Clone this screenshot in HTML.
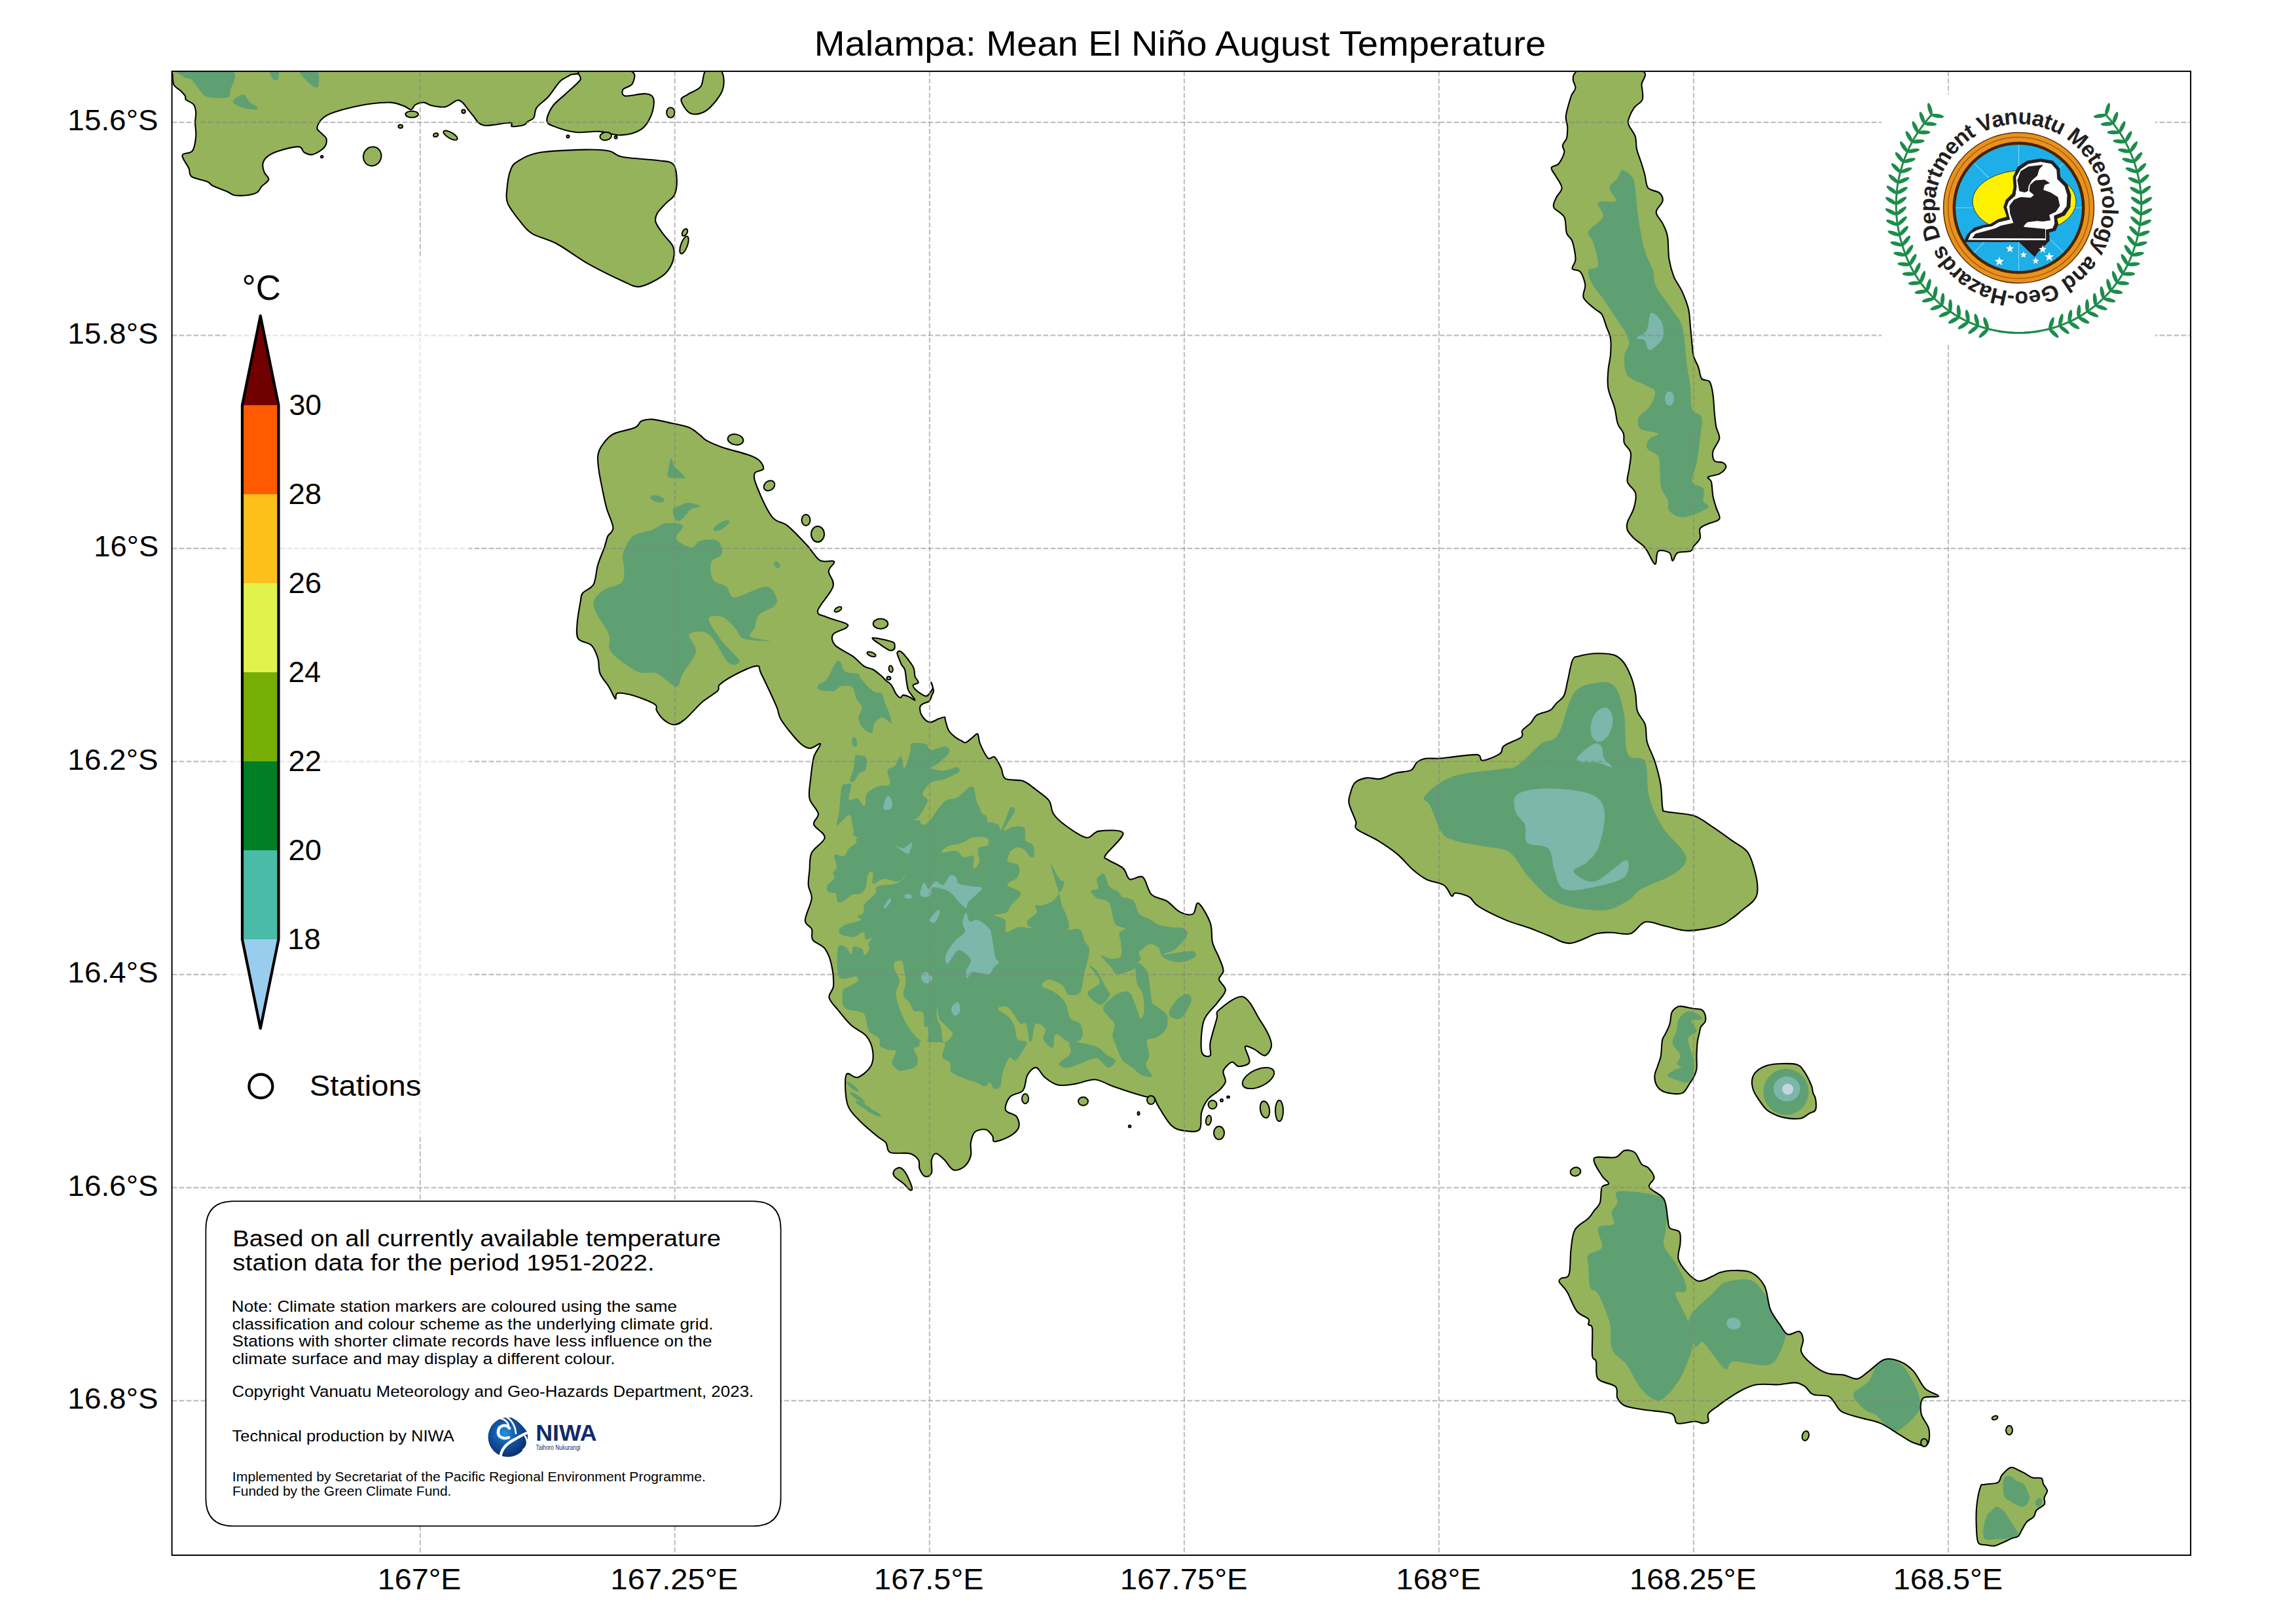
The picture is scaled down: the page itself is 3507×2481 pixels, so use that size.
<!DOCTYPE html><html><head><meta charset="utf-8"><style>html,body{margin:0;padding:0;background:#fff;overflow:hidden}svg{display:block}text{font-family:"Liberation Sans",sans-serif}</style></head><body>
<svg width="3507" height="2481" viewBox="0 0 3507 2481">
<defs><clipPath id="frame"><rect x="262.6" y="108.9" width="3083.5" height="2267.0"/></clipPath></defs>
<rect width="3507" height="2481" fill="#fff"/>
<g clip-path="url(#frame)">
<clipPath id="c1"><path d="M262.0 108.0 C160.8 108.7 262.7 108.4 263.3 112.0 C263.9 115.6 263.4 125.1 265.4 129.4 C267.4 133.8 272.3 135.2 275.2 138.1 C278.1 141.0 281.4 144.4 282.9 146.8 C284.4 149.2 281.8 150.1 284.0 152.3 C286.2 154.5 293.4 156.6 295.9 159.9 C298.4 163.2 298.8 167.4 299.2 171.9 C299.6 176.4 298.1 180.9 298.1 187.1 C298.1 193.3 299.9 201.6 299.2 208.9 C298.5 216.2 297.2 226.0 293.8 230.7 C290.4 235.4 279.4 232.8 278.5 237.2 C277.6 241.5 285.9 251.4 288.3 256.8 C290.7 262.2 288.0 266.4 292.7 269.9 C297.4 273.3 311.2 275.1 316.6 277.5 C322.0 279.9 320.2 281.5 325.3 284.0 C330.4 286.5 341.7 290.3 347.1 292.7 C352.6 295.1 352.9 297.3 358.0 298.2 C363.1 299.1 371.8 298.9 377.6 298.2 C383.4 297.5 389.2 296.0 392.8 293.8 C396.4 291.6 396.5 288.4 399.4 285.1 C402.3 281.8 409.6 277.8 410.3 274.2 C411.0 270.6 405.2 267.3 403.7 263.3 C402.2 259.3 400.8 254.3 401.5 250.3 C402.2 246.3 404.1 242.7 408.1 239.4 C412.1 236.1 417.5 233.2 425.5 230.7 C433.5 228.1 449.5 223.8 456.0 224.1 C462.5 224.4 461.1 230.8 464.7 232.8 C468.3 234.8 472.7 237.4 477.8 236.1 C482.9 234.8 491.8 229.2 495.2 225.2 C498.6 221.2 499.2 215.8 498.5 212.2 C497.8 208.6 493.2 206.1 490.8 203.4 C488.4 200.7 484.3 199.2 484.3 195.8 C484.3 192.4 487.5 186.4 490.8 182.8 C494.1 179.2 497.0 176.9 503.9 174.0 C510.8 171.1 522.0 167.8 532.2 165.3 C542.4 162.8 554.0 160.2 564.9 158.8 C575.8 157.4 588.8 156.1 597.5 156.6 C606.2 157.1 612.0 160.3 617.1 162.1 C622.2 163.9 625.1 167.9 628.0 167.5 C630.9 167.1 631.3 161.7 634.6 159.9 C637.9 158.1 643.6 156.4 647.6 156.6 C651.6 156.8 653.0 159.9 658.5 161.0 C664.0 162.1 673.8 164.5 680.3 163.2 C686.8 161.9 693.4 154.5 697.7 153.4 C702.1 152.3 703.5 154.2 706.4 156.6 C709.3 158.9 712.2 163.9 715.1 167.5 C718.0 171.1 721.4 175.1 723.9 178.4 C726.4 181.7 727.9 184.9 730.4 187.1 C732.9 189.3 735.3 190.9 739.1 191.5 C742.9 192.1 746.5 191.6 753.3 190.9 C760.1 190.2 775.1 187.2 779.9 187.6 C784.7 188.0 778.8 192.5 782.1 193.1 C785.4 193.7 795.8 192.2 799.9 190.9 C804.0 189.6 803.9 187.2 806.5 185.4 C809.1 183.6 813.2 183.3 815.4 179.8 C817.6 176.3 816.1 169.7 819.8 164.3 C823.5 159.0 831.7 154.3 837.6 147.7 C843.5 141.0 849.8 129.9 855.3 124.4 C860.8 118.9 868.2 117.1 870.8 114.4 C873.4 111.7 972.3 109.1 870.8 108.0 C769.3 106.9 363.2 107.3 262.0 108.0Z"/></clipPath>
<path d="M262.0 108.0 C160.8 108.7 262.7 108.4 263.3 112.0 C263.9 115.6 263.4 125.1 265.4 129.4 C267.4 133.8 272.3 135.2 275.2 138.1 C278.1 141.0 281.4 144.4 282.9 146.8 C284.4 149.2 281.8 150.1 284.0 152.3 C286.2 154.5 293.4 156.6 295.9 159.9 C298.4 163.2 298.8 167.4 299.2 171.9 C299.6 176.4 298.1 180.9 298.1 187.1 C298.1 193.3 299.9 201.6 299.2 208.9 C298.5 216.2 297.2 226.0 293.8 230.7 C290.4 235.4 279.4 232.8 278.5 237.2 C277.6 241.5 285.9 251.4 288.3 256.8 C290.7 262.2 288.0 266.4 292.7 269.9 C297.4 273.3 311.2 275.1 316.6 277.5 C322.0 279.9 320.2 281.5 325.3 284.0 C330.4 286.5 341.7 290.3 347.1 292.7 C352.6 295.1 352.9 297.3 358.0 298.2 C363.1 299.1 371.8 298.9 377.6 298.2 C383.4 297.5 389.2 296.0 392.8 293.8 C396.4 291.6 396.5 288.4 399.4 285.1 C402.3 281.8 409.6 277.8 410.3 274.2 C411.0 270.6 405.2 267.3 403.7 263.3 C402.2 259.3 400.8 254.3 401.5 250.3 C402.2 246.3 404.1 242.7 408.1 239.4 C412.1 236.1 417.5 233.2 425.5 230.7 C433.5 228.1 449.5 223.8 456.0 224.1 C462.5 224.4 461.1 230.8 464.7 232.8 C468.3 234.8 472.7 237.4 477.8 236.1 C482.9 234.8 491.8 229.2 495.2 225.2 C498.6 221.2 499.2 215.8 498.5 212.2 C497.8 208.6 493.2 206.1 490.8 203.4 C488.4 200.7 484.3 199.2 484.3 195.8 C484.3 192.4 487.5 186.4 490.8 182.8 C494.1 179.2 497.0 176.9 503.9 174.0 C510.8 171.1 522.0 167.8 532.2 165.3 C542.4 162.8 554.0 160.2 564.9 158.8 C575.8 157.4 588.8 156.1 597.5 156.6 C606.2 157.1 612.0 160.3 617.1 162.1 C622.2 163.9 625.1 167.9 628.0 167.5 C630.9 167.1 631.3 161.7 634.6 159.9 C637.9 158.1 643.6 156.4 647.6 156.6 C651.6 156.8 653.0 159.9 658.5 161.0 C664.0 162.1 673.8 164.5 680.3 163.2 C686.8 161.9 693.4 154.5 697.7 153.4 C702.1 152.3 703.5 154.2 706.4 156.6 C709.3 158.9 712.2 163.9 715.1 167.5 C718.0 171.1 721.4 175.1 723.9 178.4 C726.4 181.7 727.9 184.9 730.4 187.1 C732.9 189.3 735.3 190.9 739.1 191.5 C742.9 192.1 746.5 191.6 753.3 190.9 C760.1 190.2 775.1 187.2 779.9 187.6 C784.7 188.0 778.8 192.5 782.1 193.1 C785.4 193.7 795.8 192.2 799.9 190.9 C804.0 189.6 803.9 187.2 806.5 185.4 C809.1 183.6 813.2 183.3 815.4 179.8 C817.6 176.3 816.1 169.7 819.8 164.3 C823.5 159.0 831.7 154.3 837.6 147.7 C843.5 141.0 849.8 129.9 855.3 124.4 C860.8 118.9 868.2 117.1 870.8 114.4 C873.4 111.7 972.3 109.1 870.8 108.0 C769.3 106.9 363.2 107.3 262.0 108.0Z" fill="#95b35a"/>
<g clip-path="url(#c1)">
<path d="M275.0 108.0 C287.1 106.4 340.9 102.8 353.6 108.0 C366.4 113.2 352.6 132.4 351.5 139.2 C350.4 146.0 352.9 147.6 347.1 149.0 C341.3 150.4 323.9 150.1 316.6 147.9 C309.4 145.7 307.6 140.2 303.6 135.9 C299.6 131.6 296.5 124.9 292.7 121.8 C288.9 118.7 283.6 119.7 280.7 117.4 C277.8 115.1 262.9 109.6 275.0 108.0Z" fill="#5fa072"/>
<path d="M355.8 154.4 C357.2 151.7 366.7 144.2 371.1 144.6 C375.5 145.0 378.4 153.5 382.0 156.6 C385.6 159.7 391.4 161.4 392.8 163.2 C394.2 165.0 394.0 167.2 390.7 167.5 C387.4 167.8 377.9 166.4 373.2 165.3 C368.5 164.2 365.3 162.8 362.4 161.0 C359.5 159.2 354.4 157.1 355.8 154.4Z" fill="#5fa072"/>
<path d="M458.2 108.0 C461.1 105.7 479.6 104.2 484.3 108.0 C489.0 111.8 487.2 126.4 486.5 130.5 C485.8 134.6 483.3 134.1 480.0 132.7 C476.7 131.2 470.5 125.9 466.9 121.8 C463.3 117.7 455.3 110.3 458.2 108.0Z" fill="#5fa072"/>
<path d="M412.4 108.0 C414.0 106.0 423.6 105.7 425.5 108.0 C427.4 110.3 425.6 119.8 424.0 121.8 C422.4 123.8 417.9 122.3 416.0 120.0 C414.1 117.7 410.8 110.0 412.4 108.0Z" fill="#5fa072"/>
</g>
<path d="M262.0 108.0 C160.8 108.7 262.7 108.4 263.3 112.0 C263.9 115.6 263.4 125.1 265.4 129.4 C267.4 133.8 272.3 135.2 275.2 138.1 C278.1 141.0 281.4 144.4 282.9 146.8 C284.4 149.2 281.8 150.1 284.0 152.3 C286.2 154.5 293.4 156.6 295.9 159.9 C298.4 163.2 298.8 167.4 299.2 171.9 C299.6 176.4 298.1 180.9 298.1 187.1 C298.1 193.3 299.9 201.6 299.2 208.9 C298.5 216.2 297.2 226.0 293.8 230.7 C290.4 235.4 279.4 232.8 278.5 237.2 C277.6 241.5 285.9 251.4 288.3 256.8 C290.7 262.2 288.0 266.4 292.7 269.9 C297.4 273.3 311.2 275.1 316.6 277.5 C322.0 279.9 320.2 281.5 325.3 284.0 C330.4 286.5 341.7 290.3 347.1 292.7 C352.6 295.1 352.9 297.3 358.0 298.2 C363.1 299.1 371.8 298.9 377.6 298.2 C383.4 297.5 389.2 296.0 392.8 293.8 C396.4 291.6 396.5 288.4 399.4 285.1 C402.3 281.8 409.6 277.8 410.3 274.2 C411.0 270.6 405.2 267.3 403.7 263.3 C402.2 259.3 400.8 254.3 401.5 250.3 C402.2 246.3 404.1 242.7 408.1 239.4 C412.1 236.1 417.5 233.2 425.5 230.7 C433.5 228.1 449.5 223.8 456.0 224.1 C462.5 224.4 461.1 230.8 464.7 232.8 C468.3 234.8 472.7 237.4 477.8 236.1 C482.9 234.8 491.8 229.2 495.2 225.2 C498.6 221.2 499.2 215.8 498.5 212.2 C497.8 208.6 493.2 206.1 490.8 203.4 C488.4 200.7 484.3 199.2 484.3 195.8 C484.3 192.4 487.5 186.4 490.8 182.8 C494.1 179.2 497.0 176.9 503.9 174.0 C510.8 171.1 522.0 167.8 532.2 165.3 C542.4 162.8 554.0 160.2 564.9 158.8 C575.8 157.4 588.8 156.1 597.5 156.6 C606.2 157.1 612.0 160.3 617.1 162.1 C622.2 163.9 625.1 167.9 628.0 167.5 C630.9 167.1 631.3 161.7 634.6 159.9 C637.9 158.1 643.6 156.4 647.6 156.6 C651.6 156.8 653.0 159.9 658.5 161.0 C664.0 162.1 673.8 164.5 680.3 163.2 C686.8 161.9 693.4 154.5 697.7 153.4 C702.1 152.3 703.5 154.2 706.4 156.6 C709.3 158.9 712.2 163.9 715.1 167.5 C718.0 171.1 721.4 175.1 723.9 178.4 C726.4 181.7 727.9 184.9 730.4 187.1 C732.9 189.3 735.3 190.9 739.1 191.5 C742.9 192.1 746.5 191.6 753.3 190.9 C760.1 190.2 775.1 187.2 779.9 187.6 C784.7 188.0 778.8 192.5 782.1 193.1 C785.4 193.7 795.8 192.2 799.9 190.9 C804.0 189.6 803.9 187.2 806.5 185.4 C809.1 183.6 813.2 183.3 815.4 179.8 C817.6 176.3 816.1 169.7 819.8 164.3 C823.5 159.0 831.7 154.3 837.6 147.7 C843.5 141.0 849.8 129.9 855.3 124.4 C860.8 118.9 868.2 117.1 870.8 114.4 C873.4 111.7 972.3 109.1 870.8 108.0 C769.3 106.9 363.2 107.3 262.0 108.0Z" fill="none" stroke="#000" stroke-width="2.1" stroke-linejoin="round"/>
<clipPath id="c2"><path d="M888.5 108.0 C875.9 110.4 890.3 116.3 886.3 122.2 C882.2 128.1 871.2 136.5 864.2 143.2 C857.2 149.8 849.0 155.3 844.2 162.1 C839.4 168.9 834.9 179.0 835.3 184.2 C835.7 189.4 839.0 190.1 846.4 193.1 C853.8 196.1 868.2 200.7 879.7 202.0 C891.2 203.3 903.7 200.2 915.1 200.9 C926.5 201.6 937.7 207.0 948.4 206.4 C959.1 205.8 971.6 202.8 979.4 197.6 C987.2 192.4 991.9 183.2 995.0 175.4 C998.1 167.6 999.8 156.4 998.3 151.0 C996.8 145.6 993.3 143.9 986.1 143.2 C978.9 142.5 960.7 147.7 955.0 146.6 C949.3 145.5 949.9 139.8 951.7 136.6 C953.6 133.4 964.4 132.5 966.1 127.7 C967.8 122.9 974.6 111.3 961.7 108.0 C948.8 104.7 901.1 105.6 888.5 108.0Z"/></clipPath>
<path d="M888.5 108.0 C875.9 110.4 890.3 116.3 886.3 122.2 C882.2 128.1 871.2 136.5 864.2 143.2 C857.2 149.8 849.0 155.3 844.2 162.1 C839.4 168.9 834.9 179.0 835.3 184.2 C835.7 189.4 839.0 190.1 846.4 193.1 C853.8 196.1 868.2 200.7 879.7 202.0 C891.2 203.3 903.7 200.2 915.1 200.9 C926.5 201.6 937.7 207.0 948.4 206.4 C959.1 205.8 971.6 202.8 979.4 197.6 C987.2 192.4 991.9 183.2 995.0 175.4 C998.1 167.6 999.8 156.4 998.3 151.0 C996.8 145.6 993.3 143.9 986.1 143.2 C978.9 142.5 960.7 147.7 955.0 146.6 C949.3 145.5 949.9 139.8 951.7 136.6 C953.6 133.4 964.4 132.5 966.1 127.7 C967.8 122.9 974.6 111.3 961.7 108.0 C948.8 104.7 901.1 105.6 888.5 108.0Z" fill="#95b35a"/>
<path d="M888.5 108.0 C875.9 110.4 890.3 116.3 886.3 122.2 C882.2 128.1 871.2 136.5 864.2 143.2 C857.2 149.8 849.0 155.3 844.2 162.1 C839.4 168.9 834.9 179.0 835.3 184.2 C835.7 189.4 839.0 190.1 846.4 193.1 C853.8 196.1 868.2 200.7 879.7 202.0 C891.2 203.3 903.7 200.2 915.1 200.9 C926.5 201.6 937.7 207.0 948.4 206.4 C959.1 205.8 971.6 202.8 979.4 197.6 C987.2 192.4 991.9 183.2 995.0 175.4 C998.1 167.6 999.8 156.4 998.3 151.0 C996.8 145.6 993.3 143.9 986.1 143.2 C978.9 142.5 960.7 147.7 955.0 146.6 C949.3 145.5 949.9 139.8 951.7 136.6 C953.6 133.4 964.4 132.5 966.1 127.7 C967.8 122.9 974.6 111.3 961.7 108.0 C948.8 104.7 901.1 105.6 888.5 108.0Z" fill="none" stroke="#000" stroke-width="2.1" stroke-linejoin="round"/>
<clipPath id="c3"><path d="M1078.1 108.0 C1072.9 112.0 1074.9 126.0 1070.3 132.1 C1065.7 138.2 1055.4 140.8 1050.4 144.3 C1045.4 147.8 1039.7 148.4 1040.4 153.2 C1041.1 158.0 1048.3 170.6 1054.8 173.2 C1061.3 175.8 1071.1 174.6 1079.2 168.7 C1087.3 162.8 1099.9 147.8 1103.6 137.7 C1107.3 127.6 1105.7 113.0 1101.4 108.0 C1097.2 103.0 1083.3 104.0 1078.1 108.0Z"/></clipPath>
<path d="M1078.1 108.0 C1072.9 112.0 1074.9 126.0 1070.3 132.1 C1065.7 138.2 1055.4 140.8 1050.4 144.3 C1045.4 147.8 1039.7 148.4 1040.4 153.2 C1041.1 158.0 1048.3 170.6 1054.8 173.2 C1061.3 175.8 1071.1 174.6 1079.2 168.7 C1087.3 162.8 1099.9 147.8 1103.6 137.7 C1107.3 127.6 1105.7 113.0 1101.4 108.0 C1097.2 103.0 1083.3 104.0 1078.1 108.0Z" fill="#95b35a"/>
<path d="M1078.1 108.0 C1072.9 112.0 1074.9 126.0 1070.3 132.1 C1065.7 138.2 1055.4 140.8 1050.4 144.3 C1045.4 147.8 1039.7 148.4 1040.4 153.2 C1041.1 158.0 1048.3 170.6 1054.8 173.2 C1061.3 175.8 1071.1 174.6 1079.2 168.7 C1087.3 162.8 1099.9 147.8 1103.6 137.7 C1107.3 127.6 1105.7 113.0 1101.4 108.0 C1097.2 103.0 1083.3 104.0 1078.1 108.0Z" fill="none" stroke="#000" stroke-width="2.1" stroke-linejoin="round"/>
<clipPath id="c4"><path d="M779.9 259.6 C782.7 252.6 783.6 250.7 791.0 246.3 C798.4 241.9 806.8 235.9 824.2 233.0 C841.6 230.1 877.5 229.0 895.2 228.6 C913.0 228.2 921.5 229.0 930.7 230.8 C939.9 232.7 938.1 237.3 950.6 239.7 C963.1 242.1 993.1 243.3 1006.0 245.2 C1018.9 247.0 1023.6 246.2 1028.2 250.8 C1032.8 255.4 1033.4 265.1 1033.8 272.9 C1034.2 280.6 1033.2 291.0 1030.4 297.3 C1027.6 303.6 1021.5 305.8 1017.1 310.6 C1012.7 315.4 1006.4 321.3 1003.8 326.1 C1001.2 330.9 1000.1 334.2 1001.6 339.4 C1003.1 344.6 1008.3 350.9 1012.7 357.2 C1017.1 363.5 1025.6 370.5 1028.2 377.1 C1030.8 383.8 1030.0 390.5 1028.2 397.1 C1026.4 403.8 1022.3 411.5 1017.1 417.0 C1011.9 422.5 1004.2 426.8 997.2 430.3 C990.2 433.8 982.4 438.1 975.0 438.1 C967.6 438.1 965.4 436.0 952.8 430.3 C940.2 424.6 916.6 413.3 899.6 403.7 C882.6 394.1 865.3 380.4 850.9 372.7 C836.5 364.9 822.5 362.8 813.2 357.2 C804.0 351.6 801.7 347.2 795.4 339.4 C789.1 331.6 779.0 319.1 775.5 310.6 C772.0 302.1 773.7 296.9 774.4 288.4 C775.1 279.9 777.1 266.6 779.9 259.6Z"/></clipPath>
<path d="M779.9 259.6 C782.7 252.6 783.6 250.7 791.0 246.3 C798.4 241.9 806.8 235.9 824.2 233.0 C841.6 230.1 877.5 229.0 895.2 228.6 C913.0 228.2 921.5 229.0 930.7 230.8 C939.9 232.7 938.1 237.3 950.6 239.7 C963.1 242.1 993.1 243.3 1006.0 245.2 C1018.9 247.0 1023.6 246.2 1028.2 250.8 C1032.8 255.4 1033.4 265.1 1033.8 272.9 C1034.2 280.6 1033.2 291.0 1030.4 297.3 C1027.6 303.6 1021.5 305.8 1017.1 310.6 C1012.7 315.4 1006.4 321.3 1003.8 326.1 C1001.2 330.9 1000.1 334.2 1001.6 339.4 C1003.1 344.6 1008.3 350.9 1012.7 357.2 C1017.1 363.5 1025.6 370.5 1028.2 377.1 C1030.8 383.8 1030.0 390.5 1028.2 397.1 C1026.4 403.8 1022.3 411.5 1017.1 417.0 C1011.9 422.5 1004.2 426.8 997.2 430.3 C990.2 433.8 982.4 438.1 975.0 438.1 C967.6 438.1 965.4 436.0 952.8 430.3 C940.2 424.6 916.6 413.3 899.6 403.7 C882.6 394.1 865.3 380.4 850.9 372.7 C836.5 364.9 822.5 362.8 813.2 357.2 C804.0 351.6 801.7 347.2 795.4 339.4 C789.1 331.6 779.0 319.1 775.5 310.6 C772.0 302.1 773.7 296.9 774.4 288.4 C775.1 279.9 777.1 266.6 779.9 259.6Z" fill="#95b35a"/>
<path d="M779.9 259.6 C782.7 252.6 783.6 250.7 791.0 246.3 C798.4 241.9 806.8 235.9 824.2 233.0 C841.6 230.1 877.5 229.0 895.2 228.6 C913.0 228.2 921.5 229.0 930.7 230.8 C939.9 232.7 938.1 237.3 950.6 239.7 C963.1 242.1 993.1 243.3 1006.0 245.2 C1018.9 247.0 1023.6 246.2 1028.2 250.8 C1032.8 255.4 1033.4 265.1 1033.8 272.9 C1034.2 280.6 1033.2 291.0 1030.4 297.3 C1027.6 303.6 1021.5 305.8 1017.1 310.6 C1012.7 315.4 1006.4 321.3 1003.8 326.1 C1001.2 330.9 1000.1 334.2 1001.6 339.4 C1003.1 344.6 1008.3 350.9 1012.7 357.2 C1017.1 363.5 1025.6 370.5 1028.2 377.1 C1030.8 383.8 1030.0 390.5 1028.2 397.1 C1026.4 403.8 1022.3 411.5 1017.1 417.0 C1011.9 422.5 1004.2 426.8 997.2 430.3 C990.2 433.8 982.4 438.1 975.0 438.1 C967.6 438.1 965.4 436.0 952.8 430.3 C940.2 424.6 916.6 413.3 899.6 403.7 C882.6 394.1 865.3 380.4 850.9 372.7 C836.5 364.9 822.5 362.8 813.2 357.2 C804.0 351.6 801.7 347.2 795.4 339.4 C789.1 331.6 779.0 319.1 775.5 310.6 C772.0 302.1 773.7 296.9 774.4 288.4 C775.1 279.9 777.1 266.6 779.9 259.6Z" fill="none" stroke="#000" stroke-width="2.1" stroke-linejoin="round"/>
<ellipse cx="568.7" cy="238.8" rx="13.6" ry="14.7" transform="rotate(20.0 568.7 238.8)" fill="#95b35a" stroke="#000" stroke-width="2.0"/>
<ellipse cx="629.1" cy="174.6" rx="9.8" ry="4.9" transform="rotate(0.0 629.1 174.6)" fill="#95b35a" stroke="#000" stroke-width="2.0"/>
<ellipse cx="611.7" cy="193.1" rx="3.3" ry="2.7" transform="rotate(0.0 611.7 193.1)" fill="#95b35a" stroke="#000" stroke-width="2.0"/>
<ellipse cx="665.6" cy="206.2" rx="3.8" ry="2.7" transform="rotate(-20.0 665.6 206.2)" fill="#95b35a" stroke="#000" stroke-width="2.0"/>
<ellipse cx="688.0" cy="206.7" rx="12.0" ry="4.5" transform="rotate(30.0 688.0 206.7)" fill="#95b35a" stroke="#000" stroke-width="2.0"/>
<ellipse cx="708.0" cy="170.3" rx="2.7" ry="2.7" transform="rotate(0.0 708.0 170.3)" fill="#95b35a" stroke="#000" stroke-width="2.0"/>
<ellipse cx="491.7" cy="239.4" rx="1.7" ry="1.7" transform="rotate(0.0 491.7 239.4)" fill="#95b35a" stroke="#000" stroke-width="2.0"/>
<ellipse cx="925.2" cy="208.1" rx="8.9" ry="6.1" transform="rotate(-10.0 925.2 208.1)" fill="#95b35a" stroke="#000" stroke-width="2.0"/>
<ellipse cx="1024.3" cy="172.0" rx="6.1" ry="7.8" transform="rotate(0.0 1024.3 172.0)" fill="#95b35a" stroke="#000" stroke-width="2.0"/>
<ellipse cx="1046.0" cy="355.0" rx="3.5" ry="6.0" transform="rotate(30.0 1046.0 355.0)" fill="#95b35a" stroke="#000" stroke-width="2.0"/>
<ellipse cx="1045.0" cy="374.3" rx="5.0" ry="14.0" transform="rotate(20.0 1045.0 374.3)" fill="#95b35a" stroke="#000" stroke-width="2.0"/>
<ellipse cx="867.5" cy="208.6" rx="2.0" ry="2.0" transform="rotate(0.0 867.5 208.6)" fill="#95b35a" stroke="#000" stroke-width="2.0"/>
<ellipse cx="940.6" cy="209.7" rx="2.0" ry="2.0" transform="rotate(0.0 940.6 209.7)" fill="#95b35a" stroke="#000" stroke-width="2.0"/>
<clipPath id="c5"><path d="M979.7 643.3 C984.1 641.2 988.6 640.0 996.4 640.6 C1004.2 641.2 1016.9 644.5 1026.3 646.6 C1035.7 648.7 1045.7 650.2 1052.9 653.3 C1060.1 656.3 1065.1 661.6 1069.5 664.9 C1073.9 668.2 1074.0 670.2 1079.5 673.2 C1085.0 676.2 1092.3 679.6 1102.8 683.2 C1113.3 686.8 1133.3 691.5 1142.7 694.8 C1152.1 698.1 1155.4 699.5 1159.3 703.1 C1163.2 706.7 1167.1 713.1 1166.0 716.4 C1164.9 719.7 1154.4 718.7 1152.7 723.1 C1151.0 727.5 1151.6 731.9 1156.0 743.0 C1160.4 754.1 1171.5 779.6 1179.3 789.6 C1187.1 799.6 1193.7 795.7 1202.6 802.9 C1211.5 810.1 1224.2 823.9 1232.5 832.8 C1240.8 841.7 1245.5 851.9 1252.4 856.1 C1259.3 860.3 1271.9 855.0 1274.1 857.8 C1276.3 860.6 1266.0 866.3 1265.7 872.7 C1265.4 879.1 1275.2 886.0 1272.4 896.0 C1269.6 906.0 1250.8 924.8 1249.1 932.6 C1247.4 940.4 1255.2 939.3 1262.4 942.6 C1269.6 945.9 1287.3 949.8 1292.3 952.6 C1297.3 955.4 1295.6 956.4 1292.3 959.2 C1289.0 962.0 1275.2 964.8 1272.4 969.2 C1269.6 973.6 1270.7 980.3 1275.7 985.8 C1280.7 991.3 1294.9 997.0 1302.3 1002.4 C1309.7 1007.8 1314.9 1014.5 1320.0 1017.9 C1325.1 1021.2 1328.6 1020.1 1332.9 1022.5 C1337.2 1024.9 1342.5 1029.3 1345.9 1032.2 C1349.4 1035.1 1351.0 1037.5 1353.6 1039.9 C1356.2 1042.3 1358.8 1043.0 1361.4 1046.4 C1364.0 1049.9 1366.7 1057.4 1369.1 1060.6 C1371.5 1063.8 1373.9 1065.6 1375.6 1065.8 C1377.3 1066.0 1377.3 1062.1 1379.5 1061.9 C1381.7 1061.7 1385.5 1063.2 1388.5 1064.5 C1391.5 1065.8 1396.9 1070.1 1397.6 1069.7 C1398.2 1069.3 1394.1 1064.5 1392.4 1061.9 C1390.7 1059.3 1388.5 1057.5 1387.2 1054.1 C1385.9 1050.6 1385.6 1046.4 1384.7 1041.2 C1383.8 1036.0 1383.4 1027.4 1382.1 1023.1 C1380.8 1018.8 1378.6 1018.8 1376.9 1015.3 C1375.2 1011.8 1372.8 1005.4 1371.7 1002.4 C1370.6 999.4 1370.0 998.5 1370.4 997.2 C1370.8 995.9 1372.6 994.3 1374.3 994.7 C1376.0 995.1 1377.3 995.7 1380.8 999.8 C1384.2 1003.9 1392.2 1013.6 1395.0 1019.2 C1397.8 1024.8 1396.3 1029.6 1397.6 1033.5 C1398.9 1037.4 1403.2 1040.3 1402.8 1042.5 C1402.4 1044.7 1395.9 1044.7 1395.0 1046.4 C1394.1 1048.1 1395.4 1050.4 1397.6 1052.8 C1399.8 1055.2 1404.9 1058.9 1407.9 1060.6 C1410.9 1062.3 1413.1 1064.3 1415.7 1063.2 C1418.3 1062.1 1422.0 1056.5 1423.5 1054.1 C1425.0 1051.7 1424.9 1050.9 1424.7 1049.0 C1424.5 1047.1 1422.0 1041.5 1422.2 1042.5 C1422.4 1043.5 1425.8 1051.8 1426.0 1055.0 C1426.2 1058.2 1424.6 1059.2 1423.5 1061.9 C1422.4 1064.6 1421.8 1068.8 1419.6 1071.0 C1417.4 1073.2 1412.9 1073.3 1410.5 1074.8 C1408.1 1076.3 1405.7 1077.0 1405.3 1080.0 C1404.9 1083.0 1405.5 1089.0 1407.9 1092.9 C1410.3 1096.8 1415.3 1102.4 1419.6 1103.3 C1423.9 1104.2 1429.9 1099.4 1433.8 1098.1 C1437.7 1096.8 1441.1 1095.1 1442.8 1095.5 C1444.5 1095.9 1443.0 1097.2 1444.1 1100.7 C1445.2 1104.2 1446.7 1111.9 1449.3 1116.2 C1451.9 1120.5 1456.5 1124.0 1459.7 1126.6 C1462.9 1129.2 1466.1 1130.4 1468.7 1131.7 C1471.3 1133.0 1472.4 1135.2 1475.2 1134.3 C1478.0 1133.4 1482.5 1128.8 1485.5 1126.6 C1488.5 1124.4 1491.3 1119.7 1493.3 1121.4 C1495.2 1123.1 1494.5 1130.8 1497.2 1136.9 C1499.9 1143.0 1505.5 1154.9 1509.2 1158.2 C1512.9 1161.5 1515.9 1154.0 1519.2 1156.5 C1522.5 1159.0 1526.3 1167.6 1529.1 1173.1 C1531.9 1178.6 1530.2 1186.4 1535.8 1189.7 C1541.3 1193.0 1554.7 1190.3 1562.4 1193.1 C1570.2 1195.9 1575.7 1201.4 1582.3 1206.4 C1588.9 1211.4 1597.9 1216.9 1602.3 1223.0 C1606.7 1229.1 1605.0 1236.9 1608.9 1243.0 C1612.8 1249.1 1617.3 1253.5 1625.6 1259.6 C1633.9 1265.7 1649.9 1277.8 1658.8 1279.5 C1667.7 1281.2 1669.4 1270.7 1678.8 1269.6 C1688.2 1268.5 1713.7 1266.8 1715.4 1272.9 C1717.1 1279.0 1692.7 1299.4 1688.8 1306.1 C1684.9 1312.8 1687.8 1309.9 1692.3 1313.3 C1696.8 1316.7 1710.0 1321.6 1715.6 1326.6 C1721.1 1331.6 1720.6 1341.0 1725.6 1343.2 C1730.6 1345.4 1740.0 1336.0 1745.5 1339.9 C1751.0 1343.8 1752.7 1360.4 1758.8 1366.5 C1764.9 1372.6 1774.9 1372.1 1782.1 1376.5 C1789.3 1380.9 1795.4 1389.8 1802.1 1393.1 C1808.8 1396.4 1817.3 1398.6 1822.0 1396.4 C1826.7 1394.2 1826.0 1377.6 1830.4 1379.8 C1834.8 1382.0 1845.0 1399.8 1848.6 1409.8 C1852.2 1419.8 1849.8 1430.8 1852.0 1439.7 C1854.2 1448.6 1859.2 1455.8 1862.0 1463.0 C1864.8 1470.2 1868.6 1477.4 1868.6 1482.9 C1868.6 1488.4 1861.5 1491.2 1862.0 1496.2 C1862.5 1501.2 1872.5 1506.8 1871.9 1512.9 C1871.3 1519.0 1864.1 1525.0 1858.6 1532.8 C1853.1 1540.5 1842.6 1547.2 1838.7 1559.4 C1834.8 1571.6 1833.7 1597.1 1835.3 1606.0 C1836.9 1614.9 1846.4 1614.8 1848.6 1612.6 C1850.8 1610.4 1846.9 1602.1 1848.6 1592.7 C1850.3 1583.3 1856.4 1564.4 1858.6 1556.1 C1860.8 1547.8 1855.3 1548.3 1862.0 1542.8 C1868.7 1537.2 1888.0 1520.0 1898.5 1522.8 C1909.0 1525.6 1918.4 1549.4 1925.1 1559.4 C1931.8 1569.4 1935.6 1576.1 1938.4 1582.7 C1941.2 1589.3 1942.9 1594.3 1941.8 1599.3 C1940.7 1604.3 1936.2 1612.0 1931.8 1612.6 C1927.4 1613.1 1920.2 1604.8 1915.2 1602.6 C1910.2 1600.4 1903.0 1596.0 1901.9 1599.3 C1900.8 1602.6 1910.2 1617.6 1908.5 1622.6 C1906.8 1627.6 1896.3 1629.3 1891.9 1629.3 C1887.5 1629.3 1885.8 1621.5 1881.9 1622.6 C1878.0 1623.7 1870.3 1630.9 1868.6 1635.9 C1866.9 1640.9 1873.0 1647.5 1871.9 1652.5 C1870.8 1657.5 1866.4 1661.4 1862.0 1665.8 C1857.6 1670.2 1849.8 1673.5 1845.3 1679.1 C1840.8 1684.6 1837.5 1691.3 1835.3 1699.1 C1833.1 1706.9 1836.4 1721.0 1832.0 1725.7 C1827.6 1730.4 1815.9 1728.5 1808.7 1727.4 C1801.5 1726.3 1795.5 1725.4 1788.8 1719.0 C1782.1 1712.6 1773.2 1696.3 1768.8 1689.1 C1764.4 1681.9 1765.0 1678.0 1762.2 1675.8 C1759.4 1673.6 1757.8 1676.9 1752.2 1675.8 C1746.7 1674.7 1737.8 1672.0 1728.9 1669.2 C1720.0 1666.4 1708.4 1662.5 1699.0 1659.2 C1689.6 1655.9 1681.8 1649.8 1672.4 1649.2 C1663.0 1648.7 1651.8 1654.5 1642.4 1655.9 C1633.0 1657.3 1623.5 1659.2 1615.8 1657.5 C1608.0 1655.8 1601.4 1650.3 1595.9 1645.9 C1590.4 1641.5 1587.0 1631.5 1582.6 1630.9 C1578.2 1630.3 1572.6 1636.7 1569.3 1642.5 C1566.0 1648.3 1567.0 1660.2 1562.6 1665.8 C1558.2 1671.3 1547.1 1670.8 1542.7 1675.8 C1538.3 1680.8 1534.3 1690.8 1536.0 1695.8 C1537.7 1700.8 1549.3 1701.3 1552.6 1705.7 C1555.9 1710.1 1557.7 1717.4 1556.0 1722.4 C1554.3 1727.4 1548.8 1732.1 1542.7 1735.7 C1536.6 1739.3 1523.8 1744.0 1519.4 1744.0 C1515.0 1744.0 1518.3 1738.8 1516.1 1735.7 C1513.9 1732.7 1510.5 1726.8 1506.1 1725.7 C1501.7 1724.6 1493.4 1725.7 1489.5 1729.0 C1485.6 1732.3 1483.9 1739.6 1482.8 1745.7 C1481.7 1751.8 1484.5 1759.5 1482.8 1765.6 C1481.1 1771.7 1477.2 1778.6 1472.8 1782.2 C1468.4 1785.8 1461.2 1788.9 1456.2 1787.2 C1451.2 1785.5 1447.3 1776.5 1442.9 1772.3 C1438.5 1768.1 1432.9 1762.3 1429.6 1762.3 C1426.3 1762.3 1424.0 1767.3 1422.9 1772.3 C1421.8 1777.3 1424.6 1788.0 1422.9 1792.2 C1421.2 1796.4 1416.0 1798.3 1413.0 1797.2 C1410.0 1796.1 1406.3 1789.8 1404.6 1785.6 C1402.9 1781.4 1405.5 1776.2 1403.0 1772.3 C1400.5 1768.4 1396.9 1764.2 1389.7 1762.3 C1382.5 1760.3 1365.9 1763.4 1359.8 1760.6 C1353.7 1757.8 1356.4 1749.8 1353.1 1745.7 C1349.8 1741.6 1346.4 1741.2 1339.8 1735.7 C1333.2 1730.2 1320.4 1719.6 1313.2 1712.4 C1306.0 1705.2 1300.2 1699.6 1296.6 1692.4 C1293.0 1685.2 1292.2 1677.8 1291.6 1669.2 C1291.0 1660.6 1290.2 1644.8 1293.2 1640.9 C1296.2 1637.0 1303.8 1647.8 1309.9 1645.9 C1316.0 1644.0 1325.9 1636.0 1329.8 1629.3 C1333.7 1622.6 1334.2 1613.8 1333.1 1606.0 C1332.0 1598.2 1328.7 1589.4 1323.2 1582.7 C1317.7 1576.0 1307.1 1572.8 1299.9 1566.1 C1292.7 1559.4 1285.5 1549.8 1279.9 1542.8 C1274.3 1535.8 1267.5 1530.1 1266.4 1523.9 C1265.3 1517.7 1272.5 1514.3 1273.1 1505.7 C1273.6 1497.1 1271.9 1481.8 1269.7 1472.4 C1267.5 1463.0 1264.5 1455.2 1259.8 1449.1 C1255.1 1443.0 1244.8 1440.8 1241.5 1435.8 C1238.2 1430.8 1241.8 1424.2 1239.8 1419.2 C1237.8 1414.2 1229.8 1413.7 1229.8 1405.9 C1229.8 1398.2 1239.0 1381.6 1239.8 1372.7 C1240.6 1363.8 1235.3 1359.9 1234.8 1352.7 C1234.2 1345.5 1235.7 1337.7 1236.5 1329.4 C1237.3 1321.1 1235.9 1311.1 1239.8 1302.8 C1243.7 1294.5 1259.2 1286.7 1259.8 1279.5 C1260.3 1272.3 1244.8 1265.7 1243.1 1259.6 C1241.4 1253.5 1250.9 1249.7 1249.8 1243.0 C1248.7 1236.3 1238.4 1228.6 1236.5 1219.7 C1234.6 1210.8 1237.1 1200.2 1238.2 1189.7 C1239.3 1179.2 1240.6 1165.4 1243.1 1156.5 C1245.6 1147.6 1254.2 1138.7 1253.1 1136.5 C1252.0 1134.3 1242.0 1143.8 1236.5 1143.2 C1231.0 1142.7 1227.1 1140.4 1219.9 1133.2 C1212.7 1126.0 1199.0 1109.0 1193.3 1100.0 C1187.6 1091.0 1191.0 1090.7 1185.9 1078.9 C1180.8 1067.1 1167.6 1039.2 1162.6 1029.0 C1157.6 1018.8 1162.1 1017.4 1156.0 1017.4 C1149.9 1017.4 1135.5 1024.3 1126.1 1029.0 C1116.7 1033.7 1104.5 1041.3 1099.5 1045.7 C1094.5 1050.1 1100.5 1051.2 1096.1 1055.6 C1091.7 1060.0 1081.2 1065.1 1072.9 1072.3 C1064.6 1079.5 1053.5 1093.1 1046.3 1098.9 C1039.1 1104.7 1035.1 1107.2 1029.6 1107.2 C1024.0 1107.2 1017.4 1102.5 1013.0 1098.9 C1008.6 1095.3 1005.2 1089.5 1003.0 1085.6 C1000.8 1081.7 1005.8 1079.5 999.7 1075.6 C993.6 1071.7 975.8 1065.1 966.4 1062.3 C957.0 1059.5 947.6 1058.2 943.2 1059.0 C938.8 1059.8 942.0 1069.0 939.8 1067.3 C937.6 1065.6 933.8 1055.4 929.9 1049.0 C926.0 1042.6 919.4 1036.2 916.6 1029.0 C913.8 1021.8 915.4 1013.0 913.2 1005.8 C911.0 998.6 908.3 990.8 903.3 985.8 C898.3 980.8 886.9 981.3 883.3 975.8 C879.7 970.3 881.0 962.0 881.6 952.6 C882.2 943.2 885.2 927.1 886.6 919.3 C888.0 911.5 886.7 910.4 890.0 906.0 C893.3 901.6 902.7 899.9 906.6 892.7 C910.5 885.5 910.4 872.2 913.2 862.8 C916.0 853.4 920.7 843.4 923.2 836.2 C925.7 829.0 926.0 824.5 928.2 819.5 C930.4 814.5 936.8 813.4 936.5 806.2 C936.2 799.0 929.3 786.3 926.5 776.3 C923.7 766.3 921.8 755.8 919.9 746.4 C918.0 737.0 916.0 728.1 914.9 719.8 C913.8 711.5 912.4 703.1 913.2 696.5 C914.0 689.9 916.0 685.4 919.9 679.9 C923.8 674.4 928.2 667.6 936.5 663.2 C944.8 658.8 962.6 656.6 969.8 653.3 C977.0 650.0 975.3 645.4 979.7 643.3Z"/></clipPath>
<path d="M979.7 643.3 C984.1 641.2 988.6 640.0 996.4 640.6 C1004.2 641.2 1016.9 644.5 1026.3 646.6 C1035.7 648.7 1045.7 650.2 1052.9 653.3 C1060.1 656.3 1065.1 661.6 1069.5 664.9 C1073.9 668.2 1074.0 670.2 1079.5 673.2 C1085.0 676.2 1092.3 679.6 1102.8 683.2 C1113.3 686.8 1133.3 691.5 1142.7 694.8 C1152.1 698.1 1155.4 699.5 1159.3 703.1 C1163.2 706.7 1167.1 713.1 1166.0 716.4 C1164.9 719.7 1154.4 718.7 1152.7 723.1 C1151.0 727.5 1151.6 731.9 1156.0 743.0 C1160.4 754.1 1171.5 779.6 1179.3 789.6 C1187.1 799.6 1193.7 795.7 1202.6 802.9 C1211.5 810.1 1224.2 823.9 1232.5 832.8 C1240.8 841.7 1245.5 851.9 1252.4 856.1 C1259.3 860.3 1271.9 855.0 1274.1 857.8 C1276.3 860.6 1266.0 866.3 1265.7 872.7 C1265.4 879.1 1275.2 886.0 1272.4 896.0 C1269.6 906.0 1250.8 924.8 1249.1 932.6 C1247.4 940.4 1255.2 939.3 1262.4 942.6 C1269.6 945.9 1287.3 949.8 1292.3 952.6 C1297.3 955.4 1295.6 956.4 1292.3 959.2 C1289.0 962.0 1275.2 964.8 1272.4 969.2 C1269.6 973.6 1270.7 980.3 1275.7 985.8 C1280.7 991.3 1294.9 997.0 1302.3 1002.4 C1309.7 1007.8 1314.9 1014.5 1320.0 1017.9 C1325.1 1021.2 1328.6 1020.1 1332.9 1022.5 C1337.2 1024.9 1342.5 1029.3 1345.9 1032.2 C1349.4 1035.1 1351.0 1037.5 1353.6 1039.9 C1356.2 1042.3 1358.8 1043.0 1361.4 1046.4 C1364.0 1049.9 1366.7 1057.4 1369.1 1060.6 C1371.5 1063.8 1373.9 1065.6 1375.6 1065.8 C1377.3 1066.0 1377.3 1062.1 1379.5 1061.9 C1381.7 1061.7 1385.5 1063.2 1388.5 1064.5 C1391.5 1065.8 1396.9 1070.1 1397.6 1069.7 C1398.2 1069.3 1394.1 1064.5 1392.4 1061.9 C1390.7 1059.3 1388.5 1057.5 1387.2 1054.1 C1385.9 1050.6 1385.6 1046.4 1384.7 1041.2 C1383.8 1036.0 1383.4 1027.4 1382.1 1023.1 C1380.8 1018.8 1378.6 1018.8 1376.9 1015.3 C1375.2 1011.8 1372.8 1005.4 1371.7 1002.4 C1370.6 999.4 1370.0 998.5 1370.4 997.2 C1370.8 995.9 1372.6 994.3 1374.3 994.7 C1376.0 995.1 1377.3 995.7 1380.8 999.8 C1384.2 1003.9 1392.2 1013.6 1395.0 1019.2 C1397.8 1024.8 1396.3 1029.6 1397.6 1033.5 C1398.9 1037.4 1403.2 1040.3 1402.8 1042.5 C1402.4 1044.7 1395.9 1044.7 1395.0 1046.4 C1394.1 1048.1 1395.4 1050.4 1397.6 1052.8 C1399.8 1055.2 1404.9 1058.9 1407.9 1060.6 C1410.9 1062.3 1413.1 1064.3 1415.7 1063.2 C1418.3 1062.1 1422.0 1056.5 1423.5 1054.1 C1425.0 1051.7 1424.9 1050.9 1424.7 1049.0 C1424.5 1047.1 1422.0 1041.5 1422.2 1042.5 C1422.4 1043.5 1425.8 1051.8 1426.0 1055.0 C1426.2 1058.2 1424.6 1059.2 1423.5 1061.9 C1422.4 1064.6 1421.8 1068.8 1419.6 1071.0 C1417.4 1073.2 1412.9 1073.3 1410.5 1074.8 C1408.1 1076.3 1405.7 1077.0 1405.3 1080.0 C1404.9 1083.0 1405.5 1089.0 1407.9 1092.9 C1410.3 1096.8 1415.3 1102.4 1419.6 1103.3 C1423.9 1104.2 1429.9 1099.4 1433.8 1098.1 C1437.7 1096.8 1441.1 1095.1 1442.8 1095.5 C1444.5 1095.9 1443.0 1097.2 1444.1 1100.7 C1445.2 1104.2 1446.7 1111.9 1449.3 1116.2 C1451.9 1120.5 1456.5 1124.0 1459.7 1126.6 C1462.9 1129.2 1466.1 1130.4 1468.7 1131.7 C1471.3 1133.0 1472.4 1135.2 1475.2 1134.3 C1478.0 1133.4 1482.5 1128.8 1485.5 1126.6 C1488.5 1124.4 1491.3 1119.7 1493.3 1121.4 C1495.2 1123.1 1494.5 1130.8 1497.2 1136.9 C1499.9 1143.0 1505.5 1154.9 1509.2 1158.2 C1512.9 1161.5 1515.9 1154.0 1519.2 1156.5 C1522.5 1159.0 1526.3 1167.6 1529.1 1173.1 C1531.9 1178.6 1530.2 1186.4 1535.8 1189.7 C1541.3 1193.0 1554.7 1190.3 1562.4 1193.1 C1570.2 1195.9 1575.7 1201.4 1582.3 1206.4 C1588.9 1211.4 1597.9 1216.9 1602.3 1223.0 C1606.7 1229.1 1605.0 1236.9 1608.9 1243.0 C1612.8 1249.1 1617.3 1253.5 1625.6 1259.6 C1633.9 1265.7 1649.9 1277.8 1658.8 1279.5 C1667.7 1281.2 1669.4 1270.7 1678.8 1269.6 C1688.2 1268.5 1713.7 1266.8 1715.4 1272.9 C1717.1 1279.0 1692.7 1299.4 1688.8 1306.1 C1684.9 1312.8 1687.8 1309.9 1692.3 1313.3 C1696.8 1316.7 1710.0 1321.6 1715.6 1326.6 C1721.1 1331.6 1720.6 1341.0 1725.6 1343.2 C1730.6 1345.4 1740.0 1336.0 1745.5 1339.9 C1751.0 1343.8 1752.7 1360.4 1758.8 1366.5 C1764.9 1372.6 1774.9 1372.1 1782.1 1376.5 C1789.3 1380.9 1795.4 1389.8 1802.1 1393.1 C1808.8 1396.4 1817.3 1398.6 1822.0 1396.4 C1826.7 1394.2 1826.0 1377.6 1830.4 1379.8 C1834.8 1382.0 1845.0 1399.8 1848.6 1409.8 C1852.2 1419.8 1849.8 1430.8 1852.0 1439.7 C1854.2 1448.6 1859.2 1455.8 1862.0 1463.0 C1864.8 1470.2 1868.6 1477.4 1868.6 1482.9 C1868.6 1488.4 1861.5 1491.2 1862.0 1496.2 C1862.5 1501.2 1872.5 1506.8 1871.9 1512.9 C1871.3 1519.0 1864.1 1525.0 1858.6 1532.8 C1853.1 1540.5 1842.6 1547.2 1838.7 1559.4 C1834.8 1571.6 1833.7 1597.1 1835.3 1606.0 C1836.9 1614.9 1846.4 1614.8 1848.6 1612.6 C1850.8 1610.4 1846.9 1602.1 1848.6 1592.7 C1850.3 1583.3 1856.4 1564.4 1858.6 1556.1 C1860.8 1547.8 1855.3 1548.3 1862.0 1542.8 C1868.7 1537.2 1888.0 1520.0 1898.5 1522.8 C1909.0 1525.6 1918.4 1549.4 1925.1 1559.4 C1931.8 1569.4 1935.6 1576.1 1938.4 1582.7 C1941.2 1589.3 1942.9 1594.3 1941.8 1599.3 C1940.7 1604.3 1936.2 1612.0 1931.8 1612.6 C1927.4 1613.1 1920.2 1604.8 1915.2 1602.6 C1910.2 1600.4 1903.0 1596.0 1901.9 1599.3 C1900.8 1602.6 1910.2 1617.6 1908.5 1622.6 C1906.8 1627.6 1896.3 1629.3 1891.9 1629.3 C1887.5 1629.3 1885.8 1621.5 1881.9 1622.6 C1878.0 1623.7 1870.3 1630.9 1868.6 1635.9 C1866.9 1640.9 1873.0 1647.5 1871.9 1652.5 C1870.8 1657.5 1866.4 1661.4 1862.0 1665.8 C1857.6 1670.2 1849.8 1673.5 1845.3 1679.1 C1840.8 1684.6 1837.5 1691.3 1835.3 1699.1 C1833.1 1706.9 1836.4 1721.0 1832.0 1725.7 C1827.6 1730.4 1815.9 1728.5 1808.7 1727.4 C1801.5 1726.3 1795.5 1725.4 1788.8 1719.0 C1782.1 1712.6 1773.2 1696.3 1768.8 1689.1 C1764.4 1681.9 1765.0 1678.0 1762.2 1675.8 C1759.4 1673.6 1757.8 1676.9 1752.2 1675.8 C1746.7 1674.7 1737.8 1672.0 1728.9 1669.2 C1720.0 1666.4 1708.4 1662.5 1699.0 1659.2 C1689.6 1655.9 1681.8 1649.8 1672.4 1649.2 C1663.0 1648.7 1651.8 1654.5 1642.4 1655.9 C1633.0 1657.3 1623.5 1659.2 1615.8 1657.5 C1608.0 1655.8 1601.4 1650.3 1595.9 1645.9 C1590.4 1641.5 1587.0 1631.5 1582.6 1630.9 C1578.2 1630.3 1572.6 1636.7 1569.3 1642.5 C1566.0 1648.3 1567.0 1660.2 1562.6 1665.8 C1558.2 1671.3 1547.1 1670.8 1542.7 1675.8 C1538.3 1680.8 1534.3 1690.8 1536.0 1695.8 C1537.7 1700.8 1549.3 1701.3 1552.6 1705.7 C1555.9 1710.1 1557.7 1717.4 1556.0 1722.4 C1554.3 1727.4 1548.8 1732.1 1542.7 1735.7 C1536.6 1739.3 1523.8 1744.0 1519.4 1744.0 C1515.0 1744.0 1518.3 1738.8 1516.1 1735.7 C1513.9 1732.7 1510.5 1726.8 1506.1 1725.7 C1501.7 1724.6 1493.4 1725.7 1489.5 1729.0 C1485.6 1732.3 1483.9 1739.6 1482.8 1745.7 C1481.7 1751.8 1484.5 1759.5 1482.8 1765.6 C1481.1 1771.7 1477.2 1778.6 1472.8 1782.2 C1468.4 1785.8 1461.2 1788.9 1456.2 1787.2 C1451.2 1785.5 1447.3 1776.5 1442.9 1772.3 C1438.5 1768.1 1432.9 1762.3 1429.6 1762.3 C1426.3 1762.3 1424.0 1767.3 1422.9 1772.3 C1421.8 1777.3 1424.6 1788.0 1422.9 1792.2 C1421.2 1796.4 1416.0 1798.3 1413.0 1797.2 C1410.0 1796.1 1406.3 1789.8 1404.6 1785.6 C1402.9 1781.4 1405.5 1776.2 1403.0 1772.3 C1400.5 1768.4 1396.9 1764.2 1389.7 1762.3 C1382.5 1760.3 1365.9 1763.4 1359.8 1760.6 C1353.7 1757.8 1356.4 1749.8 1353.1 1745.7 C1349.8 1741.6 1346.4 1741.2 1339.8 1735.7 C1333.2 1730.2 1320.4 1719.6 1313.2 1712.4 C1306.0 1705.2 1300.2 1699.6 1296.6 1692.4 C1293.0 1685.2 1292.2 1677.8 1291.6 1669.2 C1291.0 1660.6 1290.2 1644.8 1293.2 1640.9 C1296.2 1637.0 1303.8 1647.8 1309.9 1645.9 C1316.0 1644.0 1325.9 1636.0 1329.8 1629.3 C1333.7 1622.6 1334.2 1613.8 1333.1 1606.0 C1332.0 1598.2 1328.7 1589.4 1323.2 1582.7 C1317.7 1576.0 1307.1 1572.8 1299.9 1566.1 C1292.7 1559.4 1285.5 1549.8 1279.9 1542.8 C1274.3 1535.8 1267.5 1530.1 1266.4 1523.9 C1265.3 1517.7 1272.5 1514.3 1273.1 1505.7 C1273.6 1497.1 1271.9 1481.8 1269.7 1472.4 C1267.5 1463.0 1264.5 1455.2 1259.8 1449.1 C1255.1 1443.0 1244.8 1440.8 1241.5 1435.8 C1238.2 1430.8 1241.8 1424.2 1239.8 1419.2 C1237.8 1414.2 1229.8 1413.7 1229.8 1405.9 C1229.8 1398.2 1239.0 1381.6 1239.8 1372.7 C1240.6 1363.8 1235.3 1359.9 1234.8 1352.7 C1234.2 1345.5 1235.7 1337.7 1236.5 1329.4 C1237.3 1321.1 1235.9 1311.1 1239.8 1302.8 C1243.7 1294.5 1259.2 1286.7 1259.8 1279.5 C1260.3 1272.3 1244.8 1265.7 1243.1 1259.6 C1241.4 1253.5 1250.9 1249.7 1249.8 1243.0 C1248.7 1236.3 1238.4 1228.6 1236.5 1219.7 C1234.6 1210.8 1237.1 1200.2 1238.2 1189.7 C1239.3 1179.2 1240.6 1165.4 1243.1 1156.5 C1245.6 1147.6 1254.2 1138.7 1253.1 1136.5 C1252.0 1134.3 1242.0 1143.8 1236.5 1143.2 C1231.0 1142.7 1227.1 1140.4 1219.9 1133.2 C1212.7 1126.0 1199.0 1109.0 1193.3 1100.0 C1187.6 1091.0 1191.0 1090.7 1185.9 1078.9 C1180.8 1067.1 1167.6 1039.2 1162.6 1029.0 C1157.6 1018.8 1162.1 1017.4 1156.0 1017.4 C1149.9 1017.4 1135.5 1024.3 1126.1 1029.0 C1116.7 1033.7 1104.5 1041.3 1099.5 1045.7 C1094.5 1050.1 1100.5 1051.2 1096.1 1055.6 C1091.7 1060.0 1081.2 1065.1 1072.9 1072.3 C1064.6 1079.5 1053.5 1093.1 1046.3 1098.9 C1039.1 1104.7 1035.1 1107.2 1029.6 1107.2 C1024.0 1107.2 1017.4 1102.5 1013.0 1098.9 C1008.6 1095.3 1005.2 1089.5 1003.0 1085.6 C1000.8 1081.7 1005.8 1079.5 999.7 1075.6 C993.6 1071.7 975.8 1065.1 966.4 1062.3 C957.0 1059.5 947.6 1058.2 943.2 1059.0 C938.8 1059.8 942.0 1069.0 939.8 1067.3 C937.6 1065.6 933.8 1055.4 929.9 1049.0 C926.0 1042.6 919.4 1036.2 916.6 1029.0 C913.8 1021.8 915.4 1013.0 913.2 1005.8 C911.0 998.6 908.3 990.8 903.3 985.8 C898.3 980.8 886.9 981.3 883.3 975.8 C879.7 970.3 881.0 962.0 881.6 952.6 C882.2 943.2 885.2 927.1 886.6 919.3 C888.0 911.5 886.7 910.4 890.0 906.0 C893.3 901.6 902.7 899.9 906.6 892.7 C910.5 885.5 910.4 872.2 913.2 862.8 C916.0 853.4 920.7 843.4 923.2 836.2 C925.7 829.0 926.0 824.5 928.2 819.5 C930.4 814.5 936.8 813.4 936.5 806.2 C936.2 799.0 929.3 786.3 926.5 776.3 C923.7 766.3 921.8 755.8 919.9 746.4 C918.0 737.0 916.0 728.1 914.9 719.8 C913.8 711.5 912.4 703.1 913.2 696.5 C914.0 689.9 916.0 685.4 919.9 679.9 C923.8 674.4 928.2 667.6 936.5 663.2 C944.8 658.8 962.6 656.6 969.8 653.3 C977.0 650.0 975.3 645.4 979.7 643.3Z" fill="#95b35a"/>
<g clip-path="url(#c5)">
<path d="M951.5 846.1 C953.7 838.3 958.9 825.6 966.4 819.5 C973.9 813.4 988.1 812.9 996.4 809.6 C1004.7 806.3 1008.5 800.7 1016.3 799.6 C1024.0 798.5 1040.1 799.0 1042.9 802.9 C1045.7 806.8 1030.8 817.3 1033.0 822.9 C1035.2 828.5 1050.1 835.7 1056.2 836.2 C1062.3 836.8 1062.8 827.9 1069.5 826.2 C1076.2 824.5 1090.5 822.9 1096.1 826.2 C1101.6 829.5 1104.4 840.6 1102.8 846.1 C1101.2 851.6 1088.4 852.8 1086.2 859.4 C1084.0 866.0 1085.6 879.9 1089.5 886.0 C1093.4 892.1 1103.9 891.6 1109.4 896.0 C1114.9 900.4 1112.7 912.6 1122.7 912.6 C1132.7 912.6 1158.8 896.0 1169.3 896.0 C1179.8 896.0 1183.7 907.6 1185.9 912.6 C1188.1 917.6 1187.0 921.5 1182.6 926.0 C1178.2 930.5 1164.3 933.8 1159.3 939.3 C1154.3 944.8 1154.9 953.7 1152.7 959.2 C1150.5 964.7 1142.1 969.2 1146.0 972.5 C1149.9 975.8 1177.7 978.7 1176.0 979.2 C1174.3 979.8 1144.9 979.1 1136.0 975.8 C1127.1 972.5 1128.2 964.7 1122.7 959.2 C1117.2 953.7 1109.5 944.8 1102.8 942.6 C1096.1 940.4 1082.8 939.8 1082.8 945.9 C1082.8 952.0 1095.0 968.7 1102.8 979.2 C1110.6 989.7 1127.7 1003.6 1129.4 1009.1 C1131.1 1014.6 1120.6 1019.0 1112.8 1012.4 C1105.0 1005.8 1092.8 976.4 1082.8 969.2 C1072.8 962.0 1056.2 964.8 1052.9 969.2 C1049.6 973.6 1064.6 985.8 1062.9 995.8 C1061.2 1005.8 1047.9 1020.1 1042.9 1029.0 C1037.9 1037.9 1039.7 1049.0 1033.0 1049.0 C1026.3 1049.0 1013.0 1032.9 1003.0 1029.0 C993.0 1025.1 984.7 1031.2 973.1 1025.7 C961.5 1020.2 940.4 1005.2 933.2 995.8 C926.0 986.4 934.3 980.8 929.9 969.2 C925.5 957.6 908.3 937.1 906.6 926.0 C904.9 914.9 912.7 908.8 919.9 902.7 C927.1 896.6 944.3 895.5 949.8 889.4 C955.3 883.3 952.8 873.3 953.1 866.1 C953.4 858.9 949.3 853.9 951.5 846.1Z" fill="#5fa072"/>
<path d="M1020.0 728.0 C1018.3 725.0 1021.2 716.7 1022.0 712.0 C1022.8 707.3 1023.7 700.0 1025.0 700.0 C1026.3 700.0 1028.2 709.0 1030.0 712.0 C1031.8 715.0 1033.3 715.0 1036.0 718.0 C1038.7 721.0 1046.7 728.0 1046.0 730.0 C1045.3 732.0 1036.3 730.3 1032.0 730.0 C1027.7 729.7 1021.7 731.0 1020.0 728.0Z" fill="#5fa072"/>
<path d="M1028.0 778.0 C1029.7 775.0 1036.3 773.7 1040.0 772.0 C1043.7 770.3 1046.3 768.3 1050.0 768.0 C1053.7 767.7 1058.8 769.0 1062.0 770.0 C1065.2 771.0 1070.2 772.7 1069.0 774.0 C1067.8 775.3 1059.0 775.3 1055.0 778.0 C1051.0 780.7 1048.2 787.0 1045.0 790.0 C1041.8 793.0 1038.5 796.0 1036.0 796.0 C1033.5 796.0 1031.3 793.0 1030.0 790.0 C1028.7 787.0 1026.3 781.0 1028.0 778.0Z" fill="#5fa072"/>
<path d="M1390.7 1136.7 C1392.2 1134.6 1396.0 1134.9 1400.0 1134.9 C1404.0 1134.9 1411.0 1134.9 1414.7 1136.7 C1418.4 1138.5 1417.2 1145.3 1422.1 1145.9 C1427.0 1146.5 1439.7 1139.8 1444.3 1140.4 C1448.9 1141.0 1451.6 1145.3 1449.8 1149.6 C1448.0 1153.9 1437.8 1162.3 1433.2 1166.3 C1428.6 1170.3 1420.6 1171.8 1422.1 1173.6 C1423.6 1175.4 1435.9 1177.6 1442.4 1177.3 C1448.9 1177.0 1457.2 1171.5 1460.9 1171.8 C1464.6 1172.1 1467.7 1176.1 1464.6 1179.2 C1461.5 1182.3 1449.5 1187.5 1442.4 1190.3 C1435.3 1193.1 1427.6 1192.1 1422.1 1195.8 C1416.6 1199.5 1410.1 1208.1 1409.2 1212.4 C1408.3 1216.7 1416.0 1218.3 1416.6 1221.7 C1417.2 1225.1 1415.1 1228.5 1412.9 1232.8 C1410.7 1237.1 1406.4 1244.1 1403.6 1247.5 C1400.8 1250.9 1394.8 1252.5 1396.3 1253.1 C1397.8 1253.7 1408.0 1252.8 1412.9 1251.2 C1417.8 1249.7 1420.6 1248.4 1425.8 1243.8 C1431.0 1239.2 1438.1 1227.8 1444.3 1223.5 C1450.5 1219.2 1456.0 1221.7 1462.8 1218.0 C1469.6 1214.3 1480.0 1200.2 1484.9 1201.4 C1489.8 1202.6 1489.2 1217.4 1492.3 1225.4 C1495.4 1233.4 1500.9 1243.9 1503.4 1249.4 C1505.9 1254.9 1508.6 1255.5 1507.1 1258.6 C1505.6 1261.7 1497.9 1265.4 1494.2 1267.9 C1490.5 1270.4 1486.5 1270.6 1484.9 1273.4 C1483.4 1276.2 1487.4 1282.0 1484.9 1284.5 C1482.4 1287.0 1476.2 1285.6 1470.1 1288.2 C1463.9 1290.8 1460.3 1298.0 1448.0 1300.0 C1435.7 1302.0 1418.8 1303.3 1396.0 1300.0 C1373.2 1296.7 1326.6 1285.3 1311.3 1280.0 C1296.0 1274.7 1306.1 1273.6 1303.9 1267.9 C1301.7 1262.2 1301.4 1247.9 1298.3 1245.7 C1295.2 1243.5 1288.8 1252.4 1285.4 1254.9 C1282.0 1257.4 1278.6 1263.0 1278.0 1260.5 C1277.4 1258.0 1280.5 1249.6 1281.7 1240.1 C1282.9 1230.5 1283.6 1210.3 1285.4 1203.2 C1287.2 1196.1 1290.3 1198.3 1292.8 1197.7 C1295.3 1197.1 1299.6 1195.5 1300.2 1199.5 C1300.8 1203.5 1295.0 1218.3 1296.5 1221.7 C1298.0 1225.1 1305.4 1218.3 1309.4 1219.8 C1313.4 1221.3 1318.0 1232.1 1320.5 1230.9 C1323.0 1229.7 1320.8 1217.3 1324.2 1212.4 C1327.6 1207.5 1335.0 1203.9 1340.8 1201.4 C1346.6 1199.0 1356.8 1201.7 1359.3 1197.7 C1361.8 1193.7 1354.4 1181.9 1355.6 1177.3 C1356.8 1172.7 1363.3 1173.7 1366.7 1170.0 C1370.1 1166.3 1373.4 1154.6 1375.9 1155.2 C1378.4 1155.8 1379.0 1174.8 1381.5 1173.6 C1384.0 1172.4 1389.2 1153.9 1390.7 1147.8 C1392.2 1141.7 1389.2 1138.8 1390.7 1136.7Z" fill="#5fa072"/>
<path d="M1250.3 1046.2 C1252.5 1043.4 1259.0 1042.5 1263.3 1036.9 C1267.6 1031.4 1272.8 1017.2 1276.2 1012.9 C1279.6 1008.6 1281.1 1008.9 1283.6 1011.1 C1286.1 1013.3 1286.4 1022.8 1291.0 1025.9 C1295.6 1029.0 1307.3 1027.8 1311.3 1029.6 C1315.3 1031.4 1311.3 1032.6 1315.0 1036.9 C1318.7 1041.2 1328.2 1051.7 1333.4 1055.4 C1338.6 1059.1 1343.3 1056.0 1346.4 1059.1 C1349.5 1062.2 1349.8 1068.4 1351.9 1073.9 C1354.1 1079.5 1357.8 1087.2 1359.3 1092.4 C1360.8 1097.6 1363.0 1104.7 1361.2 1105.3 C1359.4 1105.9 1352.5 1096.1 1348.2 1096.1 C1343.9 1096.1 1338.1 1101.3 1335.3 1105.3 C1332.5 1109.3 1334.7 1119.2 1331.6 1120.1 C1328.5 1121.0 1320.2 1114.8 1316.8 1110.8 C1313.4 1106.8 1311.3 1101.0 1311.3 1096.1 C1311.3 1091.2 1317.4 1086.2 1316.8 1081.3 C1316.2 1076.4 1310.1 1071.7 1307.6 1066.5 C1305.1 1061.3 1305.7 1053.0 1302.0 1049.9 C1298.3 1046.8 1290.0 1047.1 1285.4 1048.0 C1280.8 1048.9 1278.6 1054.2 1274.3 1055.4 C1270.0 1056.6 1263.6 1055.7 1259.6 1055.4 C1255.6 1055.1 1251.8 1055.1 1250.3 1053.6 C1248.8 1052.1 1248.1 1049.0 1250.3 1046.2Z" fill="#5fa072"/>
<path d="M1303.9 1125.6 C1305.0 1125.1 1306.7 1127.1 1307.6 1129.3 C1308.5 1131.5 1310.0 1136.7 1309.4 1138.5 C1308.8 1140.3 1305.3 1141.5 1303.9 1140.4 C1302.5 1139.3 1301.0 1134.5 1301.0 1132.0 C1301.0 1129.5 1302.8 1126.0 1303.9 1125.6Z" fill="#5fa072"/>
<path d="M1309.4 1147.8 C1309.7 1147.2 1305.4 1151.8 1307.6 1153.3 C1309.8 1154.8 1319.9 1153.3 1322.4 1157.0 C1324.9 1160.7 1324.0 1171.5 1322.4 1175.5 C1320.9 1179.5 1316.2 1177.9 1313.1 1181.0 C1310.0 1184.1 1306.4 1192.2 1303.9 1194.0 C1301.4 1195.8 1298.3 1195.5 1298.3 1192.1 C1298.3 1188.7 1302.7 1179.4 1303.9 1173.6 C1305.1 1167.8 1304.8 1161.3 1305.7 1157.0 C1306.6 1152.7 1309.1 1148.4 1309.4 1147.8Z" fill="#5fa072"/>
<path d="M1311.3 1280.0 C1304.2 1281.2 1310.1 1284.6 1307.6 1287.4 C1305.1 1290.2 1299.6 1293.2 1296.5 1296.6 C1293.4 1300.0 1292.8 1306.2 1289.1 1307.7 C1285.4 1309.2 1276.1 1303.1 1274.3 1305.9 C1272.5 1308.7 1278.3 1319.7 1278.0 1324.3 C1277.7 1328.9 1273.1 1330.8 1272.5 1333.6 C1271.9 1336.4 1275.8 1337.6 1274.3 1341.0 C1272.8 1344.4 1264.8 1350.2 1263.3 1353.9 C1261.8 1357.6 1262.9 1361.2 1265.1 1363.1 C1267.2 1364.9 1273.7 1362.5 1276.2 1365.0 C1278.7 1367.5 1277.8 1376.1 1279.9 1377.9 C1282.1 1379.8 1285.4 1377.9 1289.1 1376.1 C1292.8 1374.2 1297.7 1368.6 1302.0 1366.8 C1306.3 1365.0 1311.6 1366.8 1315.0 1365.0 C1318.4 1363.2 1320.6 1360.6 1322.4 1355.7 C1324.2 1350.8 1324.3 1339.1 1326.1 1335.4 C1327.9 1331.7 1332.2 1331.1 1333.4 1333.6 C1334.6 1336.1 1330.6 1348.7 1333.4 1350.2 C1336.2 1351.7 1343.9 1343.4 1350.1 1342.8 C1356.3 1342.2 1365.4 1347.0 1370.4 1346.5 C1375.4 1346.0 1375.7 1347.8 1380.0 1340.0 C1384.3 1332.2 1401.0 1310.0 1396.0 1300.0 C1391.0 1290.0 1364.1 1283.3 1350.0 1280.0 C1335.9 1276.7 1318.4 1278.8 1311.3 1280.0Z" fill="#5fa072"/>
<path d="M1377.8 1344.7 C1387.0 1335.7 1384.3 1315.8 1396.0 1300.0 C1407.7 1284.2 1430.7 1257.0 1448.0 1250.0 C1465.3 1243.0 1485.2 1251.3 1500.0 1258.0 C1514.8 1264.7 1529.8 1283.0 1536.9 1290.0 C1544.0 1297.0 1542.2 1295.9 1542.5 1300.1 C1542.8 1304.2 1537.0 1311.5 1538.8 1314.9 C1540.6 1318.3 1550.5 1318.2 1553.6 1320.4 C1556.7 1322.6 1557.3 1324.4 1557.3 1327.8 C1557.3 1331.2 1556.7 1336.7 1553.6 1340.7 C1550.5 1344.7 1537.9 1347.8 1538.8 1351.8 C1539.7 1355.8 1558.2 1359.5 1559.1 1364.7 C1560.0 1369.9 1548.0 1378.3 1544.3 1383.2 C1540.6 1388.1 1541.2 1391.8 1536.9 1394.3 C1532.6 1396.8 1518.8 1396.2 1518.5 1398.0 C1518.2 1399.8 1532.0 1401.1 1535.1 1405.4 C1538.2 1409.7 1533.5 1422.0 1536.9 1423.8 C1540.3 1425.6 1548.0 1417.4 1555.4 1416.5 C1562.8 1415.6 1569.0 1417.7 1581.3 1418.3 C1593.6 1418.9 1617.9 1419.9 1629.3 1420.2 C1640.7 1420.5 1645.0 1417.1 1649.6 1420.2 C1654.2 1423.3 1654.6 1433.3 1657.0 1438.6 C1659.4 1443.9 1664.2 1443.6 1664.0 1452.0 C1663.8 1460.4 1658.4 1478.1 1656.0 1488.8 C1653.6 1499.5 1653.7 1510.9 1649.7 1516.0 C1645.7 1521.1 1636.5 1521.1 1632.0 1519.3 C1627.5 1517.5 1627.5 1508.7 1622.4 1504.9 C1617.3 1501.2 1606.7 1496.5 1601.6 1496.8 C1596.5 1497.1 1590.4 1503.3 1592.0 1506.5 C1593.6 1509.7 1605.3 1511.8 1611.2 1516.0 C1617.1 1520.2 1623.2 1525.3 1627.2 1532.0 C1631.2 1538.7 1631.5 1550.7 1635.2 1556.0 C1639.0 1561.3 1646.8 1559.3 1649.7 1564.1 C1652.7 1568.9 1655.3 1580.1 1652.9 1584.9 C1650.5 1589.7 1641.9 1593.7 1635.2 1592.9 C1628.5 1592.1 1617.3 1578.8 1612.8 1580.1 C1608.3 1581.4 1611.2 1599.6 1608.0 1600.9 C1604.8 1602.2 1595.5 1592.9 1593.6 1588.1 C1591.7 1583.3 1598.7 1576.1 1596.8 1572.1 C1594.9 1568.1 1585.9 1561.2 1582.4 1564.1 C1578.9 1567.0 1577.8 1585.3 1576.0 1589.7 C1574.2 1594.1 1573.1 1588.5 1571.3 1590.3 C1569.5 1592.0 1568.7 1595.3 1565.4 1600.2 C1562.1 1605.1 1555.5 1617.3 1551.6 1619.9 C1547.7 1622.5 1545.1 1613.0 1541.8 1616.0 C1538.5 1619.0 1534.2 1630.4 1531.9 1637.6 C1529.6 1644.8 1530.3 1655.0 1528.0 1659.3 C1525.7 1663.6 1520.7 1664.3 1518.1 1663.3 C1515.5 1662.3 1514.5 1654.1 1512.2 1653.4 C1509.9 1652.7 1507.9 1659.3 1504.3 1659.3 C1500.7 1659.3 1495.8 1655.4 1490.5 1653.4 C1485.2 1651.4 1479.0 1650.1 1472.8 1647.5 C1466.6 1644.9 1456.7 1641.5 1453.1 1637.6 C1449.5 1633.6 1453.4 1627.7 1451.1 1623.8 C1448.8 1619.9 1440.6 1618.9 1439.3 1614.0 C1438.0 1609.1 1445.3 1597.9 1443.3 1594.3 C1441.3 1590.7 1431.5 1592.6 1427.5 1592.3 C1423.5 1592.0 1421.6 1592.6 1419.6 1592.3 C1417.6 1592.0 1418.0 1590.6 1415.7 1590.3 C1413.4 1590.0 1407.8 1589.0 1405.8 1590.3 C1403.8 1591.6 1405.4 1596.2 1403.8 1598.2 C1402.2 1600.2 1396.3 1598.9 1396.0 1602.2 C1395.7 1605.5 1401.6 1613.3 1401.9 1617.9 C1402.2 1622.5 1401.9 1626.8 1397.9 1629.8 C1394.0 1632.8 1382.8 1635.0 1378.2 1635.7 C1373.6 1636.4 1372.9 1635.7 1370.3 1633.7 C1367.7 1631.7 1362.8 1628.4 1362.5 1623.8 C1362.2 1619.2 1369.1 1609.4 1368.4 1606.1 C1367.7 1602.8 1362.5 1605.4 1358.5 1604.1 C1354.5 1602.8 1347.3 1601.2 1344.7 1598.2 C1342.1 1595.2 1345.8 1590.3 1342.8 1586.4 C1339.8 1582.5 1330.6 1580.5 1327.0 1574.6 C1323.4 1568.7 1323.7 1555.8 1321.1 1550.9 C1318.5 1546.0 1315.2 1546.3 1311.2 1545.0 C1307.2 1543.7 1301.3 1544.7 1297.4 1543.1 C1293.5 1541.5 1289.2 1540.1 1287.6 1535.2 C1286.0 1530.3 1286.3 1518.1 1287.6 1513.5 C1288.9 1508.9 1291.9 1509.9 1295.5 1507.6 C1299.1 1505.3 1307.3 1502.3 1309.3 1499.7 C1311.3 1497.1 1311.9 1493.0 1307.3 1491.8 C1302.7 1490.6 1286.3 1499.7 1281.7 1492.4 C1277.1 1485.1 1278.4 1455.8 1279.9 1448.1 C1281.5 1440.4 1287.6 1444.8 1291.0 1446.3 C1294.4 1447.8 1298.0 1457.3 1300.2 1457.3 C1302.4 1457.3 1301.1 1447.5 1303.9 1446.3 C1306.7 1445.1 1314.0 1447.8 1316.8 1450.0 C1319.6 1452.2 1318.7 1459.2 1320.5 1459.2 C1322.3 1459.2 1327.0 1452.8 1327.9 1450.0 C1328.8 1447.2 1325.5 1445.4 1326.1 1442.6 C1326.7 1439.8 1332.2 1434.5 1331.6 1433.3 C1331.0 1432.1 1324.6 1436.7 1322.4 1435.2 C1320.2 1433.7 1321.8 1424.7 1318.7 1424.1 C1315.6 1423.5 1309.5 1430.9 1303.9 1431.5 C1298.4 1432.1 1289.1 1429.6 1285.4 1427.8 C1281.7 1426.0 1280.8 1422.9 1281.7 1420.4 C1282.6 1417.9 1285.5 1415.5 1291.0 1413.0 C1296.5 1410.5 1311.9 1407.8 1315.0 1405.6 C1318.1 1403.4 1308.8 1401.9 1309.4 1400.1 C1310.0 1398.2 1316.9 1397.6 1318.7 1394.5 C1320.5 1391.4 1317.4 1386.5 1320.5 1381.6 C1323.6 1376.7 1333.7 1369.6 1337.1 1365.0 C1340.5 1360.4 1334.0 1357.3 1340.8 1353.9 C1347.6 1350.5 1368.6 1353.7 1377.8 1344.7Z" fill="#5fa072"/>
<path d="M1605.3 1320.4 C1606.7 1320.8 1614.8 1337.7 1618.2 1342.6 C1621.6 1347.5 1626.8 1344.8 1625.6 1350.0 C1624.4 1355.2 1616.3 1368.5 1610.8 1374.0 C1605.3 1379.5 1597.3 1381.7 1592.4 1383.2 C1587.5 1384.7 1582.8 1381.4 1581.3 1383.2 C1579.8 1385.0 1585.2 1390.0 1583.1 1394.3 C1580.9 1398.6 1568.7 1405.1 1568.4 1409.1 C1568.1 1413.1 1571.2 1416.4 1581.3 1418.3 C1591.4 1420.2 1621.3 1423.2 1629.3 1420.2 C1637.3 1417.2 1630.5 1406.2 1629.3 1400.0 C1628.1 1393.8 1623.8 1389.0 1621.9 1383.2 C1620.0 1377.4 1620.0 1372.2 1618.0 1365.0 C1616.0 1357.8 1612.1 1347.4 1610.0 1340.0 C1607.9 1332.6 1603.9 1320.0 1605.3 1320.4Z" fill="#5fa072"/>
<path d="M1675.5 1342.6 C1677.0 1338.9 1683.5 1333.4 1686.6 1335.2 C1689.7 1337.0 1690.3 1349.0 1694.0 1353.6 C1697.7 1358.2 1705.4 1360.1 1708.8 1362.9 C1712.2 1365.7 1710.6 1368.2 1714.3 1370.3 C1718.0 1372.4 1726.6 1371.5 1730.9 1375.8 C1735.2 1380.1 1736.2 1391.5 1740.2 1396.1 C1744.2 1400.7 1750.0 1400.7 1754.9 1403.5 C1759.8 1406.3 1764.2 1410.6 1769.7 1412.8 C1775.2 1415.0 1781.7 1415.3 1788.2 1416.5 C1794.7 1417.7 1808.6 1415.3 1808.7 1419.7 C1808.8 1424.1 1793.5 1437.4 1788.8 1443.0 C1784.1 1448.6 1785.8 1453.5 1780.8 1453.4 C1775.8 1453.3 1764.4 1442.9 1758.6 1442.3 C1752.8 1441.7 1749.1 1447.2 1745.7 1449.7 C1742.3 1452.2 1740.5 1452.0 1738.3 1457.1 C1736.1 1462.1 1737.4 1476.2 1732.8 1480.0 C1728.2 1483.8 1713.4 1486.3 1710.6 1480.0 C1707.8 1473.7 1714.6 1452.3 1716.1 1442.3 C1717.6 1432.3 1721.9 1425.4 1719.8 1420.2 C1717.7 1415.0 1707.5 1417.7 1703.2 1410.9 C1698.9 1404.1 1698.6 1386.0 1694.0 1379.5 C1689.4 1373.0 1680.1 1375.2 1675.5 1372.1 C1670.9 1369.0 1666.0 1363.5 1666.3 1361.0 C1666.6 1358.5 1675.8 1360.4 1677.3 1357.3 C1678.8 1354.2 1674.0 1346.3 1675.5 1342.6Z" fill="#5fa072"/>
<path d="M1505.5 1257.6 C1508.3 1253.7 1520.0 1257.9 1524.0 1259.4 C1528.0 1260.9 1526.5 1270.8 1529.6 1266.8 C1532.7 1262.8 1539.1 1240.0 1542.5 1235.4 C1545.9 1230.8 1551.4 1233.5 1549.9 1239.1 C1548.4 1244.6 1533.6 1264.7 1533.3 1268.7 C1533.0 1272.7 1542.8 1263.7 1548.0 1263.1 C1553.2 1262.5 1561.6 1261.6 1564.7 1265.0 C1567.8 1268.4 1564.3 1279.1 1566.5 1283.4 C1568.7 1287.7 1575.4 1286.8 1577.6 1290.8 C1579.8 1294.8 1580.0 1304.4 1579.4 1307.5 C1578.8 1310.6 1576.4 1310.8 1573.9 1309.3 C1571.5 1307.8 1568.1 1300.7 1564.7 1298.2 C1561.3 1295.7 1557.3 1294.2 1553.6 1294.5 C1549.9 1294.8 1545.3 1300.8 1542.5 1300.1 C1539.7 1299.3 1542.8 1292.8 1536.9 1290.0 C1531.0 1287.2 1512.3 1288.4 1507.1 1283.0 C1501.9 1277.6 1502.7 1261.5 1505.5 1257.6Z" fill="#5fa072"/>
<path d="M1500.0 1244.7 C1501.2 1242.2 1505.8 1245.1 1507.0 1248.0 C1508.2 1250.9 1508.2 1259.5 1507.0 1262.0 C1505.8 1264.5 1501.2 1265.9 1500.0 1263.0 C1498.8 1260.1 1498.8 1247.2 1500.0 1244.7Z" fill="#5fa072"/>
<path d="M1718.5 1420.0 C1734.8 1416.5 1796.7 1415.2 1809.8 1420.0 C1822.9 1424.8 1802.6 1442.4 1797.0 1448.8 C1791.4 1455.2 1772.3 1457.7 1776.1 1458.4 C1779.9 1459.1 1811.8 1452.4 1820.0 1453.0 C1828.2 1453.6 1828.0 1459.2 1825.0 1462.0 C1822.0 1464.8 1810.2 1470.0 1802.0 1470.0 C1793.8 1470.0 1781.8 1466.9 1776.1 1462.0 C1770.4 1457.1 1771.6 1444.3 1768.1 1440.8 C1764.6 1437.3 1760.1 1438.9 1755.3 1440.8 C1750.5 1442.7 1741.4 1448.0 1739.3 1452.0 C1737.2 1456.0 1743.3 1461.3 1742.5 1464.8 C1741.7 1468.3 1738.2 1469.3 1734.5 1472.8 C1730.8 1476.3 1725.2 1483.2 1720.1 1485.6 C1715.0 1488.0 1708.1 1488.8 1704.1 1487.2 C1700.1 1485.6 1699.8 1480.5 1696.1 1476.0 C1692.4 1471.5 1681.2 1461.9 1681.7 1460.0 C1682.2 1458.1 1694.0 1464.8 1699.3 1464.8 C1704.6 1464.8 1711.6 1464.0 1713.7 1460.0 C1715.8 1456.0 1711.3 1447.5 1712.1 1440.8 C1712.9 1434.1 1702.2 1423.5 1718.5 1420.0Z" fill="#5fa072"/>
<path d="M1736.1 1471.2 C1738.8 1468.5 1748.6 1477.0 1752.1 1484.0 C1755.6 1491.0 1755.7 1504.9 1757.0 1512.9 C1758.3 1520.9 1758.2 1527.8 1760.1 1532.1 C1761.9 1536.4 1764.4 1535.3 1768.1 1538.5 C1771.8 1541.7 1780.3 1545.7 1782.5 1551.3 C1784.7 1556.9 1783.7 1566.5 1781.0 1572.1 C1778.3 1577.7 1771.3 1582.0 1766.5 1584.9 C1761.7 1587.8 1754.0 1585.2 1752.1 1589.7 C1750.2 1594.2 1755.6 1605.7 1755.3 1612.1 C1755.0 1618.5 1749.7 1622.8 1750.5 1628.1 C1751.3 1633.4 1761.2 1641.7 1760.1 1644.1 C1759.0 1646.5 1749.2 1644.6 1744.1 1642.5 C1739.0 1640.4 1734.8 1635.3 1729.7 1631.3 C1724.6 1627.3 1718.0 1624.4 1713.7 1618.5 C1709.4 1612.6 1706.5 1602.2 1704.1 1596.1 C1701.7 1590.0 1699.6 1587.0 1699.3 1581.7 C1699.0 1576.4 1703.6 1568.9 1702.5 1564.1 C1701.4 1559.3 1695.8 1556.9 1692.9 1552.9 C1690.0 1548.9 1684.4 1544.6 1684.9 1540.1 C1685.4 1535.6 1691.6 1529.7 1696.1 1525.7 C1700.6 1521.7 1707.0 1517.3 1712.1 1516.0 C1717.2 1514.7 1722.2 1512.9 1726.5 1517.7 C1730.8 1522.5 1735.0 1538.5 1737.7 1544.9 C1740.4 1551.3 1740.9 1556.1 1742.5 1556.1 C1744.1 1556.1 1746.8 1551.0 1747.3 1544.9 C1747.8 1538.8 1747.6 1526.8 1745.7 1519.3 C1743.8 1511.8 1737.7 1508.0 1736.1 1500.0 C1734.5 1492.0 1733.4 1473.9 1736.1 1471.2Z" fill="#5fa072"/>
<path d="M1664.5 1476.0 C1663.8 1473.3 1671.8 1478.3 1676.0 1484.0 C1680.2 1489.7 1686.8 1504.0 1690.0 1510.0 C1693.2 1516.0 1696.3 1515.8 1695.0 1520.0 C1693.7 1524.2 1686.8 1534.2 1682.0 1535.0 C1677.2 1535.8 1669.3 1528.3 1666.0 1525.0 C1662.7 1521.7 1659.7 1519.2 1662.0 1515.0 C1664.3 1510.8 1679.6 1506.5 1680.0 1500.0 C1680.4 1493.5 1665.2 1478.7 1664.5 1476.0Z" fill="#5fa072"/>
<path d="M1633.6 1592.9 C1636.0 1590.2 1642.8 1591.8 1649.7 1592.9 C1656.7 1594.0 1668.4 1596.1 1675.3 1599.3 C1682.2 1602.5 1686.5 1608.6 1691.3 1612.1 C1696.1 1615.6 1703.8 1616.9 1704.1 1620.1 C1704.4 1623.3 1697.7 1631.8 1692.9 1631.3 C1688.1 1630.8 1682.5 1618.0 1675.3 1616.9 C1668.1 1615.8 1657.2 1622.5 1649.7 1624.9 C1642.2 1627.3 1635.8 1631.3 1630.4 1631.3 C1625.1 1631.3 1616.8 1628.6 1617.6 1624.9 C1618.4 1621.2 1632.5 1614.2 1635.2 1608.9 C1637.9 1603.6 1631.2 1595.6 1633.6 1592.9Z" fill="#5fa072"/>
<path d="M1785.7 1545.0 C1787.4 1540.1 1795.1 1529.3 1800.0 1525.0 C1804.9 1520.7 1811.8 1518.2 1815.0 1519.0 C1818.2 1519.8 1821.1 1524.1 1819.4 1530.0 C1817.7 1535.9 1809.9 1550.4 1805.0 1554.5 C1800.1 1558.6 1793.2 1556.1 1790.0 1554.5 C1786.8 1552.9 1784.0 1549.9 1785.7 1545.0Z" fill="#5fa072"/>
<ellipse cx="1004.0" cy="762.0" rx="11.0" ry="5.0" transform="rotate(15.0 1004.0 762.0)" fill="#5fa072"/>
<ellipse cx="1102.0" cy="803.0" rx="14.0" ry="5.0" transform="rotate(-30.0 1102.0 803.0)" fill="#5fa072"/>
<ellipse cx="1187.0" cy="863.0" rx="4.0" ry="6.0" transform="rotate(-30.0 1187.0 863.0)" fill="#5fa072"/>
<ellipse cx="1302.0" cy="1660.0" rx="12.0" ry="3.0" transform="rotate(40.0 1302.0 1660.0)" fill="#5fa072"/>
<ellipse cx="1310.0" cy="1677.0" rx="14.0" ry="3.0" transform="rotate(35.0 1310.0 1677.0)" fill="#5fa072"/>
<ellipse cx="1320.0" cy="1690.0" rx="15.0" ry="3.0" transform="rotate(30.0 1320.0 1690.0)" fill="#5fa072"/>
<ellipse cx="1335.0" cy="1700.0" rx="12.0" ry="3.0" transform="rotate(25.0 1335.0 1700.0)" fill="#5fa072"/>
<path d="M1420.3 1199.5 C1423.4 1199.5 1433.2 1206.2 1435.0 1212.4 C1436.8 1218.6 1434.8 1228.8 1431.4 1236.5 C1428.0 1244.2 1419.0 1255.5 1414.7 1258.6 C1410.4 1261.7 1404.9 1258.6 1405.5 1254.9 C1406.1 1251.2 1416.6 1243.6 1418.4 1236.5 C1420.2 1229.4 1416.3 1218.6 1416.6 1212.4 C1416.9 1206.2 1417.2 1199.5 1420.3 1199.5Z" fill="#95b35a"/>
<path d="M1438.7 1302.2 C1436.5 1301.0 1442.8 1295.4 1448.0 1292.9 C1453.2 1290.4 1463.9 1289.6 1470.1 1287.4 C1476.2 1285.2 1478.7 1281.2 1484.9 1280.0 C1491.1 1278.8 1503.1 1278.2 1507.1 1280.0 C1511.1 1281.8 1511.1 1288.3 1508.9 1291.1 C1506.8 1293.9 1496.4 1292.3 1494.2 1296.6 C1492.0 1300.9 1497.2 1312.0 1496.0 1316.9 C1494.8 1321.8 1488.3 1327.7 1486.8 1326.2 C1485.3 1324.7 1489.3 1310.5 1486.8 1307.7 C1484.3 1304.9 1476.3 1310.8 1472.0 1309.6 C1467.7 1308.4 1466.5 1301.5 1460.9 1300.3 C1455.4 1299.1 1440.9 1303.4 1438.7 1302.2Z" fill="#95b35a"/>
<path d="M1366.7 1470.3 C1368.5 1468.1 1375.3 1466.0 1377.8 1468.4 C1380.3 1470.9 1380.6 1479.5 1381.5 1485.0 C1382.4 1490.5 1383.6 1495.9 1383.3 1501.7 C1383.0 1507.5 1378.7 1515.2 1379.6 1520.1 C1380.5 1525.0 1386.1 1527.2 1388.9 1531.2 C1391.7 1535.2 1392.8 1541.6 1396.3 1544.2 C1399.8 1546.8 1407.2 1543.2 1409.8 1547.0 C1412.4 1550.8 1410.4 1562.8 1411.7 1566.7 C1413.0 1570.6 1416.9 1566.7 1417.6 1570.6 C1418.3 1574.5 1418.3 1587.7 1415.7 1590.3 C1413.1 1592.9 1406.8 1590.3 1401.9 1586.4 C1397.0 1582.5 1390.0 1572.6 1386.1 1566.7 C1382.1 1560.8 1380.5 1556.2 1378.2 1550.9 C1375.9 1545.7 1373.9 1540.9 1372.3 1535.2 C1370.7 1529.5 1368.2 1522.7 1368.5 1516.5 C1368.8 1510.3 1374.4 1503.8 1374.1 1498.0 C1373.8 1492.2 1367.9 1486.0 1366.7 1481.4 C1365.5 1476.8 1364.9 1472.5 1366.7 1470.3Z" fill="#95b35a"/>
<path d="M1431.4 1538.6 C1432.0 1538.9 1432.5 1552.2 1435.0 1557.1 C1437.5 1562.0 1442.8 1564.3 1446.1 1568.2 C1449.4 1572.1 1455.9 1576.5 1455.1 1580.5 C1454.3 1584.5 1444.3 1594.0 1441.3 1592.3 C1438.3 1590.5 1438.9 1576.2 1437.3 1570.0 C1435.7 1563.8 1432.4 1560.2 1431.4 1555.0 C1430.4 1549.8 1430.8 1538.2 1431.4 1538.6Z" fill="#95b35a"/>
<path d="M1524.0 1541.1 C1523.7 1538.5 1534.2 1535.5 1539.8 1539.1 C1545.4 1542.7 1552.9 1558.5 1557.5 1562.8 C1562.1 1567.1 1565.1 1560.1 1567.4 1564.7 C1569.7 1569.3 1572.0 1586.0 1571.3 1590.3 C1570.6 1594.6 1566.4 1590.9 1563.4 1590.3 C1560.5 1589.7 1555.9 1590.0 1553.6 1586.4 C1551.3 1582.8 1551.7 1574.0 1549.7 1568.7 C1547.7 1563.5 1546.1 1559.5 1541.8 1554.9 C1537.5 1550.3 1524.3 1543.7 1524.0 1541.1Z" fill="#95b35a"/>
<path d="M1405.5 1366.8 C1404.9 1363.1 1408.8 1349.8 1411.0 1348.3 C1413.2 1346.8 1415.3 1357.9 1418.4 1357.6 C1421.5 1357.3 1425.8 1347.4 1429.5 1346.5 C1433.2 1345.6 1436.9 1353.5 1440.6 1352.0 C1444.3 1350.5 1448.3 1339.1 1451.7 1337.3 C1455.1 1335.5 1458.8 1338.8 1460.9 1341.0 C1463.1 1343.2 1460.6 1348.0 1464.6 1350.2 C1468.6 1352.4 1479.1 1352.7 1484.9 1353.9 C1490.8 1355.1 1500.6 1353.6 1499.7 1357.6 C1498.8 1361.6 1483.4 1373.0 1479.4 1377.9 C1475.4 1382.8 1478.2 1387.1 1475.7 1387.1 C1473.2 1387.1 1468.0 1381.3 1464.6 1377.9 C1461.2 1374.5 1458.8 1369.9 1455.4 1366.8 C1452.0 1363.7 1449.5 1361.2 1444.3 1359.4 C1439.1 1357.6 1427.7 1354.5 1424.0 1355.7 C1420.3 1356.9 1423.6 1364.3 1422.1 1366.8 C1420.5 1369.3 1417.5 1370.5 1414.7 1370.5 C1411.9 1370.5 1406.1 1370.5 1405.5 1366.8Z" fill="#7db6aa"/>
<path d="M1475.7 1394.5 C1477.6 1394.2 1478.1 1405.7 1481.2 1407.5 C1484.3 1409.3 1489.3 1403.8 1494.2 1405.6 C1499.1 1407.4 1507.4 1414.8 1510.8 1418.5 C1514.2 1422.2 1513.0 1420.7 1514.5 1427.8 C1516.0 1434.9 1518.2 1453.9 1520.0 1461.0 C1521.8 1468.1 1525.9 1467.5 1525.6 1470.3 C1525.3 1473.1 1520.7 1474.6 1518.2 1477.7 C1515.7 1480.8 1513.9 1487.2 1510.8 1488.7 C1507.7 1490.2 1504.0 1487.5 1499.7 1486.9 C1495.4 1486.3 1488.6 1483.8 1484.9 1485.0 C1481.2 1486.2 1479.0 1494.6 1477.5 1494.3 C1476.0 1494.0 1474.8 1487.8 1475.7 1483.2 C1476.6 1478.6 1484.0 1471.5 1483.1 1466.6 C1482.2 1461.7 1473.8 1455.8 1470.1 1453.6 C1466.4 1451.4 1464.6 1450.5 1460.9 1453.6 C1457.2 1456.7 1450.8 1469.9 1448.0 1472.1 C1445.2 1474.3 1444.6 1469.4 1444.3 1466.6 C1444.0 1463.8 1443.6 1460.4 1446.1 1455.5 C1448.6 1450.6 1454.5 1442.2 1459.1 1437.0 C1463.7 1431.8 1472.0 1428.7 1473.8 1424.1 C1475.6 1419.5 1469.8 1414.2 1470.1 1409.3 C1470.4 1404.4 1473.8 1394.8 1475.7 1394.5Z" fill="#7db6aa"/>
<path d="M1368.5 1292.0 C1367.7 1290.7 1376.0 1296.8 1380.0 1296.0 C1384.0 1295.2 1390.9 1286.7 1392.6 1287.4 C1394.3 1288.1 1391.3 1297.2 1390.0 1300.0 C1388.7 1302.8 1388.6 1305.3 1385.0 1304.0 C1381.4 1302.7 1369.3 1293.3 1368.5 1292.0Z" fill="#7db6aa"/>
<path d="M1407.0 1490.0 C1407.8 1487.5 1412.2 1484.3 1415.0 1485.0 C1417.8 1485.7 1423.5 1491.2 1424.0 1494.0 C1424.5 1496.8 1420.3 1501.0 1418.0 1502.0 C1415.7 1503.0 1411.8 1502.0 1410.0 1500.0 C1408.2 1498.0 1406.2 1492.5 1407.0 1490.0Z" fill="#7db6aa"/>
<path d="M1453.0 1540.0 C1453.8 1536.6 1460.8 1530.2 1463.0 1531.0 C1465.2 1531.8 1467.3 1541.6 1466.5 1545.0 C1465.7 1548.4 1460.2 1552.4 1458.0 1551.6 C1455.8 1550.8 1452.2 1543.4 1453.0 1540.0Z" fill="#7db6aa"/>
<path d="M1420.0 1405.0 C1420.8 1401.8 1430.5 1391.5 1433.0 1390.0 C1435.5 1388.5 1435.8 1392.8 1435.0 1396.0 C1434.2 1399.2 1430.5 1407.8 1428.0 1409.3 C1425.5 1410.8 1419.2 1408.2 1420.0 1405.0Z" fill="#7db6aa"/>
<path d="M1350.0 1385.0 C1350.8 1382.7 1356.2 1374.5 1358.0 1373.0 C1359.8 1371.5 1361.8 1373.7 1361.0 1376.0 C1360.2 1378.3 1354.8 1385.5 1353.0 1387.0 C1351.2 1388.5 1349.2 1387.3 1350.0 1385.0Z" fill="#7db6aa"/>
<path d="M1382.0 1367.0 C1383.3 1366.0 1389.3 1365.2 1391.0 1366.0 C1392.7 1366.8 1393.3 1371.0 1392.0 1372.0 C1390.7 1373.0 1384.7 1372.8 1383.0 1372.0 C1381.3 1371.2 1380.7 1368.0 1382.0 1367.0Z" fill="#7db6aa"/>
<path d="M1349.6 1236.0 C1348.3 1233.7 1350.6 1225.3 1352.0 1222.0 C1353.4 1218.7 1356.2 1215.0 1358.0 1216.0 C1359.8 1217.0 1362.6 1224.7 1362.9 1228.0 C1363.2 1231.3 1362.2 1234.7 1360.0 1236.0 C1357.8 1237.3 1350.9 1238.3 1349.6 1236.0Z" fill="#7db6aa"/>
</g>
<path d="M979.7 643.3 C984.1 641.2 988.6 640.0 996.4 640.6 C1004.2 641.2 1016.9 644.5 1026.3 646.6 C1035.7 648.7 1045.7 650.2 1052.9 653.3 C1060.1 656.3 1065.1 661.6 1069.5 664.9 C1073.9 668.2 1074.0 670.2 1079.5 673.2 C1085.0 676.2 1092.3 679.6 1102.8 683.2 C1113.3 686.8 1133.3 691.5 1142.7 694.8 C1152.1 698.1 1155.4 699.5 1159.3 703.1 C1163.2 706.7 1167.1 713.1 1166.0 716.4 C1164.9 719.7 1154.4 718.7 1152.7 723.1 C1151.0 727.5 1151.6 731.9 1156.0 743.0 C1160.4 754.1 1171.5 779.6 1179.3 789.6 C1187.1 799.6 1193.7 795.7 1202.6 802.9 C1211.5 810.1 1224.2 823.9 1232.5 832.8 C1240.8 841.7 1245.5 851.9 1252.4 856.1 C1259.3 860.3 1271.9 855.0 1274.1 857.8 C1276.3 860.6 1266.0 866.3 1265.7 872.7 C1265.4 879.1 1275.2 886.0 1272.4 896.0 C1269.6 906.0 1250.8 924.8 1249.1 932.6 C1247.4 940.4 1255.2 939.3 1262.4 942.6 C1269.6 945.9 1287.3 949.8 1292.3 952.6 C1297.3 955.4 1295.6 956.4 1292.3 959.2 C1289.0 962.0 1275.2 964.8 1272.4 969.2 C1269.6 973.6 1270.7 980.3 1275.7 985.8 C1280.7 991.3 1294.9 997.0 1302.3 1002.4 C1309.7 1007.8 1314.9 1014.5 1320.0 1017.9 C1325.1 1021.2 1328.6 1020.1 1332.9 1022.5 C1337.2 1024.9 1342.5 1029.3 1345.9 1032.2 C1349.4 1035.1 1351.0 1037.5 1353.6 1039.9 C1356.2 1042.3 1358.8 1043.0 1361.4 1046.4 C1364.0 1049.9 1366.7 1057.4 1369.1 1060.6 C1371.5 1063.8 1373.9 1065.6 1375.6 1065.8 C1377.3 1066.0 1377.3 1062.1 1379.5 1061.9 C1381.7 1061.7 1385.5 1063.2 1388.5 1064.5 C1391.5 1065.8 1396.9 1070.1 1397.6 1069.7 C1398.2 1069.3 1394.1 1064.5 1392.4 1061.9 C1390.7 1059.3 1388.5 1057.5 1387.2 1054.1 C1385.9 1050.6 1385.6 1046.4 1384.7 1041.2 C1383.8 1036.0 1383.4 1027.4 1382.1 1023.1 C1380.8 1018.8 1378.6 1018.8 1376.9 1015.3 C1375.2 1011.8 1372.8 1005.4 1371.7 1002.4 C1370.6 999.4 1370.0 998.5 1370.4 997.2 C1370.8 995.9 1372.6 994.3 1374.3 994.7 C1376.0 995.1 1377.3 995.7 1380.8 999.8 C1384.2 1003.9 1392.2 1013.6 1395.0 1019.2 C1397.8 1024.8 1396.3 1029.6 1397.6 1033.5 C1398.9 1037.4 1403.2 1040.3 1402.8 1042.5 C1402.4 1044.7 1395.9 1044.7 1395.0 1046.4 C1394.1 1048.1 1395.4 1050.4 1397.6 1052.8 C1399.8 1055.2 1404.9 1058.9 1407.9 1060.6 C1410.9 1062.3 1413.1 1064.3 1415.7 1063.2 C1418.3 1062.1 1422.0 1056.5 1423.5 1054.1 C1425.0 1051.7 1424.9 1050.9 1424.7 1049.0 C1424.5 1047.1 1422.0 1041.5 1422.2 1042.5 C1422.4 1043.5 1425.8 1051.8 1426.0 1055.0 C1426.2 1058.2 1424.6 1059.2 1423.5 1061.9 C1422.4 1064.6 1421.8 1068.8 1419.6 1071.0 C1417.4 1073.2 1412.9 1073.3 1410.5 1074.8 C1408.1 1076.3 1405.7 1077.0 1405.3 1080.0 C1404.9 1083.0 1405.5 1089.0 1407.9 1092.9 C1410.3 1096.8 1415.3 1102.4 1419.6 1103.3 C1423.9 1104.2 1429.9 1099.4 1433.8 1098.1 C1437.7 1096.8 1441.1 1095.1 1442.8 1095.5 C1444.5 1095.9 1443.0 1097.2 1444.1 1100.7 C1445.2 1104.2 1446.7 1111.9 1449.3 1116.2 C1451.9 1120.5 1456.5 1124.0 1459.7 1126.6 C1462.9 1129.2 1466.1 1130.4 1468.7 1131.7 C1471.3 1133.0 1472.4 1135.2 1475.2 1134.3 C1478.0 1133.4 1482.5 1128.8 1485.5 1126.6 C1488.5 1124.4 1491.3 1119.7 1493.3 1121.4 C1495.2 1123.1 1494.5 1130.8 1497.2 1136.9 C1499.9 1143.0 1505.5 1154.9 1509.2 1158.2 C1512.9 1161.5 1515.9 1154.0 1519.2 1156.5 C1522.5 1159.0 1526.3 1167.6 1529.1 1173.1 C1531.9 1178.6 1530.2 1186.4 1535.8 1189.7 C1541.3 1193.0 1554.7 1190.3 1562.4 1193.1 C1570.2 1195.9 1575.7 1201.4 1582.3 1206.4 C1588.9 1211.4 1597.9 1216.9 1602.3 1223.0 C1606.7 1229.1 1605.0 1236.9 1608.9 1243.0 C1612.8 1249.1 1617.3 1253.5 1625.6 1259.6 C1633.9 1265.7 1649.9 1277.8 1658.8 1279.5 C1667.7 1281.2 1669.4 1270.7 1678.8 1269.6 C1688.2 1268.5 1713.7 1266.8 1715.4 1272.9 C1717.1 1279.0 1692.7 1299.4 1688.8 1306.1 C1684.9 1312.8 1687.8 1309.9 1692.3 1313.3 C1696.8 1316.7 1710.0 1321.6 1715.6 1326.6 C1721.1 1331.6 1720.6 1341.0 1725.6 1343.2 C1730.6 1345.4 1740.0 1336.0 1745.5 1339.9 C1751.0 1343.8 1752.7 1360.4 1758.8 1366.5 C1764.9 1372.6 1774.9 1372.1 1782.1 1376.5 C1789.3 1380.9 1795.4 1389.8 1802.1 1393.1 C1808.8 1396.4 1817.3 1398.6 1822.0 1396.4 C1826.7 1394.2 1826.0 1377.6 1830.4 1379.8 C1834.8 1382.0 1845.0 1399.8 1848.6 1409.8 C1852.2 1419.8 1849.8 1430.8 1852.0 1439.7 C1854.2 1448.6 1859.2 1455.8 1862.0 1463.0 C1864.8 1470.2 1868.6 1477.4 1868.6 1482.9 C1868.6 1488.4 1861.5 1491.2 1862.0 1496.2 C1862.5 1501.2 1872.5 1506.8 1871.9 1512.9 C1871.3 1519.0 1864.1 1525.0 1858.6 1532.8 C1853.1 1540.5 1842.6 1547.2 1838.7 1559.4 C1834.8 1571.6 1833.7 1597.1 1835.3 1606.0 C1836.9 1614.9 1846.4 1614.8 1848.6 1612.6 C1850.8 1610.4 1846.9 1602.1 1848.6 1592.7 C1850.3 1583.3 1856.4 1564.4 1858.6 1556.1 C1860.8 1547.8 1855.3 1548.3 1862.0 1542.8 C1868.7 1537.2 1888.0 1520.0 1898.5 1522.8 C1909.0 1525.6 1918.4 1549.4 1925.1 1559.4 C1931.8 1569.4 1935.6 1576.1 1938.4 1582.7 C1941.2 1589.3 1942.9 1594.3 1941.8 1599.3 C1940.7 1604.3 1936.2 1612.0 1931.8 1612.6 C1927.4 1613.1 1920.2 1604.8 1915.2 1602.6 C1910.2 1600.4 1903.0 1596.0 1901.9 1599.3 C1900.8 1602.6 1910.2 1617.6 1908.5 1622.6 C1906.8 1627.6 1896.3 1629.3 1891.9 1629.3 C1887.5 1629.3 1885.8 1621.5 1881.9 1622.6 C1878.0 1623.7 1870.3 1630.9 1868.6 1635.9 C1866.9 1640.9 1873.0 1647.5 1871.9 1652.5 C1870.8 1657.5 1866.4 1661.4 1862.0 1665.8 C1857.6 1670.2 1849.8 1673.5 1845.3 1679.1 C1840.8 1684.6 1837.5 1691.3 1835.3 1699.1 C1833.1 1706.9 1836.4 1721.0 1832.0 1725.7 C1827.6 1730.4 1815.9 1728.5 1808.7 1727.4 C1801.5 1726.3 1795.5 1725.4 1788.8 1719.0 C1782.1 1712.6 1773.2 1696.3 1768.8 1689.1 C1764.4 1681.9 1765.0 1678.0 1762.2 1675.8 C1759.4 1673.6 1757.8 1676.9 1752.2 1675.8 C1746.7 1674.7 1737.8 1672.0 1728.9 1669.2 C1720.0 1666.4 1708.4 1662.5 1699.0 1659.2 C1689.6 1655.9 1681.8 1649.8 1672.4 1649.2 C1663.0 1648.7 1651.8 1654.5 1642.4 1655.9 C1633.0 1657.3 1623.5 1659.2 1615.8 1657.5 C1608.0 1655.8 1601.4 1650.3 1595.9 1645.9 C1590.4 1641.5 1587.0 1631.5 1582.6 1630.9 C1578.2 1630.3 1572.6 1636.7 1569.3 1642.5 C1566.0 1648.3 1567.0 1660.2 1562.6 1665.8 C1558.2 1671.3 1547.1 1670.8 1542.7 1675.8 C1538.3 1680.8 1534.3 1690.8 1536.0 1695.8 C1537.7 1700.8 1549.3 1701.3 1552.6 1705.7 C1555.9 1710.1 1557.7 1717.4 1556.0 1722.4 C1554.3 1727.4 1548.8 1732.1 1542.7 1735.7 C1536.6 1739.3 1523.8 1744.0 1519.4 1744.0 C1515.0 1744.0 1518.3 1738.8 1516.1 1735.7 C1513.9 1732.7 1510.5 1726.8 1506.1 1725.7 C1501.7 1724.6 1493.4 1725.7 1489.5 1729.0 C1485.6 1732.3 1483.9 1739.6 1482.8 1745.7 C1481.7 1751.8 1484.5 1759.5 1482.8 1765.6 C1481.1 1771.7 1477.2 1778.6 1472.8 1782.2 C1468.4 1785.8 1461.2 1788.9 1456.2 1787.2 C1451.2 1785.5 1447.3 1776.5 1442.9 1772.3 C1438.5 1768.1 1432.9 1762.3 1429.6 1762.3 C1426.3 1762.3 1424.0 1767.3 1422.9 1772.3 C1421.8 1777.3 1424.6 1788.0 1422.9 1792.2 C1421.2 1796.4 1416.0 1798.3 1413.0 1797.2 C1410.0 1796.1 1406.3 1789.8 1404.6 1785.6 C1402.9 1781.4 1405.5 1776.2 1403.0 1772.3 C1400.5 1768.4 1396.9 1764.2 1389.7 1762.3 C1382.5 1760.3 1365.9 1763.4 1359.8 1760.6 C1353.7 1757.8 1356.4 1749.8 1353.1 1745.7 C1349.8 1741.6 1346.4 1741.2 1339.8 1735.7 C1333.2 1730.2 1320.4 1719.6 1313.2 1712.4 C1306.0 1705.2 1300.2 1699.6 1296.6 1692.4 C1293.0 1685.2 1292.2 1677.8 1291.6 1669.2 C1291.0 1660.6 1290.2 1644.8 1293.2 1640.9 C1296.2 1637.0 1303.8 1647.8 1309.9 1645.9 C1316.0 1644.0 1325.9 1636.0 1329.8 1629.3 C1333.7 1622.6 1334.2 1613.8 1333.1 1606.0 C1332.0 1598.2 1328.7 1589.4 1323.2 1582.7 C1317.7 1576.0 1307.1 1572.8 1299.9 1566.1 C1292.7 1559.4 1285.5 1549.8 1279.9 1542.8 C1274.3 1535.8 1267.5 1530.1 1266.4 1523.9 C1265.3 1517.7 1272.5 1514.3 1273.1 1505.7 C1273.6 1497.1 1271.9 1481.8 1269.7 1472.4 C1267.5 1463.0 1264.5 1455.2 1259.8 1449.1 C1255.1 1443.0 1244.8 1440.8 1241.5 1435.8 C1238.2 1430.8 1241.8 1424.2 1239.8 1419.2 C1237.8 1414.2 1229.8 1413.7 1229.8 1405.9 C1229.8 1398.2 1239.0 1381.6 1239.8 1372.7 C1240.6 1363.8 1235.3 1359.9 1234.8 1352.7 C1234.2 1345.5 1235.7 1337.7 1236.5 1329.4 C1237.3 1321.1 1235.9 1311.1 1239.8 1302.8 C1243.7 1294.5 1259.2 1286.7 1259.8 1279.5 C1260.3 1272.3 1244.8 1265.7 1243.1 1259.6 C1241.4 1253.5 1250.9 1249.7 1249.8 1243.0 C1248.7 1236.3 1238.4 1228.6 1236.5 1219.7 C1234.6 1210.8 1237.1 1200.2 1238.2 1189.7 C1239.3 1179.2 1240.6 1165.4 1243.1 1156.5 C1245.6 1147.6 1254.2 1138.7 1253.1 1136.5 C1252.0 1134.3 1242.0 1143.8 1236.5 1143.2 C1231.0 1142.7 1227.1 1140.4 1219.9 1133.2 C1212.7 1126.0 1199.0 1109.0 1193.3 1100.0 C1187.6 1091.0 1191.0 1090.7 1185.9 1078.9 C1180.8 1067.1 1167.6 1039.2 1162.6 1029.0 C1157.6 1018.8 1162.1 1017.4 1156.0 1017.4 C1149.9 1017.4 1135.5 1024.3 1126.1 1029.0 C1116.7 1033.7 1104.5 1041.3 1099.5 1045.7 C1094.5 1050.1 1100.5 1051.2 1096.1 1055.6 C1091.7 1060.0 1081.2 1065.1 1072.9 1072.3 C1064.6 1079.5 1053.5 1093.1 1046.3 1098.9 C1039.1 1104.7 1035.1 1107.2 1029.6 1107.2 C1024.0 1107.2 1017.4 1102.5 1013.0 1098.9 C1008.6 1095.3 1005.2 1089.5 1003.0 1085.6 C1000.8 1081.7 1005.8 1079.5 999.7 1075.6 C993.6 1071.7 975.8 1065.1 966.4 1062.3 C957.0 1059.5 947.6 1058.2 943.2 1059.0 C938.8 1059.8 942.0 1069.0 939.8 1067.3 C937.6 1065.6 933.8 1055.4 929.9 1049.0 C926.0 1042.6 919.4 1036.2 916.6 1029.0 C913.8 1021.8 915.4 1013.0 913.2 1005.8 C911.0 998.6 908.3 990.8 903.3 985.8 C898.3 980.8 886.9 981.3 883.3 975.8 C879.7 970.3 881.0 962.0 881.6 952.6 C882.2 943.2 885.2 927.1 886.6 919.3 C888.0 911.5 886.7 910.4 890.0 906.0 C893.3 901.6 902.7 899.9 906.6 892.7 C910.5 885.5 910.4 872.2 913.2 862.8 C916.0 853.4 920.7 843.4 923.2 836.2 C925.7 829.0 926.0 824.5 928.2 819.5 C930.4 814.5 936.8 813.4 936.5 806.2 C936.2 799.0 929.3 786.3 926.5 776.3 C923.7 766.3 921.8 755.8 919.9 746.4 C918.0 737.0 916.0 728.1 914.9 719.8 C913.8 711.5 912.4 703.1 913.2 696.5 C914.0 689.9 916.0 685.4 919.9 679.9 C923.8 674.4 928.2 667.6 936.5 663.2 C944.8 658.8 962.6 656.6 969.8 653.3 C977.0 650.0 975.3 645.4 979.7 643.3Z" fill="none" stroke="#000" stroke-width="2.1" stroke-linejoin="round"/>
<clipPath id="c6"><path d="M1332.9 974.6 C1335.7 973.7 1357.1 978.4 1362.7 980.4 C1368.3 982.4 1366.2 984.9 1366.6 986.9 C1367.0 988.9 1366.6 991.0 1365.3 992.1 C1364.0 993.2 1362.0 994.5 1358.8 993.4 C1355.6 992.3 1350.2 988.7 1345.9 985.6 C1341.6 982.5 1330.1 975.5 1332.9 974.6Z"/></clipPath>
<path d="M1332.9 974.6 C1335.7 973.7 1357.1 978.4 1362.7 980.4 C1368.3 982.4 1366.2 984.9 1366.6 986.9 C1367.0 988.9 1366.6 991.0 1365.3 992.1 C1364.0 993.2 1362.0 994.5 1358.8 993.4 C1355.6 992.3 1350.2 988.7 1345.9 985.6 C1341.6 982.5 1330.1 975.5 1332.9 974.6Z" fill="#95b35a"/>
<path d="M1332.9 974.6 C1335.7 973.7 1357.1 978.4 1362.7 980.4 C1368.3 982.4 1366.2 984.9 1366.6 986.9 C1367.0 988.9 1366.6 991.0 1365.3 992.1 C1364.0 993.2 1362.0 994.5 1358.8 993.4 C1355.6 992.3 1350.2 988.7 1345.9 985.6 C1341.6 982.5 1330.1 975.5 1332.9 974.6Z" fill="none" stroke="#000" stroke-width="2.1" stroke-linejoin="round"/>
<clipPath id="c7"><path d="M1366.0 1788.0 C1367.5 1785.8 1372.0 1783.2 1375.0 1784.0 C1378.0 1784.8 1381.0 1788.0 1384.0 1793.0 C1387.0 1798.0 1392.0 1809.8 1393.0 1814.0 C1394.0 1818.2 1392.2 1819.0 1390.0 1818.0 C1387.8 1817.0 1384.0 1811.5 1380.0 1808.0 C1376.0 1804.5 1368.3 1800.3 1366.0 1797.0 C1363.7 1793.7 1364.5 1790.2 1366.0 1788.0Z"/></clipPath>
<path d="M1366.0 1788.0 C1367.5 1785.8 1372.0 1783.2 1375.0 1784.0 C1378.0 1784.8 1381.0 1788.0 1384.0 1793.0 C1387.0 1798.0 1392.0 1809.8 1393.0 1814.0 C1394.0 1818.2 1392.2 1819.0 1390.0 1818.0 C1387.8 1817.0 1384.0 1811.5 1380.0 1808.0 C1376.0 1804.5 1368.3 1800.3 1366.0 1797.0 C1363.7 1793.7 1364.5 1790.2 1366.0 1788.0Z" fill="#95b35a"/>
<path d="M1366.0 1788.0 C1367.5 1785.8 1372.0 1783.2 1375.0 1784.0 C1378.0 1784.8 1381.0 1788.0 1384.0 1793.0 C1387.0 1798.0 1392.0 1809.8 1393.0 1814.0 C1394.0 1818.2 1392.2 1819.0 1390.0 1818.0 C1387.8 1817.0 1384.0 1811.5 1380.0 1808.0 C1376.0 1804.5 1368.3 1800.3 1366.0 1797.0 C1363.7 1793.7 1364.5 1790.2 1366.0 1788.0Z" fill="none" stroke="#000" stroke-width="2.1" stroke-linejoin="round"/>
<ellipse cx="1123.5" cy="671.5" rx="12.0" ry="8.0" transform="rotate(10.0 1123.5 671.5)" fill="#95b35a" stroke="#000" stroke-width="2.0"/>
<ellipse cx="1175.0" cy="742.0" rx="9.0" ry="7.0" transform="rotate(-35.0 1175.0 742.0)" fill="#95b35a" stroke="#000" stroke-width="2.0"/>
<ellipse cx="1231.0" cy="794.5" rx="6.5" ry="8.5" transform="rotate(0.0 1231.0 794.5)" fill="#95b35a" stroke="#000" stroke-width="2.0"/>
<ellipse cx="1249.0" cy="816.0" rx="10.0" ry="12.0" transform="rotate(0.0 1249.0 816.0)" fill="#95b35a" stroke="#000" stroke-width="2.0"/>
<ellipse cx="1280.0" cy="931.0" rx="6.0" ry="3.0" transform="rotate(-30.0 1280.0 931.0)" fill="#95b35a" stroke="#000" stroke-width="2.0"/>
<ellipse cx="1345.0" cy="953.0" rx="11.3" ry="7.7" transform="rotate(0.0 1345.0 953.0)" fill="#95b35a" stroke="#000" stroke-width="2.0"/>
<ellipse cx="1331.0" cy="999.5" rx="7.0" ry="3.0" transform="rotate(20.0 1331.0 999.5)" fill="#95b35a" stroke="#000" stroke-width="2.0"/>
<ellipse cx="1360.7" cy="1022.0" rx="3.0" ry="5.0" transform="rotate(-10.0 1360.7 1022.0)" fill="#95b35a" stroke="#000" stroke-width="2.0"/>
<ellipse cx="1357.5" cy="1036.0" rx="3.0" ry="2.5" transform="rotate(0.0 1357.5 1036.0)" fill="#95b35a" stroke="#000" stroke-width="2.0"/>
<ellipse cx="1566.0" cy="1678.5" rx="5.0" ry="7.5" transform="rotate(0.0 1566.0 1678.5)" fill="#95b35a" stroke="#000" stroke-width="2.0"/>
<ellipse cx="1654.5" cy="1682.5" rx="7.5" ry="6.5" transform="rotate(0.0 1654.5 1682.5)" fill="#95b35a" stroke="#000" stroke-width="2.0"/>
<ellipse cx="1758.0" cy="1680.5" rx="6.0" ry="6.5" transform="rotate(0.0 1758.0 1680.5)" fill="#95b35a" stroke="#000" stroke-width="2.0"/>
<ellipse cx="1922.0" cy="1647.0" rx="26.0" ry="13.0" transform="rotate(-25.0 1922.0 1647.0)" fill="#95b35a" stroke="#000" stroke-width="2.0"/>
<ellipse cx="1852.0" cy="1687.5" rx="6.5" ry="6.5" transform="rotate(0.0 1852.0 1687.5)" fill="#95b35a" stroke="#000" stroke-width="2.0"/>
<ellipse cx="1846.0" cy="1711.5" rx="4.0" ry="7.5" transform="rotate(10.0 1846.0 1711.5)" fill="#95b35a" stroke="#000" stroke-width="2.0"/>
<ellipse cx="1862.0" cy="1730.7" rx="8.0" ry="10.0" transform="rotate(0.0 1862.0 1730.7)" fill="#95b35a" stroke="#000" stroke-width="2.0"/>
<ellipse cx="1932.0" cy="1695.0" rx="7.0" ry="13.0" transform="rotate(-10.0 1932.0 1695.0)" fill="#95b35a" stroke="#000" stroke-width="2.0"/>
<ellipse cx="1954.0" cy="1697.0" rx="6.0" ry="16.0" transform="rotate(0.0 1954.0 1697.0)" fill="#95b35a" stroke="#000" stroke-width="2.0"/>
<ellipse cx="1739.0" cy="1701.0" rx="1.5" ry="2.5" transform="rotate(0.0 1739.0 1701.0)" fill="#95b35a" stroke="#000" stroke-width="2.0"/>
<ellipse cx="1725.6" cy="1720.7" rx="1.8" ry="1.8" transform="rotate(0.0 1725.6 1720.7)" fill="#95b35a" stroke="#000" stroke-width="2.0"/>
<ellipse cx="1866.0" cy="1681.0" rx="2.0" ry="2.0" transform="rotate(0.0 1866.0 1681.0)" fill="#95b35a" stroke="#000" stroke-width="2.0"/>
<ellipse cx="1876.0" cy="1676.0" rx="2.0" ry="1.5" transform="rotate(0.0 1876.0 1676.0)" fill="#95b35a" stroke="#000" stroke-width="2.0"/>
<clipPath id="c8"><path d="M2418.8 108.0 C2402.0 108.7 2408.0 109.9 2405.3 112.3 C2402.6 114.7 2402.6 118.5 2402.8 122.2 C2403.0 125.9 2406.9 130.6 2406.5 134.5 C2406.1 138.4 2402.2 141.1 2400.4 145.6 C2398.6 150.1 2396.9 156.1 2395.4 161.6 C2393.9 167.1 2391.9 173.5 2391.7 178.8 C2391.5 184.1 2394.0 188.2 2394.2 193.6 C2394.4 198.9 2394.2 206.2 2393.0 210.9 C2391.8 215.6 2387.4 218.3 2386.8 222.0 C2386.2 225.7 2390.3 228.3 2389.3 233.0 C2388.3 237.7 2384.0 246.4 2380.7 250.3 C2377.4 254.2 2370.2 253.1 2369.6 256.4 C2369.0 259.7 2374.3 264.9 2377.0 270.0 C2379.7 275.1 2385.6 281.9 2385.6 287.2 C2385.6 292.5 2379.1 297.1 2377.0 302.0 C2374.9 306.9 2371.2 311.9 2373.3 316.8 C2375.4 321.7 2386.0 325.0 2389.3 331.6 C2392.6 338.2 2390.9 350.0 2393.0 356.2 C2395.1 362.4 2399.3 362.0 2401.6 368.6 C2403.8 375.2 2406.5 388.7 2406.5 395.7 C2406.5 402.7 2400.4 407.1 2401.6 410.4 C2402.8 413.7 2410.6 411.3 2413.9 415.4 C2417.2 419.5 2420.5 428.5 2421.3 435.1 C2422.1 441.7 2416.3 448.7 2418.8 454.8 C2421.3 460.9 2431.5 467.8 2436.1 472.0 C2440.7 476.2 2443.5 475.4 2446.5 480.0 C2449.5 484.6 2451.7 493.5 2453.9 499.7 C2456.2 505.9 2459.0 510.0 2460.0 517.0 C2461.0 524.0 2460.6 533.4 2460.0 541.6 C2459.4 549.8 2457.0 557.6 2456.4 566.2 C2455.8 574.8 2454.8 583.8 2456.4 593.3 C2458.0 602.8 2463.8 613.9 2466.2 622.9 C2468.6 631.9 2468.8 640.9 2471.1 647.5 C2473.4 654.1 2478.2 657.4 2479.8 662.3 C2481.5 667.2 2479.2 672.1 2481.0 677.0 C2482.8 681.9 2489.6 685.2 2490.8 691.8 C2492.0 698.4 2489.2 709.1 2488.4 716.5 C2487.6 723.9 2484.3 730.1 2485.9 736.2 C2487.5 742.4 2496.5 746.8 2498.2 753.4 C2499.8 760.0 2497.9 768.2 2495.8 775.6 C2493.8 783.0 2487.6 792.0 2485.9 797.7 C2484.2 803.4 2484.2 805.9 2485.9 810.0 C2487.6 814.1 2491.3 817.9 2495.8 822.4 C2500.3 826.9 2507.7 830.5 2513.0 837.1 C2518.3 843.7 2524.5 861.0 2527.8 861.8 C2531.1 862.6 2529.0 845.0 2532.7 842.1 C2536.4 839.2 2546.3 842.0 2550.0 844.5 C2553.7 847.0 2552.8 856.8 2554.9 856.8 C2557.0 856.8 2557.8 847.0 2562.3 844.5 C2566.8 842.0 2577.9 843.7 2582.0 842.1 C2586.1 840.5 2584.5 838.0 2586.9 834.7 C2589.3 831.4 2595.1 826.9 2596.7 822.4 C2598.3 817.9 2594.6 811.3 2596.7 807.6 C2598.8 803.9 2604.2 802.7 2609.1 800.2 C2614.0 797.7 2624.2 796.9 2626.3 792.8 C2628.4 788.7 2623.0 781.4 2621.4 775.6 C2619.8 769.9 2617.7 764.9 2616.5 758.3 C2615.3 751.7 2615.2 741.1 2614.0 736.2 C2612.8 731.3 2607.0 730.9 2609.1 728.8 C2611.2 726.7 2621.8 726.3 2626.3 723.8 C2630.8 721.3 2635.4 716.9 2636.2 714.0 C2637.0 711.1 2634.1 708.2 2631.2 706.6 C2628.3 705.0 2621.3 707.0 2618.9 704.1 C2616.5 701.2 2615.3 695.1 2616.5 689.4 C2617.7 683.7 2625.5 675.9 2626.3 669.7 C2627.1 663.5 2622.6 658.6 2621.4 652.4 C2620.2 646.2 2619.7 640.9 2618.9 632.7 C2618.1 624.5 2617.7 611.4 2616.5 603.2 C2615.3 595.0 2614.4 587.5 2611.5 583.4 C2608.6 579.3 2602.1 582.2 2599.2 578.5 C2596.3 574.8 2596.4 567.0 2594.3 561.3 C2592.2 555.5 2588.6 550.2 2586.9 544.0 C2585.2 537.8 2585.2 531.7 2584.4 524.3 C2583.6 516.9 2582.9 508.4 2582.0 499.7 C2581.1 491.0 2581.2 481.1 2579.0 472.0 C2576.8 462.9 2572.8 453.1 2569.1 444.9 C2565.4 436.7 2560.1 431.0 2556.8 422.8 C2553.5 414.6 2551.0 406.0 2549.4 395.7 C2547.8 385.4 2548.6 370.2 2547.0 361.2 C2545.4 352.1 2542.5 347.6 2539.6 341.4 C2536.7 335.2 2529.7 329.9 2529.7 324.2 C2529.7 318.5 2538.8 311.9 2539.6 307.0 C2540.4 302.1 2538.3 297.9 2534.6 294.6 C2530.9 291.3 2521.1 291.7 2517.4 287.2 C2513.7 282.7 2514.2 273.6 2512.5 267.5 C2510.8 261.4 2509.6 256.9 2507.5 250.3 C2505.4 243.7 2501.7 235.1 2500.1 228.1 C2498.5 221.1 2499.8 214.6 2497.7 208.4 C2495.6 202.2 2489.5 195.7 2487.8 191.2 C2486.2 186.7 2486.4 185.8 2487.8 181.3 C2489.2 176.8 2492.9 169.0 2496.4 164.1 C2499.9 159.2 2507.0 157.4 2508.8 151.7 C2510.7 145.9 2507.9 136.9 2507.5 129.6 C2507.1 122.3 2521.1 111.6 2506.3 108.0 C2491.5 104.4 2435.6 107.3 2418.8 108.0Z"/></clipPath>
<path d="M2418.8 108.0 C2402.0 108.7 2408.0 109.9 2405.3 112.3 C2402.6 114.7 2402.6 118.5 2402.8 122.2 C2403.0 125.9 2406.9 130.6 2406.5 134.5 C2406.1 138.4 2402.2 141.1 2400.4 145.6 C2398.6 150.1 2396.9 156.1 2395.4 161.6 C2393.9 167.1 2391.9 173.5 2391.7 178.8 C2391.5 184.1 2394.0 188.2 2394.2 193.6 C2394.4 198.9 2394.2 206.2 2393.0 210.9 C2391.8 215.6 2387.4 218.3 2386.8 222.0 C2386.2 225.7 2390.3 228.3 2389.3 233.0 C2388.3 237.7 2384.0 246.4 2380.7 250.3 C2377.4 254.2 2370.2 253.1 2369.6 256.4 C2369.0 259.7 2374.3 264.9 2377.0 270.0 C2379.7 275.1 2385.6 281.9 2385.6 287.2 C2385.6 292.5 2379.1 297.1 2377.0 302.0 C2374.9 306.9 2371.2 311.9 2373.3 316.8 C2375.4 321.7 2386.0 325.0 2389.3 331.6 C2392.6 338.2 2390.9 350.0 2393.0 356.2 C2395.1 362.4 2399.3 362.0 2401.6 368.6 C2403.8 375.2 2406.5 388.7 2406.5 395.7 C2406.5 402.7 2400.4 407.1 2401.6 410.4 C2402.8 413.7 2410.6 411.3 2413.9 415.4 C2417.2 419.5 2420.5 428.5 2421.3 435.1 C2422.1 441.7 2416.3 448.7 2418.8 454.8 C2421.3 460.9 2431.5 467.8 2436.1 472.0 C2440.7 476.2 2443.5 475.4 2446.5 480.0 C2449.5 484.6 2451.7 493.5 2453.9 499.7 C2456.2 505.9 2459.0 510.0 2460.0 517.0 C2461.0 524.0 2460.6 533.4 2460.0 541.6 C2459.4 549.8 2457.0 557.6 2456.4 566.2 C2455.8 574.8 2454.8 583.8 2456.4 593.3 C2458.0 602.8 2463.8 613.9 2466.2 622.9 C2468.6 631.9 2468.8 640.9 2471.1 647.5 C2473.4 654.1 2478.2 657.4 2479.8 662.3 C2481.5 667.2 2479.2 672.1 2481.0 677.0 C2482.8 681.9 2489.6 685.2 2490.8 691.8 C2492.0 698.4 2489.2 709.1 2488.4 716.5 C2487.6 723.9 2484.3 730.1 2485.9 736.2 C2487.5 742.4 2496.5 746.8 2498.2 753.4 C2499.8 760.0 2497.9 768.2 2495.8 775.6 C2493.8 783.0 2487.6 792.0 2485.9 797.7 C2484.2 803.4 2484.2 805.9 2485.9 810.0 C2487.6 814.1 2491.3 817.9 2495.8 822.4 C2500.3 826.9 2507.7 830.5 2513.0 837.1 C2518.3 843.7 2524.5 861.0 2527.8 861.8 C2531.1 862.6 2529.0 845.0 2532.7 842.1 C2536.4 839.2 2546.3 842.0 2550.0 844.5 C2553.7 847.0 2552.8 856.8 2554.9 856.8 C2557.0 856.8 2557.8 847.0 2562.3 844.5 C2566.8 842.0 2577.9 843.7 2582.0 842.1 C2586.1 840.5 2584.5 838.0 2586.9 834.7 C2589.3 831.4 2595.1 826.9 2596.7 822.4 C2598.3 817.9 2594.6 811.3 2596.7 807.6 C2598.8 803.9 2604.2 802.7 2609.1 800.2 C2614.0 797.7 2624.2 796.9 2626.3 792.8 C2628.4 788.7 2623.0 781.4 2621.4 775.6 C2619.8 769.9 2617.7 764.9 2616.5 758.3 C2615.3 751.7 2615.2 741.1 2614.0 736.2 C2612.8 731.3 2607.0 730.9 2609.1 728.8 C2611.2 726.7 2621.8 726.3 2626.3 723.8 C2630.8 721.3 2635.4 716.9 2636.2 714.0 C2637.0 711.1 2634.1 708.2 2631.2 706.6 C2628.3 705.0 2621.3 707.0 2618.9 704.1 C2616.5 701.2 2615.3 695.1 2616.5 689.4 C2617.7 683.7 2625.5 675.9 2626.3 669.7 C2627.1 663.5 2622.6 658.6 2621.4 652.4 C2620.2 646.2 2619.7 640.9 2618.9 632.7 C2618.1 624.5 2617.7 611.4 2616.5 603.2 C2615.3 595.0 2614.4 587.5 2611.5 583.4 C2608.6 579.3 2602.1 582.2 2599.2 578.5 C2596.3 574.8 2596.4 567.0 2594.3 561.3 C2592.2 555.5 2588.6 550.2 2586.9 544.0 C2585.2 537.8 2585.2 531.7 2584.4 524.3 C2583.6 516.9 2582.9 508.4 2582.0 499.7 C2581.1 491.0 2581.2 481.1 2579.0 472.0 C2576.8 462.9 2572.8 453.1 2569.1 444.9 C2565.4 436.7 2560.1 431.0 2556.8 422.8 C2553.5 414.6 2551.0 406.0 2549.4 395.7 C2547.8 385.4 2548.6 370.2 2547.0 361.2 C2545.4 352.1 2542.5 347.6 2539.6 341.4 C2536.7 335.2 2529.7 329.9 2529.7 324.2 C2529.7 318.5 2538.8 311.9 2539.6 307.0 C2540.4 302.1 2538.3 297.9 2534.6 294.6 C2530.9 291.3 2521.1 291.7 2517.4 287.2 C2513.7 282.7 2514.2 273.6 2512.5 267.5 C2510.8 261.4 2509.6 256.9 2507.5 250.3 C2505.4 243.7 2501.7 235.1 2500.1 228.1 C2498.5 221.1 2499.8 214.6 2497.7 208.4 C2495.6 202.2 2489.5 195.7 2487.8 191.2 C2486.2 186.7 2486.4 185.8 2487.8 181.3 C2489.2 176.8 2492.9 169.0 2496.4 164.1 C2499.9 159.2 2507.0 157.4 2508.8 151.7 C2510.7 145.9 2507.9 136.9 2507.5 129.6 C2507.1 122.3 2521.1 111.6 2506.3 108.0 C2491.5 104.4 2435.6 107.3 2418.8 108.0Z" fill="#95b35a"/>
<g clip-path="url(#c8)">
<path d="M2478.0 260.1 C2481.7 259.7 2489.5 265.5 2492.8 270.0 C2496.1 274.5 2496.1 276.5 2497.7 287.2 C2499.3 297.9 2500.1 318.1 2502.6 334.1 C2505.1 350.1 2508.8 370.2 2512.5 383.3 C2516.2 396.4 2521.9 403.9 2524.8 412.9 C2527.7 421.9 2524.4 426.8 2529.7 437.5 C2535.0 448.2 2550.1 466.6 2556.8 477.0 C2563.5 487.4 2566.3 486.1 2569.7 499.7 C2573.1 513.3 2574.9 543.6 2577.0 558.8 C2579.1 574.0 2580.8 579.7 2582.0 590.8 C2583.2 601.9 2581.5 617.5 2584.4 625.3 C2587.3 633.1 2597.1 630.2 2599.2 637.6 C2601.2 645.0 2597.9 658.2 2596.7 669.7 C2595.5 681.2 2593.9 695.5 2591.8 706.6 C2589.8 717.7 2582.8 729.6 2584.4 736.2 C2586.1 742.8 2598.8 741.1 2601.7 746.0 C2604.6 750.9 2600.5 760.8 2601.7 765.7 C2602.9 770.6 2614.0 771.5 2609.1 775.6 C2604.2 779.7 2581.9 789.5 2572.1 790.3 C2562.2 791.1 2554.1 785.0 2550.0 780.5 C2545.9 776.0 2549.6 769.0 2547.5 763.3 C2545.4 757.5 2539.7 753.8 2537.6 746.0 C2535.5 738.2 2536.0 724.7 2535.2 716.5 C2534.4 708.3 2536.0 702.1 2532.7 696.7 C2529.4 691.4 2517.6 688.9 2515.5 684.4 C2513.4 679.9 2517.5 673.4 2520.4 669.7 C2523.3 666.0 2535.2 664.8 2532.7 662.3 C2530.2 659.8 2510.5 659.0 2505.6 654.9 C2500.7 650.8 2500.7 643.4 2503.2 637.6 C2505.7 631.9 2516.3 627.0 2520.4 620.4 C2524.5 613.8 2529.0 603.5 2527.8 598.2 C2526.6 592.9 2520.0 592.5 2513.0 588.4 C2506.0 584.3 2491.2 581.0 2485.9 573.6 C2480.6 566.2 2480.6 552.2 2481.0 544.0 C2481.4 535.8 2488.4 530.9 2488.4 524.3 C2488.4 517.7 2482.7 508.6 2481.0 504.6 C2479.3 500.6 2483.0 507.6 2478.0 500.1 C2473.0 492.6 2458.7 470.9 2450.9 459.7 C2443.1 448.4 2435.3 440.4 2431.2 432.6 C2427.1 424.8 2424.6 417.4 2426.2 412.9 C2427.8 408.4 2439.8 412.5 2441.0 405.5 C2442.2 398.5 2436.1 379.6 2433.6 371.0 C2431.1 362.4 2423.7 360.4 2426.2 353.8 C2428.7 347.2 2445.9 339.0 2448.4 331.6 C2450.9 324.2 2437.7 313.5 2441.0 309.4 C2444.3 305.3 2465.2 310.7 2468.1 307.0 C2471.0 303.3 2457.9 292.9 2458.3 287.2 C2458.7 281.4 2467.3 277.0 2470.6 272.5 C2473.9 268.0 2474.3 260.5 2478.0 260.1Z" fill="#5fa072"/>
<path d="M2522.0 478.0 C2525.8 475.8 2535.0 485.8 2538.0 492.0 C2541.0 498.2 2541.7 508.7 2540.0 515.0 C2538.3 521.3 2531.7 526.8 2528.0 530.0 C2524.3 533.2 2520.7 535.7 2518.0 534.0 C2515.3 532.3 2515.0 523.0 2512.0 520.0 C2509.0 517.0 2499.5 518.5 2500.0 516.0 C2500.5 513.5 2511.3 511.3 2515.0 505.0 C2518.7 498.7 2518.2 480.2 2522.0 478.0Z" fill="#7db6aa"/>
<ellipse cx="2550.0" cy="609.0" rx="7.0" ry="11.0" transform="rotate(0.0 2550.0 609.0)" fill="#7db6aa"/>
</g>
<path d="M2418.8 108.0 C2402.0 108.7 2408.0 109.9 2405.3 112.3 C2402.6 114.7 2402.6 118.5 2402.8 122.2 C2403.0 125.9 2406.9 130.6 2406.5 134.5 C2406.1 138.4 2402.2 141.1 2400.4 145.6 C2398.6 150.1 2396.9 156.1 2395.4 161.6 C2393.9 167.1 2391.9 173.5 2391.7 178.8 C2391.5 184.1 2394.0 188.2 2394.2 193.6 C2394.4 198.9 2394.2 206.2 2393.0 210.9 C2391.8 215.6 2387.4 218.3 2386.8 222.0 C2386.2 225.7 2390.3 228.3 2389.3 233.0 C2388.3 237.7 2384.0 246.4 2380.7 250.3 C2377.4 254.2 2370.2 253.1 2369.6 256.4 C2369.0 259.7 2374.3 264.9 2377.0 270.0 C2379.7 275.1 2385.6 281.9 2385.6 287.2 C2385.6 292.5 2379.1 297.1 2377.0 302.0 C2374.9 306.9 2371.2 311.9 2373.3 316.8 C2375.4 321.7 2386.0 325.0 2389.3 331.6 C2392.6 338.2 2390.9 350.0 2393.0 356.2 C2395.1 362.4 2399.3 362.0 2401.6 368.6 C2403.8 375.2 2406.5 388.7 2406.5 395.7 C2406.5 402.7 2400.4 407.1 2401.6 410.4 C2402.8 413.7 2410.6 411.3 2413.9 415.4 C2417.2 419.5 2420.5 428.5 2421.3 435.1 C2422.1 441.7 2416.3 448.7 2418.8 454.8 C2421.3 460.9 2431.5 467.8 2436.1 472.0 C2440.7 476.2 2443.5 475.4 2446.5 480.0 C2449.5 484.6 2451.7 493.5 2453.9 499.7 C2456.2 505.9 2459.0 510.0 2460.0 517.0 C2461.0 524.0 2460.6 533.4 2460.0 541.6 C2459.4 549.8 2457.0 557.6 2456.4 566.2 C2455.8 574.8 2454.8 583.8 2456.4 593.3 C2458.0 602.8 2463.8 613.9 2466.2 622.9 C2468.6 631.9 2468.8 640.9 2471.1 647.5 C2473.4 654.1 2478.2 657.4 2479.8 662.3 C2481.5 667.2 2479.2 672.1 2481.0 677.0 C2482.8 681.9 2489.6 685.2 2490.8 691.8 C2492.0 698.4 2489.2 709.1 2488.4 716.5 C2487.6 723.9 2484.3 730.1 2485.9 736.2 C2487.5 742.4 2496.5 746.8 2498.2 753.4 C2499.8 760.0 2497.9 768.2 2495.8 775.6 C2493.8 783.0 2487.6 792.0 2485.9 797.7 C2484.2 803.4 2484.2 805.9 2485.9 810.0 C2487.6 814.1 2491.3 817.9 2495.8 822.4 C2500.3 826.9 2507.7 830.5 2513.0 837.1 C2518.3 843.7 2524.5 861.0 2527.8 861.8 C2531.1 862.6 2529.0 845.0 2532.7 842.1 C2536.4 839.2 2546.3 842.0 2550.0 844.5 C2553.7 847.0 2552.8 856.8 2554.9 856.8 C2557.0 856.8 2557.8 847.0 2562.3 844.5 C2566.8 842.0 2577.9 843.7 2582.0 842.1 C2586.1 840.5 2584.5 838.0 2586.9 834.7 C2589.3 831.4 2595.1 826.9 2596.7 822.4 C2598.3 817.9 2594.6 811.3 2596.7 807.6 C2598.8 803.9 2604.2 802.7 2609.1 800.2 C2614.0 797.7 2624.2 796.9 2626.3 792.8 C2628.4 788.7 2623.0 781.4 2621.4 775.6 C2619.8 769.9 2617.7 764.9 2616.5 758.3 C2615.3 751.7 2615.2 741.1 2614.0 736.2 C2612.8 731.3 2607.0 730.9 2609.1 728.8 C2611.2 726.7 2621.8 726.3 2626.3 723.8 C2630.8 721.3 2635.4 716.9 2636.2 714.0 C2637.0 711.1 2634.1 708.2 2631.2 706.6 C2628.3 705.0 2621.3 707.0 2618.9 704.1 C2616.5 701.2 2615.3 695.1 2616.5 689.4 C2617.7 683.7 2625.5 675.9 2626.3 669.7 C2627.1 663.5 2622.6 658.6 2621.4 652.4 C2620.2 646.2 2619.7 640.9 2618.9 632.7 C2618.1 624.5 2617.7 611.4 2616.5 603.2 C2615.3 595.0 2614.4 587.5 2611.5 583.4 C2608.6 579.3 2602.1 582.2 2599.2 578.5 C2596.3 574.8 2596.4 567.0 2594.3 561.3 C2592.2 555.5 2588.6 550.2 2586.9 544.0 C2585.2 537.8 2585.2 531.7 2584.4 524.3 C2583.6 516.9 2582.9 508.4 2582.0 499.7 C2581.1 491.0 2581.2 481.1 2579.0 472.0 C2576.8 462.9 2572.8 453.1 2569.1 444.9 C2565.4 436.7 2560.1 431.0 2556.8 422.8 C2553.5 414.6 2551.0 406.0 2549.4 395.7 C2547.8 385.4 2548.6 370.2 2547.0 361.2 C2545.4 352.1 2542.5 347.6 2539.6 341.4 C2536.7 335.2 2529.7 329.9 2529.7 324.2 C2529.7 318.5 2538.8 311.9 2539.6 307.0 C2540.4 302.1 2538.3 297.9 2534.6 294.6 C2530.9 291.3 2521.1 291.7 2517.4 287.2 C2513.7 282.7 2514.2 273.6 2512.5 267.5 C2510.8 261.4 2509.6 256.9 2507.5 250.3 C2505.4 243.7 2501.7 235.1 2500.1 228.1 C2498.5 221.1 2499.8 214.6 2497.7 208.4 C2495.6 202.2 2489.5 195.7 2487.8 191.2 C2486.2 186.7 2486.4 185.8 2487.8 181.3 C2489.2 176.8 2492.9 169.0 2496.4 164.1 C2499.9 159.2 2507.0 157.4 2508.8 151.7 C2510.7 145.9 2507.9 136.9 2507.5 129.6 C2507.1 122.3 2521.1 111.6 2506.3 108.0 C2491.5 104.4 2435.6 107.3 2418.8 108.0Z" fill="none" stroke="#000" stroke-width="2.1" stroke-linejoin="round"/>
<clipPath id="c9"><path d="M2062.2 1213.5 C2063.7 1208.1 2065.4 1200.0 2069.6 1195.8 C2073.8 1191.6 2080.9 1189.4 2087.3 1188.4 C2093.7 1187.4 2100.6 1191.1 2108.0 1189.9 C2115.4 1188.7 2123.7 1183.2 2131.6 1181.0 C2139.5 1178.8 2149.9 1179.3 2155.3 1176.6 C2160.7 1173.9 2160.4 1167.7 2164.1 1164.7 C2167.8 1161.7 2172.0 1159.8 2177.4 1158.8 C2182.8 1157.8 2191.0 1159.0 2196.7 1158.8 C2202.4 1158.5 2201.6 1158.3 2211.4 1157.3 C2221.2 1156.3 2246.9 1152.2 2255.8 1152.9 C2264.7 1153.7 2258.7 1162.0 2264.6 1161.8 C2270.5 1161.5 2285.8 1155.1 2291.2 1151.4 C2296.6 1147.7 2291.7 1143.8 2297.1 1139.6 C2302.5 1135.4 2319.0 1130.2 2323.7 1126.3 C2328.4 1122.4 2322.7 1119.7 2325.2 1116.0 C2327.7 1112.3 2334.8 1108.0 2338.5 1104.1 C2342.2 1100.1 2342.5 1095.5 2347.4 1092.3 C2352.3 1089.1 2363.2 1087.9 2368.1 1084.9 C2373.0 1082.0 2373.6 1078.3 2377.0 1074.6 C2380.4 1070.9 2385.9 1068.7 2388.8 1062.8 C2391.8 1056.9 2392.5 1048.2 2394.7 1039.1 C2396.9 1030.0 2399.1 1014.2 2402.1 1008.1 C2405.1 1002.0 2406.2 1003.8 2412.4 1002.2 C2418.6 1000.6 2430.1 998.5 2439.0 998.3 C2447.9 998.0 2458.7 998.3 2465.6 1000.7 C2472.5 1003.1 2476.0 1006.6 2480.4 1012.5 C2484.8 1018.4 2489.2 1028.3 2492.2 1036.2 C2495.1 1044.1 2496.6 1051.4 2498.1 1059.8 C2499.6 1068.2 2498.6 1078.5 2501.1 1086.4 C2503.6 1094.3 2510.4 1099.2 2512.9 1107.1 C2515.4 1115.0 2513.4 1124.3 2515.9 1133.7 C2518.4 1143.1 2524.2 1152.5 2527.7 1163.3 C2531.1 1174.1 2534.6 1186.9 2536.6 1198.7 C2538.6 1210.5 2538.0 1227.3 2539.5 1234.2 C2541.0 1241.1 2537.5 1238.1 2545.4 1240.1 C2553.3 1242.1 2575.0 1242.1 2586.8 1246.0 C2598.6 1249.9 2606.6 1257.3 2616.4 1263.7 C2626.2 1270.1 2637.0 1278.0 2645.9 1284.4 C2654.8 1290.8 2663.7 1293.8 2669.6 1302.2 C2675.5 1310.6 2678.9 1324.9 2681.4 1334.7 C2683.9 1344.5 2684.9 1354.4 2684.4 1361.3 C2683.9 1368.2 2682.4 1371.1 2678.4 1376.0 C2674.4 1380.9 2666.1 1386.3 2660.7 1390.8 C2655.3 1395.2 2651.8 1398.8 2645.9 1402.7 C2640.0 1406.7 2636.5 1411.3 2625.2 1414.5 C2613.9 1417.7 2591.7 1421.9 2577.9 1421.9 C2564.1 1421.9 2553.3 1416.7 2542.5 1414.5 C2531.7 1412.3 2521.5 1406.6 2512.9 1408.6 C2504.3 1410.6 2499.1 1423.6 2490.7 1426.3 C2482.3 1429.0 2471.3 1424.8 2462.7 1424.8 C2454.1 1424.8 2449.8 1423.6 2439.0 1426.3 C2428.2 1429.0 2409.9 1440.6 2397.6 1441.1 C2385.3 1441.6 2375.4 1433.2 2365.1 1429.3 C2354.8 1425.3 2346.4 1421.4 2335.6 1417.4 C2324.8 1413.5 2312.9 1411.0 2300.1 1405.6 C2287.3 1400.2 2268.0 1390.8 2258.7 1384.9 C2249.3 1379.0 2249.9 1373.7 2244.0 1370.2 C2238.1 1366.8 2227.8 1364.5 2223.3 1364.2 C2218.9 1364.0 2220.3 1370.7 2217.3 1368.7 C2214.3 1366.7 2211.9 1356.6 2205.5 1352.4 C2199.1 1348.2 2186.8 1347.4 2178.9 1343.5 C2171.0 1339.6 2165.6 1335.2 2158.2 1328.8 C2150.8 1322.4 2143.5 1312.5 2134.6 1305.1 C2125.7 1297.7 2115.3 1290.8 2105.0 1284.4 C2094.7 1278.0 2078.2 1271.6 2072.5 1266.7 C2066.8 1261.8 2073.0 1261.3 2071.0 1254.9 C2069.0 1248.5 2062.2 1235.2 2060.7 1228.3 C2059.2 1221.4 2060.7 1218.9 2062.2 1213.5Z"/></clipPath>
<path d="M2062.2 1213.5 C2063.7 1208.1 2065.4 1200.0 2069.6 1195.8 C2073.8 1191.6 2080.9 1189.4 2087.3 1188.4 C2093.7 1187.4 2100.6 1191.1 2108.0 1189.9 C2115.4 1188.7 2123.7 1183.2 2131.6 1181.0 C2139.5 1178.8 2149.9 1179.3 2155.3 1176.6 C2160.7 1173.9 2160.4 1167.7 2164.1 1164.7 C2167.8 1161.7 2172.0 1159.8 2177.4 1158.8 C2182.8 1157.8 2191.0 1159.0 2196.7 1158.8 C2202.4 1158.5 2201.6 1158.3 2211.4 1157.3 C2221.2 1156.3 2246.9 1152.2 2255.8 1152.9 C2264.7 1153.7 2258.7 1162.0 2264.6 1161.8 C2270.5 1161.5 2285.8 1155.1 2291.2 1151.4 C2296.6 1147.7 2291.7 1143.8 2297.1 1139.6 C2302.5 1135.4 2319.0 1130.2 2323.7 1126.3 C2328.4 1122.4 2322.7 1119.7 2325.2 1116.0 C2327.7 1112.3 2334.8 1108.0 2338.5 1104.1 C2342.2 1100.1 2342.5 1095.5 2347.4 1092.3 C2352.3 1089.1 2363.2 1087.9 2368.1 1084.9 C2373.0 1082.0 2373.6 1078.3 2377.0 1074.6 C2380.4 1070.9 2385.9 1068.7 2388.8 1062.8 C2391.8 1056.9 2392.5 1048.2 2394.7 1039.1 C2396.9 1030.0 2399.1 1014.2 2402.1 1008.1 C2405.1 1002.0 2406.2 1003.8 2412.4 1002.2 C2418.6 1000.6 2430.1 998.5 2439.0 998.3 C2447.9 998.0 2458.7 998.3 2465.6 1000.7 C2472.5 1003.1 2476.0 1006.6 2480.4 1012.5 C2484.8 1018.4 2489.2 1028.3 2492.2 1036.2 C2495.1 1044.1 2496.6 1051.4 2498.1 1059.8 C2499.6 1068.2 2498.6 1078.5 2501.1 1086.4 C2503.6 1094.3 2510.4 1099.2 2512.9 1107.1 C2515.4 1115.0 2513.4 1124.3 2515.9 1133.7 C2518.4 1143.1 2524.2 1152.5 2527.7 1163.3 C2531.1 1174.1 2534.6 1186.9 2536.6 1198.7 C2538.6 1210.5 2538.0 1227.3 2539.5 1234.2 C2541.0 1241.1 2537.5 1238.1 2545.4 1240.1 C2553.3 1242.1 2575.0 1242.1 2586.8 1246.0 C2598.6 1249.9 2606.6 1257.3 2616.4 1263.7 C2626.2 1270.1 2637.0 1278.0 2645.9 1284.4 C2654.8 1290.8 2663.7 1293.8 2669.6 1302.2 C2675.5 1310.6 2678.9 1324.9 2681.4 1334.7 C2683.9 1344.5 2684.9 1354.4 2684.4 1361.3 C2683.9 1368.2 2682.4 1371.1 2678.4 1376.0 C2674.4 1380.9 2666.1 1386.3 2660.7 1390.8 C2655.3 1395.2 2651.8 1398.8 2645.9 1402.7 C2640.0 1406.7 2636.5 1411.3 2625.2 1414.5 C2613.9 1417.7 2591.7 1421.9 2577.9 1421.9 C2564.1 1421.9 2553.3 1416.7 2542.5 1414.5 C2531.7 1412.3 2521.5 1406.6 2512.9 1408.6 C2504.3 1410.6 2499.1 1423.6 2490.7 1426.3 C2482.3 1429.0 2471.3 1424.8 2462.7 1424.8 C2454.1 1424.8 2449.8 1423.6 2439.0 1426.3 C2428.2 1429.0 2409.9 1440.6 2397.6 1441.1 C2385.3 1441.6 2375.4 1433.2 2365.1 1429.3 C2354.8 1425.3 2346.4 1421.4 2335.6 1417.4 C2324.8 1413.5 2312.9 1411.0 2300.1 1405.6 C2287.3 1400.2 2268.0 1390.8 2258.7 1384.9 C2249.3 1379.0 2249.9 1373.7 2244.0 1370.2 C2238.1 1366.8 2227.8 1364.5 2223.3 1364.2 C2218.9 1364.0 2220.3 1370.7 2217.3 1368.7 C2214.3 1366.7 2211.9 1356.6 2205.5 1352.4 C2199.1 1348.2 2186.8 1347.4 2178.9 1343.5 C2171.0 1339.6 2165.6 1335.2 2158.2 1328.8 C2150.8 1322.4 2143.5 1312.5 2134.6 1305.1 C2125.7 1297.7 2115.3 1290.8 2105.0 1284.4 C2094.7 1278.0 2078.2 1271.6 2072.5 1266.7 C2066.8 1261.8 2073.0 1261.3 2071.0 1254.9 C2069.0 1248.5 2062.2 1235.2 2060.7 1228.3 C2059.2 1221.4 2060.7 1218.9 2062.2 1213.5Z" fill="#95b35a"/>
<g clip-path="url(#c9)">
<path d="M2176.0 1216.5 C2181.4 1209.1 2198.1 1193.8 2217.3 1186.9 C2236.5 1180.0 2274.4 1178.0 2291.2 1175.1 C2307.9 1172.1 2307.5 1175.6 2317.8 1169.2 C2328.2 1162.8 2343.0 1144.6 2353.3 1136.7 C2363.7 1128.8 2371.5 1134.7 2379.9 1121.9 C2388.3 1109.1 2394.1 1072.9 2403.5 1059.8 C2412.9 1046.7 2425.8 1045.5 2436.1 1043.5 C2446.4 1041.5 2458.2 1040.3 2465.6 1048.0 C2473.0 1055.7 2476.9 1072.2 2480.4 1089.4 C2483.9 1106.6 2480.9 1139.1 2486.3 1151.4 C2491.7 1163.7 2507.5 1152.5 2512.9 1163.3 C2518.3 1174.1 2514.4 1199.8 2518.8 1216.5 C2523.2 1233.2 2530.1 1248.4 2539.5 1263.7 C2548.9 1279.0 2572.1 1296.3 2575.0 1308.1 C2577.9 1319.9 2568.5 1326.3 2557.2 1334.7 C2545.9 1343.1 2518.8 1351.4 2507.0 1358.3 C2495.2 1365.2 2496.2 1370.6 2486.3 1376.0 C2476.5 1381.4 2465.6 1390.3 2447.9 1390.8 C2430.2 1391.3 2398.6 1387.4 2379.9 1379.0 C2361.2 1370.6 2347.9 1353.4 2335.6 1340.6 C2323.3 1327.8 2317.3 1310.1 2306.0 1302.2 C2294.7 1294.3 2281.4 1296.3 2267.6 1293.3 C2253.8 1290.3 2234.1 1287.9 2223.3 1284.4 C2212.5 1281.0 2209.0 1281.5 2202.6 1272.6 C2196.2 1263.7 2189.2 1240.5 2184.8 1231.2 C2180.4 1221.9 2170.6 1223.9 2176.0 1216.5Z" fill="#5fa072"/>
<path d="M2317.8 1213.5 C2326.2 1207.6 2346.4 1204.6 2365.1 1204.6 C2383.8 1204.6 2415.8 1207.6 2430.1 1213.5 C2444.4 1219.4 2448.8 1226.8 2450.8 1240.1 C2452.8 1253.4 2446.4 1280.5 2442.0 1293.3 C2437.6 1306.1 2430.6 1310.5 2424.2 1316.9 C2417.8 1323.3 2401.5 1326.8 2403.5 1331.7 C2405.5 1336.6 2422.8 1349.5 2436.1 1346.5 C2449.4 1343.5 2476.0 1315.0 2483.4 1314.0 C2490.8 1313.0 2488.8 1333.7 2480.4 1340.6 C2472.0 1347.5 2448.4 1352.5 2433.1 1355.4 C2417.8 1358.4 2398.7 1362.7 2388.8 1358.3 C2379.0 1353.9 2377.9 1339.1 2374.0 1328.8 C2370.1 1318.5 2372.0 1303.2 2365.1 1296.3 C2358.2 1289.4 2338.5 1293.3 2332.6 1287.4 C2326.7 1281.5 2332.5 1268.7 2329.6 1260.8 C2326.7 1252.9 2316.9 1248.0 2314.9 1240.1 C2312.9 1232.2 2309.4 1219.4 2317.8 1213.5Z" fill="#7db6aa"/>
<path d="M2409.5 1157.0 C2412.5 1152.5 2426.9 1139.8 2433.0 1137.0 C2439.1 1134.2 2443.2 1136.5 2446.0 1140.0 C2448.8 1143.5 2447.3 1152.7 2450.0 1158.0 C2452.7 1163.3 2463.7 1170.8 2462.0 1172.0 C2460.3 1173.2 2447.8 1166.3 2440.0 1165.0 C2432.2 1163.7 2420.1 1165.3 2415.0 1164.0 C2409.9 1162.7 2406.5 1161.5 2409.5 1157.0Z" fill="#7db6aa"/>
<ellipse cx="2446.4" cy="1107.0" rx="16.0" ry="26.6" transform="rotate(15.0 2446.4 1107.0)" fill="#7db6aa"/>
</g>
<path d="M2062.2 1213.5 C2063.7 1208.1 2065.4 1200.0 2069.6 1195.8 C2073.8 1191.6 2080.9 1189.4 2087.3 1188.4 C2093.7 1187.4 2100.6 1191.1 2108.0 1189.9 C2115.4 1188.7 2123.7 1183.2 2131.6 1181.0 C2139.5 1178.8 2149.9 1179.3 2155.3 1176.6 C2160.7 1173.9 2160.4 1167.7 2164.1 1164.7 C2167.8 1161.7 2172.0 1159.8 2177.4 1158.8 C2182.8 1157.8 2191.0 1159.0 2196.7 1158.8 C2202.4 1158.5 2201.6 1158.3 2211.4 1157.3 C2221.2 1156.3 2246.9 1152.2 2255.8 1152.9 C2264.7 1153.7 2258.7 1162.0 2264.6 1161.8 C2270.5 1161.5 2285.8 1155.1 2291.2 1151.4 C2296.6 1147.7 2291.7 1143.8 2297.1 1139.6 C2302.5 1135.4 2319.0 1130.2 2323.7 1126.3 C2328.4 1122.4 2322.7 1119.7 2325.2 1116.0 C2327.7 1112.3 2334.8 1108.0 2338.5 1104.1 C2342.2 1100.1 2342.5 1095.5 2347.4 1092.3 C2352.3 1089.1 2363.2 1087.9 2368.1 1084.9 C2373.0 1082.0 2373.6 1078.3 2377.0 1074.6 C2380.4 1070.9 2385.9 1068.7 2388.8 1062.8 C2391.8 1056.9 2392.5 1048.2 2394.7 1039.1 C2396.9 1030.0 2399.1 1014.2 2402.1 1008.1 C2405.1 1002.0 2406.2 1003.8 2412.4 1002.2 C2418.6 1000.6 2430.1 998.5 2439.0 998.3 C2447.9 998.0 2458.7 998.3 2465.6 1000.7 C2472.5 1003.1 2476.0 1006.6 2480.4 1012.5 C2484.8 1018.4 2489.2 1028.3 2492.2 1036.2 C2495.1 1044.1 2496.6 1051.4 2498.1 1059.8 C2499.6 1068.2 2498.6 1078.5 2501.1 1086.4 C2503.6 1094.3 2510.4 1099.2 2512.9 1107.1 C2515.4 1115.0 2513.4 1124.3 2515.9 1133.7 C2518.4 1143.1 2524.2 1152.5 2527.7 1163.3 C2531.1 1174.1 2534.6 1186.9 2536.6 1198.7 C2538.6 1210.5 2538.0 1227.3 2539.5 1234.2 C2541.0 1241.1 2537.5 1238.1 2545.4 1240.1 C2553.3 1242.1 2575.0 1242.1 2586.8 1246.0 C2598.6 1249.9 2606.6 1257.3 2616.4 1263.7 C2626.2 1270.1 2637.0 1278.0 2645.9 1284.4 C2654.8 1290.8 2663.7 1293.8 2669.6 1302.2 C2675.5 1310.6 2678.9 1324.9 2681.4 1334.7 C2683.9 1344.5 2684.9 1354.4 2684.4 1361.3 C2683.9 1368.2 2682.4 1371.1 2678.4 1376.0 C2674.4 1380.9 2666.1 1386.3 2660.7 1390.8 C2655.3 1395.2 2651.8 1398.8 2645.9 1402.7 C2640.0 1406.7 2636.5 1411.3 2625.2 1414.5 C2613.9 1417.7 2591.7 1421.9 2577.9 1421.9 C2564.1 1421.9 2553.3 1416.7 2542.5 1414.5 C2531.7 1412.3 2521.5 1406.6 2512.9 1408.6 C2504.3 1410.6 2499.1 1423.6 2490.7 1426.3 C2482.3 1429.0 2471.3 1424.8 2462.7 1424.8 C2454.1 1424.8 2449.8 1423.6 2439.0 1426.3 C2428.2 1429.0 2409.9 1440.6 2397.6 1441.1 C2385.3 1441.6 2375.4 1433.2 2365.1 1429.3 C2354.8 1425.3 2346.4 1421.4 2335.6 1417.4 C2324.8 1413.5 2312.9 1411.0 2300.1 1405.6 C2287.3 1400.2 2268.0 1390.8 2258.7 1384.9 C2249.3 1379.0 2249.9 1373.7 2244.0 1370.2 C2238.1 1366.8 2227.8 1364.5 2223.3 1364.2 C2218.9 1364.0 2220.3 1370.7 2217.3 1368.7 C2214.3 1366.7 2211.9 1356.6 2205.5 1352.4 C2199.1 1348.2 2186.8 1347.4 2178.9 1343.5 C2171.0 1339.6 2165.6 1335.2 2158.2 1328.8 C2150.8 1322.4 2143.5 1312.5 2134.6 1305.1 C2125.7 1297.7 2115.3 1290.8 2105.0 1284.4 C2094.7 1278.0 2078.2 1271.6 2072.5 1266.7 C2066.8 1261.8 2073.0 1261.3 2071.0 1254.9 C2069.0 1248.5 2062.2 1235.2 2060.7 1228.3 C2059.2 1221.4 2060.7 1218.9 2062.2 1213.5Z" fill="none" stroke="#000" stroke-width="2.1" stroke-linejoin="round"/>
<clipPath id="c10"><path d="M2561.4 1538.7 C2563.8 1537.2 2563.8 1537.1 2567.9 1537.4 C2572.0 1537.7 2581.0 1539.8 2586.2 1540.7 C2591.4 1541.6 2596.2 1541.1 2599.3 1542.7 C2602.4 1544.3 2603.6 1547.5 2604.5 1550.5 C2605.4 1553.5 2605.6 1558.0 2604.5 1561.0 C2603.4 1564.0 2599.5 1565.8 2598.0 1568.8 C2596.5 1571.8 2596.3 1575.6 2595.4 1579.3 C2594.5 1583.0 2593.5 1585.6 2592.8 1591.0 C2592.2 1596.4 2591.7 1604.9 2591.5 1611.9 C2591.3 1618.9 2592.2 1627.3 2591.5 1632.8 C2590.8 1638.2 2589.2 1640.9 2587.5 1644.6 C2585.8 1648.3 2583.8 1650.9 2581.0 1655.0 C2578.2 1659.1 2574.9 1666.8 2570.6 1669.4 C2566.2 1672.0 2560.1 1671.1 2554.9 1670.7 C2549.7 1670.3 2543.3 1669.0 2539.2 1666.8 C2535.1 1664.6 2532.1 1661.5 2530.1 1657.6 C2528.1 1653.7 2527.2 1647.9 2527.4 1643.3 C2527.6 1638.7 2529.9 1635.0 2531.4 1630.2 C2532.9 1625.4 2535.5 1619.3 2536.6 1614.5 C2537.7 1609.7 2537.5 1605.8 2537.9 1601.5 C2538.3 1597.2 2538.3 1591.9 2539.2 1588.4 C2540.1 1584.9 2541.6 1583.6 2543.1 1580.6 C2544.6 1577.5 2547.0 1573.1 2548.3 1570.1 C2549.6 1567.0 2550.1 1566.2 2551.0 1562.3 C2551.9 1558.4 2551.9 1550.5 2553.6 1546.6 C2555.3 1542.7 2559.0 1540.2 2561.4 1538.7Z"/></clipPath>
<path d="M2561.4 1538.7 C2563.8 1537.2 2563.8 1537.1 2567.9 1537.4 C2572.0 1537.7 2581.0 1539.8 2586.2 1540.7 C2591.4 1541.6 2596.2 1541.1 2599.3 1542.7 C2602.4 1544.3 2603.6 1547.5 2604.5 1550.5 C2605.4 1553.5 2605.6 1558.0 2604.5 1561.0 C2603.4 1564.0 2599.5 1565.8 2598.0 1568.8 C2596.5 1571.8 2596.3 1575.6 2595.4 1579.3 C2594.5 1583.0 2593.5 1585.6 2592.8 1591.0 C2592.2 1596.4 2591.7 1604.9 2591.5 1611.9 C2591.3 1618.9 2592.2 1627.3 2591.5 1632.8 C2590.8 1638.2 2589.2 1640.9 2587.5 1644.6 C2585.8 1648.3 2583.8 1650.9 2581.0 1655.0 C2578.2 1659.1 2574.9 1666.8 2570.6 1669.4 C2566.2 1672.0 2560.1 1671.1 2554.9 1670.7 C2549.7 1670.3 2543.3 1669.0 2539.2 1666.8 C2535.1 1664.6 2532.1 1661.5 2530.1 1657.6 C2528.1 1653.7 2527.2 1647.9 2527.4 1643.3 C2527.6 1638.7 2529.9 1635.0 2531.4 1630.2 C2532.9 1625.4 2535.5 1619.3 2536.6 1614.5 C2537.7 1609.7 2537.5 1605.8 2537.9 1601.5 C2538.3 1597.2 2538.3 1591.9 2539.2 1588.4 C2540.1 1584.9 2541.6 1583.6 2543.1 1580.6 C2544.6 1577.5 2547.0 1573.1 2548.3 1570.1 C2549.6 1567.0 2550.1 1566.2 2551.0 1562.3 C2551.9 1558.4 2551.9 1550.5 2553.6 1546.6 C2555.3 1542.7 2559.0 1540.2 2561.4 1538.7Z" fill="#95b35a"/>
<g clip-path="url(#c10)">
<path d="M2577.1 1545.3 C2581.5 1543.8 2586.3 1546.0 2590.2 1547.9 C2594.1 1549.9 2601.7 1555.0 2600.6 1557.0 C2599.5 1559.0 2585.1 1556.7 2583.6 1559.7 C2582.1 1562.8 2592.4 1570.7 2591.5 1575.3 C2590.6 1579.9 2579.3 1580.1 2578.4 1587.1 C2577.5 1594.1 2584.9 1607.9 2586.2 1617.1 C2587.5 1626.2 2587.7 1635.9 2586.2 1642.0 C2584.7 1648.1 2581.4 1652.4 2577.1 1653.7 C2572.8 1655.0 2565.1 1651.5 2560.1 1649.8 C2555.1 1648.1 2547.7 1645.7 2547.0 1643.3 C2546.3 1640.9 2552.7 1637.6 2556.2 1635.4 C2559.7 1633.2 2567.0 1631.9 2567.9 1630.2 C2568.8 1628.5 2561.6 1628.0 2561.4 1625.0 C2561.2 1622.0 2567.7 1617.1 2566.6 1611.9 C2565.5 1606.7 2555.8 1600.1 2554.9 1593.6 C2554.0 1587.1 2559.9 1578.8 2561.4 1572.7 C2562.9 1566.6 2561.4 1561.6 2564.0 1557.0 C2566.6 1552.4 2572.7 1546.8 2577.1 1545.3Z" fill="#5fa072"/>
</g>
<path d="M2561.4 1538.7 C2563.8 1537.2 2563.8 1537.1 2567.9 1537.4 C2572.0 1537.7 2581.0 1539.8 2586.2 1540.7 C2591.4 1541.6 2596.2 1541.1 2599.3 1542.7 C2602.4 1544.3 2603.6 1547.5 2604.5 1550.5 C2605.4 1553.5 2605.6 1558.0 2604.5 1561.0 C2603.4 1564.0 2599.5 1565.8 2598.0 1568.8 C2596.5 1571.8 2596.3 1575.6 2595.4 1579.3 C2594.5 1583.0 2593.5 1585.6 2592.8 1591.0 C2592.2 1596.4 2591.7 1604.9 2591.5 1611.9 C2591.3 1618.9 2592.2 1627.3 2591.5 1632.8 C2590.8 1638.2 2589.2 1640.9 2587.5 1644.6 C2585.8 1648.3 2583.8 1650.9 2581.0 1655.0 C2578.2 1659.1 2574.9 1666.8 2570.6 1669.4 C2566.2 1672.0 2560.1 1671.1 2554.9 1670.7 C2549.7 1670.3 2543.3 1669.0 2539.2 1666.8 C2535.1 1664.6 2532.1 1661.5 2530.1 1657.6 C2528.1 1653.7 2527.2 1647.9 2527.4 1643.3 C2527.6 1638.7 2529.9 1635.0 2531.4 1630.2 C2532.9 1625.4 2535.5 1619.3 2536.6 1614.5 C2537.7 1609.7 2537.5 1605.8 2537.9 1601.5 C2538.3 1597.2 2538.3 1591.9 2539.2 1588.4 C2540.1 1584.9 2541.6 1583.6 2543.1 1580.6 C2544.6 1577.5 2547.0 1573.1 2548.3 1570.1 C2549.6 1567.0 2550.1 1566.2 2551.0 1562.3 C2551.9 1558.4 2551.9 1550.5 2553.6 1546.6 C2555.3 1542.7 2559.0 1540.2 2561.4 1538.7Z" fill="none" stroke="#000" stroke-width="2.1" stroke-linejoin="round"/>
<clipPath id="c11"><path d="M2682.9 1636.7 C2686.8 1633.2 2693.4 1629.5 2699.9 1627.6 C2706.4 1625.6 2714.7 1625.2 2722.1 1625.0 C2729.5 1624.8 2738.9 1624.6 2744.3 1626.3 C2749.8 1628.0 2751.1 1630.2 2754.8 1635.4 C2758.5 1640.6 2764.2 1651.9 2766.6 1657.6 C2769.0 1663.3 2768.1 1665.9 2769.2 1669.4 C2770.3 1672.9 2772.4 1674.2 2773.1 1678.6 C2773.8 1682.9 2774.6 1691.8 2773.1 1695.5 C2771.6 1699.2 2767.6 1698.6 2763.9 1700.8 C2760.2 1703.0 2756.1 1707.3 2750.9 1708.6 C2745.7 1709.9 2738.5 1709.2 2732.6 1708.6 C2726.7 1707.9 2721.3 1706.9 2715.6 1704.7 C2709.9 1702.5 2703.6 1699.8 2698.6 1695.5 C2693.6 1691.2 2689.0 1683.8 2685.5 1678.6 C2682.0 1673.4 2679.2 1669.2 2677.7 1664.2 C2676.2 1659.2 2675.5 1653.1 2676.4 1648.5 C2677.3 1643.9 2679.0 1640.2 2682.9 1636.7Z"/></clipPath>
<path d="M2682.9 1636.7 C2686.8 1633.2 2693.4 1629.5 2699.9 1627.6 C2706.4 1625.6 2714.7 1625.2 2722.1 1625.0 C2729.5 1624.8 2738.9 1624.6 2744.3 1626.3 C2749.8 1628.0 2751.1 1630.2 2754.8 1635.4 C2758.5 1640.6 2764.2 1651.9 2766.6 1657.6 C2769.0 1663.3 2768.1 1665.9 2769.2 1669.4 C2770.3 1672.9 2772.4 1674.2 2773.1 1678.6 C2773.8 1682.9 2774.6 1691.8 2773.1 1695.5 C2771.6 1699.2 2767.6 1698.6 2763.9 1700.8 C2760.2 1703.0 2756.1 1707.3 2750.9 1708.6 C2745.7 1709.9 2738.5 1709.2 2732.6 1708.6 C2726.7 1707.9 2721.3 1706.9 2715.6 1704.7 C2709.9 1702.5 2703.6 1699.8 2698.6 1695.5 C2693.6 1691.2 2689.0 1683.8 2685.5 1678.6 C2682.0 1673.4 2679.2 1669.2 2677.7 1664.2 C2676.2 1659.2 2675.5 1653.1 2676.4 1648.5 C2677.3 1643.9 2679.0 1640.2 2682.9 1636.7Z" fill="#95b35a"/>
<g clip-path="url(#c11)">
<ellipse cx="2728.0" cy="1668.0" rx="34.6" ry="35.3" transform="rotate(0.0 2728.0 1668.0)" fill="#5fa072"/>
<ellipse cx="2729.3" cy="1663.6" rx="20.3" ry="19.0" transform="rotate(0.0 2729.3 1663.6)" fill="#7db6aa"/>
</g>
<path d="M2682.9 1636.7 C2686.8 1633.2 2693.4 1629.5 2699.9 1627.6 C2706.4 1625.6 2714.7 1625.2 2722.1 1625.0 C2729.5 1624.8 2738.9 1624.6 2744.3 1626.3 C2749.8 1628.0 2751.1 1630.2 2754.8 1635.4 C2758.5 1640.6 2764.2 1651.9 2766.6 1657.6 C2769.0 1663.3 2768.1 1665.9 2769.2 1669.4 C2770.3 1672.9 2772.4 1674.2 2773.1 1678.6 C2773.8 1682.9 2774.6 1691.8 2773.1 1695.5 C2771.6 1699.2 2767.6 1698.6 2763.9 1700.8 C2760.2 1703.0 2756.1 1707.3 2750.9 1708.6 C2745.7 1709.9 2738.5 1709.2 2732.6 1708.6 C2726.7 1707.9 2721.3 1706.9 2715.6 1704.7 C2709.9 1702.5 2703.6 1699.8 2698.6 1695.5 C2693.6 1691.2 2689.0 1683.8 2685.5 1678.6 C2682.0 1673.4 2679.2 1669.2 2677.7 1664.2 C2676.2 1659.2 2675.5 1653.1 2676.4 1648.5 C2677.3 1643.9 2679.0 1640.2 2682.9 1636.7Z" fill="none" stroke="#000" stroke-width="2.1" stroke-linejoin="round"/>
<circle cx="2730.7" cy="1664" r="8.5" fill="#c4d6df"/>
<clipPath id="c12"><path d="M2435.0 1769.6 C2438.4 1764.9 2459.9 1770.1 2467.5 1768.1 C2475.1 1766.1 2475.9 1758.9 2480.8 1757.7 C2485.7 1756.5 2492.7 1757.2 2497.1 1760.7 C2501.5 1764.2 2503.9 1774.5 2507.4 1778.4 C2510.9 1782.3 2514.6 1780.8 2517.8 1784.3 C2521.0 1787.8 2526.4 1794.2 2526.6 1799.1 C2526.8 1804.0 2516.7 1808.5 2519.2 1813.9 C2521.7 1819.3 2536.7 1823.7 2541.4 1831.6 C2546.1 1839.5 2545.8 1853.8 2547.3 1861.2 C2548.8 1868.6 2547.3 1872.5 2550.3 1875.9 C2553.3 1879.4 2562.4 1878.0 2565.1 1881.9 C2567.8 1885.9 2566.8 1892.7 2566.5 1899.6 C2566.2 1906.5 2561.9 1915.8 2563.6 1923.2 C2565.3 1930.6 2571.7 1938.2 2576.9 1943.9 C2582.1 1949.6 2588.2 1956.2 2594.6 1957.2 C2601.0 1958.2 2609.9 1952.0 2615.3 1949.8 C2620.7 1947.6 2622.2 1945.4 2627.1 1943.9 C2632.0 1942.4 2637.0 1941.0 2644.9 1941.0 C2652.8 1941.0 2666.0 1940.0 2674.4 1943.9 C2682.8 1947.8 2690.2 1955.2 2695.1 1964.6 C2700.0 1974.0 2700.1 1990.2 2704.0 2000.1 C2707.9 2009.9 2714.3 2017.3 2718.7 2023.7 C2723.1 2030.1 2725.7 2036.8 2730.6 2038.5 C2735.5 2040.2 2744.4 2032.6 2748.3 2034.1 C2752.2 2035.6 2753.7 2042.2 2754.2 2047.4 C2754.7 2052.6 2749.3 2059.2 2751.3 2065.1 C2753.3 2071.0 2759.6 2077.4 2766.0 2082.8 C2772.4 2088.2 2781.3 2094.6 2789.7 2097.6 C2798.1 2100.6 2808.4 2099.1 2816.3 2100.6 C2824.2 2102.1 2830.6 2107.5 2837.0 2106.5 C2843.4 2105.5 2847.8 2099.5 2854.7 2094.6 C2861.6 2089.7 2870.4 2079.3 2878.3 2076.9 C2886.2 2074.5 2894.6 2077.0 2902.0 2079.9 C2909.4 2082.8 2916.3 2087.7 2922.7 2094.6 C2929.1 2101.5 2934.0 2114.8 2940.4 2121.2 C2946.8 2127.6 2961.6 2130.6 2961.1 2133.1 C2960.6 2135.6 2941.8 2131.6 2937.4 2136.0 C2933.0 2140.4 2933.0 2151.8 2934.5 2159.7 C2936.0 2167.6 2944.8 2175.4 2946.3 2183.3 C2947.8 2191.2 2947.3 2203.6 2943.4 2207.0 C2939.5 2210.4 2929.6 2206.5 2922.7 2204.0 C2915.8 2201.5 2910.4 2197.1 2902.0 2192.2 C2893.6 2187.3 2882.8 2178.8 2872.4 2174.4 C2862.1 2170.0 2849.8 2168.6 2839.9 2165.6 C2830.1 2162.6 2819.7 2160.6 2813.3 2156.7 C2806.9 2152.8 2804.9 2145.8 2801.5 2141.9 C2798.1 2138.0 2798.0 2135.1 2792.6 2133.1 C2787.2 2131.1 2774.9 2132.6 2769.0 2130.1 C2763.1 2127.6 2761.6 2121.2 2757.2 2118.3 C2752.8 2115.4 2749.3 2112.9 2742.4 2112.4 C2735.5 2111.9 2725.7 2114.8 2715.8 2115.3 C2706.0 2115.8 2692.7 2113.8 2683.3 2115.3 C2673.9 2116.8 2667.5 2120.2 2659.6 2124.2 C2651.7 2128.1 2641.9 2135.1 2636.0 2139.0 C2630.1 2142.9 2628.6 2144.4 2624.2 2147.8 C2619.8 2151.2 2611.9 2155.8 2609.4 2159.7 C2606.9 2163.6 2610.9 2169.1 2609.4 2171.5 C2607.9 2173.9 2603.9 2174.4 2600.5 2174.4 C2597.1 2174.4 2595.1 2171.5 2588.7 2171.5 C2582.3 2171.5 2568.0 2176.4 2562.1 2174.4 C2556.2 2172.4 2561.6 2163.1 2553.2 2159.7 C2544.8 2156.3 2523.7 2155.8 2511.9 2153.8 C2500.1 2151.8 2489.2 2150.8 2482.3 2147.8 C2475.4 2144.8 2473.0 2140.9 2470.5 2136.0 C2468.0 2131.1 2472.4 2123.2 2467.5 2118.3 C2462.6 2113.4 2445.8 2112.9 2440.9 2106.5 C2436.0 2100.1 2439.5 2085.8 2438.0 2079.9 C2436.5 2074.0 2433.1 2079.4 2432.1 2071.0 C2431.1 2062.6 2433.1 2037.5 2432.1 2029.6 C2431.1 2021.7 2427.2 2026.2 2426.2 2023.7 C2425.2 2021.2 2429.2 2018.4 2426.2 2014.9 C2423.2 2011.5 2413.8 2009.9 2408.4 2003.0 C2403.0 1996.1 2398.0 1980.9 2393.6 1973.5 C2389.2 1966.1 2383.3 1962.2 2381.8 1958.7 C2380.3 1955.2 2382.3 1954.8 2384.8 1952.8 C2387.3 1950.8 2394.1 1954.3 2396.6 1946.9 C2399.1 1939.5 2398.1 1919.8 2399.6 1908.5 C2401.1 1897.2 2401.1 1886.8 2405.5 1878.9 C2409.9 1871.0 2421.3 1866.1 2426.2 1861.2 C2431.1 1856.3 2432.1 1853.4 2435.0 1849.4 C2437.9 1845.5 2441.9 1843.4 2443.9 1837.5 C2445.9 1831.6 2444.6 1818.8 2446.8 1813.9 C2449.0 1809.0 2457.2 1811.0 2457.2 1808.0 C2457.2 1805.0 2450.5 1802.6 2446.8 1796.2 C2443.1 1789.8 2431.6 1774.3 2435.0 1769.6Z"/></clipPath>
<path d="M2435.0 1769.6 C2438.4 1764.9 2459.9 1770.1 2467.5 1768.1 C2475.1 1766.1 2475.9 1758.9 2480.8 1757.7 C2485.7 1756.5 2492.7 1757.2 2497.1 1760.7 C2501.5 1764.2 2503.9 1774.5 2507.4 1778.4 C2510.9 1782.3 2514.6 1780.8 2517.8 1784.3 C2521.0 1787.8 2526.4 1794.2 2526.6 1799.1 C2526.8 1804.0 2516.7 1808.5 2519.2 1813.9 C2521.7 1819.3 2536.7 1823.7 2541.4 1831.6 C2546.1 1839.5 2545.8 1853.8 2547.3 1861.2 C2548.8 1868.6 2547.3 1872.5 2550.3 1875.9 C2553.3 1879.4 2562.4 1878.0 2565.1 1881.9 C2567.8 1885.9 2566.8 1892.7 2566.5 1899.6 C2566.2 1906.5 2561.9 1915.8 2563.6 1923.2 C2565.3 1930.6 2571.7 1938.2 2576.9 1943.9 C2582.1 1949.6 2588.2 1956.2 2594.6 1957.2 C2601.0 1958.2 2609.9 1952.0 2615.3 1949.8 C2620.7 1947.6 2622.2 1945.4 2627.1 1943.9 C2632.0 1942.4 2637.0 1941.0 2644.9 1941.0 C2652.8 1941.0 2666.0 1940.0 2674.4 1943.9 C2682.8 1947.8 2690.2 1955.2 2695.1 1964.6 C2700.0 1974.0 2700.1 1990.2 2704.0 2000.1 C2707.9 2009.9 2714.3 2017.3 2718.7 2023.7 C2723.1 2030.1 2725.7 2036.8 2730.6 2038.5 C2735.5 2040.2 2744.4 2032.6 2748.3 2034.1 C2752.2 2035.6 2753.7 2042.2 2754.2 2047.4 C2754.7 2052.6 2749.3 2059.2 2751.3 2065.1 C2753.3 2071.0 2759.6 2077.4 2766.0 2082.8 C2772.4 2088.2 2781.3 2094.6 2789.7 2097.6 C2798.1 2100.6 2808.4 2099.1 2816.3 2100.6 C2824.2 2102.1 2830.6 2107.5 2837.0 2106.5 C2843.4 2105.5 2847.8 2099.5 2854.7 2094.6 C2861.6 2089.7 2870.4 2079.3 2878.3 2076.9 C2886.2 2074.5 2894.6 2077.0 2902.0 2079.9 C2909.4 2082.8 2916.3 2087.7 2922.7 2094.6 C2929.1 2101.5 2934.0 2114.8 2940.4 2121.2 C2946.8 2127.6 2961.6 2130.6 2961.1 2133.1 C2960.6 2135.6 2941.8 2131.6 2937.4 2136.0 C2933.0 2140.4 2933.0 2151.8 2934.5 2159.7 C2936.0 2167.6 2944.8 2175.4 2946.3 2183.3 C2947.8 2191.2 2947.3 2203.6 2943.4 2207.0 C2939.5 2210.4 2929.6 2206.5 2922.7 2204.0 C2915.8 2201.5 2910.4 2197.1 2902.0 2192.2 C2893.6 2187.3 2882.8 2178.8 2872.4 2174.4 C2862.1 2170.0 2849.8 2168.6 2839.9 2165.6 C2830.1 2162.6 2819.7 2160.6 2813.3 2156.7 C2806.9 2152.8 2804.9 2145.8 2801.5 2141.9 C2798.1 2138.0 2798.0 2135.1 2792.6 2133.1 C2787.2 2131.1 2774.9 2132.6 2769.0 2130.1 C2763.1 2127.6 2761.6 2121.2 2757.2 2118.3 C2752.8 2115.4 2749.3 2112.9 2742.4 2112.4 C2735.5 2111.9 2725.7 2114.8 2715.8 2115.3 C2706.0 2115.8 2692.7 2113.8 2683.3 2115.3 C2673.9 2116.8 2667.5 2120.2 2659.6 2124.2 C2651.7 2128.1 2641.9 2135.1 2636.0 2139.0 C2630.1 2142.9 2628.6 2144.4 2624.2 2147.8 C2619.8 2151.2 2611.9 2155.8 2609.4 2159.7 C2606.9 2163.6 2610.9 2169.1 2609.4 2171.5 C2607.9 2173.9 2603.9 2174.4 2600.5 2174.4 C2597.1 2174.4 2595.1 2171.5 2588.7 2171.5 C2582.3 2171.5 2568.0 2176.4 2562.1 2174.4 C2556.2 2172.4 2561.6 2163.1 2553.2 2159.7 C2544.8 2156.3 2523.7 2155.8 2511.9 2153.8 C2500.1 2151.8 2489.2 2150.8 2482.3 2147.8 C2475.4 2144.8 2473.0 2140.9 2470.5 2136.0 C2468.0 2131.1 2472.4 2123.2 2467.5 2118.3 C2462.6 2113.4 2445.8 2112.9 2440.9 2106.5 C2436.0 2100.1 2439.5 2085.8 2438.0 2079.9 C2436.5 2074.0 2433.1 2079.4 2432.1 2071.0 C2431.1 2062.6 2433.1 2037.5 2432.1 2029.6 C2431.1 2021.7 2427.2 2026.2 2426.2 2023.7 C2425.2 2021.2 2429.2 2018.4 2426.2 2014.9 C2423.2 2011.5 2413.8 2009.9 2408.4 2003.0 C2403.0 1996.1 2398.0 1980.9 2393.6 1973.5 C2389.2 1966.1 2383.3 1962.2 2381.8 1958.7 C2380.3 1955.2 2382.3 1954.8 2384.8 1952.8 C2387.3 1950.8 2394.1 1954.3 2396.6 1946.9 C2399.1 1939.5 2398.1 1919.8 2399.6 1908.5 C2401.1 1897.2 2401.1 1886.8 2405.5 1878.9 C2409.9 1871.0 2421.3 1866.1 2426.2 1861.2 C2431.1 1856.3 2432.1 1853.4 2435.0 1849.4 C2437.9 1845.5 2441.9 1843.4 2443.9 1837.5 C2445.9 1831.6 2444.6 1818.8 2446.8 1813.9 C2449.0 1809.0 2457.2 1811.0 2457.2 1808.0 C2457.2 1805.0 2450.5 1802.6 2446.8 1796.2 C2443.1 1789.8 2431.6 1774.3 2435.0 1769.6Z" fill="#95b35a"/>
<g clip-path="url(#c12)">
<path d="M2473.4 1819.8 C2485.2 1818.8 2529.6 1822.2 2541.4 1831.6 C2553.2 1841.0 2544.4 1864.2 2544.4 1876.0 C2544.4 1887.8 2539.0 1893.7 2541.4 1902.5 C2543.8 1911.3 2553.7 1919.7 2559.1 1929.1 C2564.5 1938.5 2571.4 1951.3 2573.9 1958.7 C2576.4 1966.1 2576.4 1970.5 2573.9 1973.5 C2571.4 1976.5 2558.6 1969.5 2559.1 1976.4 C2559.6 1983.3 2572.5 2002.6 2576.9 2014.9 C2581.3 2027.2 2585.7 2039.0 2585.7 2050.3 C2585.7 2061.6 2580.8 2072.5 2576.9 2082.8 C2573.0 2093.2 2569.0 2103.0 2562.1 2112.4 C2555.2 2121.8 2544.4 2137.0 2535.5 2139.0 C2526.6 2141.0 2517.3 2133.1 2508.9 2124.2 C2500.5 2115.3 2490.7 2093.7 2485.3 2085.8 C2479.9 2077.9 2480.4 2081.3 2476.4 2076.9 C2472.4 2072.5 2464.6 2068.5 2461.6 2059.2 C2458.6 2049.8 2462.1 2034.6 2458.7 2020.8 C2455.2 2007.0 2445.8 1985.3 2440.9 1976.4 C2436.0 1967.5 2431.6 1974.5 2429.1 1967.6 C2426.6 1960.7 2426.7 1943.5 2426.2 1935.1 C2425.7 1926.7 2422.8 1922.2 2426.2 1917.3 C2429.6 1912.4 2444.4 1912.4 2446.8 1905.5 C2449.2 1898.6 2437.9 1881.9 2440.9 1876.0 C2443.9 1870.1 2461.2 1874.0 2464.6 1870.0 C2468.0 1866.0 2460.6 1857.7 2461.6 1852.3 C2462.6 1846.9 2468.5 1842.9 2470.5 1837.5 C2472.5 1832.1 2461.6 1820.8 2473.4 1819.8Z" fill="#5fa072"/>
<path d="M2579.8 2014.9 C2584.2 2001.6 2605.9 1985.8 2615.3 1976.4 C2624.7 1967.0 2626.2 1962.2 2636.0 1958.7 C2645.8 1955.2 2664.6 1952.8 2674.4 1955.7 C2684.2 1958.7 2688.7 1968.0 2695.1 1976.4 C2701.5 1984.8 2707.4 1996.2 2712.8 2006.0 C2718.2 2015.8 2727.6 2023.7 2727.6 2035.5 C2727.6 2047.3 2718.7 2068.5 2712.8 2076.9 C2706.9 2085.3 2703.0 2085.3 2692.2 2085.8 C2681.4 2086.3 2657.2 2078.9 2647.8 2079.9 C2638.4 2080.9 2641.4 2093.7 2636.0 2091.7 C2630.6 2089.7 2621.2 2074.9 2615.3 2068.0 C2609.4 2061.1 2604.9 2052.3 2600.5 2050.3 C2596.1 2048.3 2592.1 2062.1 2588.7 2056.2 C2585.2 2050.3 2575.4 2028.2 2579.8 2014.9Z" fill="#5fa072"/>
<path d="M2831.0 2130.1 C2832.0 2122.7 2847.8 2118.3 2854.7 2109.4 C2861.6 2100.5 2864.5 2081.3 2872.4 2076.9 C2880.3 2072.5 2894.1 2077.9 2902.0 2082.8 C2909.9 2087.7 2914.8 2098.1 2919.7 2106.5 C2924.6 2114.9 2929.5 2125.2 2931.5 2133.1 C2933.5 2141.0 2934.9 2146.4 2931.5 2153.8 C2928.1 2161.2 2917.7 2172.0 2910.8 2177.4 C2903.9 2182.8 2897.6 2188.8 2890.2 2186.3 C2882.8 2183.8 2873.4 2168.0 2866.5 2162.6 C2859.6 2157.2 2854.7 2159.2 2848.8 2153.8 C2842.9 2148.4 2830.0 2137.5 2831.0 2130.1Z" fill="#5fa072"/>
<ellipse cx="2648.0" cy="2022.0" rx="11.0" ry="9.0" transform="rotate(10.0 2648.0 2022.0)" fill="#7db6aa"/>
</g>
<path d="M2435.0 1769.6 C2438.4 1764.9 2459.9 1770.1 2467.5 1768.1 C2475.1 1766.1 2475.9 1758.9 2480.8 1757.7 C2485.7 1756.5 2492.7 1757.2 2497.1 1760.7 C2501.5 1764.2 2503.9 1774.5 2507.4 1778.4 C2510.9 1782.3 2514.6 1780.8 2517.8 1784.3 C2521.0 1787.8 2526.4 1794.2 2526.6 1799.1 C2526.8 1804.0 2516.7 1808.5 2519.2 1813.9 C2521.7 1819.3 2536.7 1823.7 2541.4 1831.6 C2546.1 1839.5 2545.8 1853.8 2547.3 1861.2 C2548.8 1868.6 2547.3 1872.5 2550.3 1875.9 C2553.3 1879.4 2562.4 1878.0 2565.1 1881.9 C2567.8 1885.9 2566.8 1892.7 2566.5 1899.6 C2566.2 1906.5 2561.9 1915.8 2563.6 1923.2 C2565.3 1930.6 2571.7 1938.2 2576.9 1943.9 C2582.1 1949.6 2588.2 1956.2 2594.6 1957.2 C2601.0 1958.2 2609.9 1952.0 2615.3 1949.8 C2620.7 1947.6 2622.2 1945.4 2627.1 1943.9 C2632.0 1942.4 2637.0 1941.0 2644.9 1941.0 C2652.8 1941.0 2666.0 1940.0 2674.4 1943.9 C2682.8 1947.8 2690.2 1955.2 2695.1 1964.6 C2700.0 1974.0 2700.1 1990.2 2704.0 2000.1 C2707.9 2009.9 2714.3 2017.3 2718.7 2023.7 C2723.1 2030.1 2725.7 2036.8 2730.6 2038.5 C2735.5 2040.2 2744.4 2032.6 2748.3 2034.1 C2752.2 2035.6 2753.7 2042.2 2754.2 2047.4 C2754.7 2052.6 2749.3 2059.2 2751.3 2065.1 C2753.3 2071.0 2759.6 2077.4 2766.0 2082.8 C2772.4 2088.2 2781.3 2094.6 2789.7 2097.6 C2798.1 2100.6 2808.4 2099.1 2816.3 2100.6 C2824.2 2102.1 2830.6 2107.5 2837.0 2106.5 C2843.4 2105.5 2847.8 2099.5 2854.7 2094.6 C2861.6 2089.7 2870.4 2079.3 2878.3 2076.9 C2886.2 2074.5 2894.6 2077.0 2902.0 2079.9 C2909.4 2082.8 2916.3 2087.7 2922.7 2094.6 C2929.1 2101.5 2934.0 2114.8 2940.4 2121.2 C2946.8 2127.6 2961.6 2130.6 2961.1 2133.1 C2960.6 2135.6 2941.8 2131.6 2937.4 2136.0 C2933.0 2140.4 2933.0 2151.8 2934.5 2159.7 C2936.0 2167.6 2944.8 2175.4 2946.3 2183.3 C2947.8 2191.2 2947.3 2203.6 2943.4 2207.0 C2939.5 2210.4 2929.6 2206.5 2922.7 2204.0 C2915.8 2201.5 2910.4 2197.1 2902.0 2192.2 C2893.6 2187.3 2882.8 2178.8 2872.4 2174.4 C2862.1 2170.0 2849.8 2168.6 2839.9 2165.6 C2830.1 2162.6 2819.7 2160.6 2813.3 2156.7 C2806.9 2152.8 2804.9 2145.8 2801.5 2141.9 C2798.1 2138.0 2798.0 2135.1 2792.6 2133.1 C2787.2 2131.1 2774.9 2132.6 2769.0 2130.1 C2763.1 2127.6 2761.6 2121.2 2757.2 2118.3 C2752.8 2115.4 2749.3 2112.9 2742.4 2112.4 C2735.5 2111.9 2725.7 2114.8 2715.8 2115.3 C2706.0 2115.8 2692.7 2113.8 2683.3 2115.3 C2673.9 2116.8 2667.5 2120.2 2659.6 2124.2 C2651.7 2128.1 2641.9 2135.1 2636.0 2139.0 C2630.1 2142.9 2628.6 2144.4 2624.2 2147.8 C2619.8 2151.2 2611.9 2155.8 2609.4 2159.7 C2606.9 2163.6 2610.9 2169.1 2609.4 2171.5 C2607.9 2173.9 2603.9 2174.4 2600.5 2174.4 C2597.1 2174.4 2595.1 2171.5 2588.7 2171.5 C2582.3 2171.5 2568.0 2176.4 2562.1 2174.4 C2556.2 2172.4 2561.6 2163.1 2553.2 2159.7 C2544.8 2156.3 2523.7 2155.8 2511.9 2153.8 C2500.1 2151.8 2489.2 2150.8 2482.3 2147.8 C2475.4 2144.8 2473.0 2140.9 2470.5 2136.0 C2468.0 2131.1 2472.4 2123.2 2467.5 2118.3 C2462.6 2113.4 2445.8 2112.9 2440.9 2106.5 C2436.0 2100.1 2439.5 2085.8 2438.0 2079.9 C2436.5 2074.0 2433.1 2079.4 2432.1 2071.0 C2431.1 2062.6 2433.1 2037.5 2432.1 2029.6 C2431.1 2021.7 2427.2 2026.2 2426.2 2023.7 C2425.2 2021.2 2429.2 2018.4 2426.2 2014.9 C2423.2 2011.5 2413.8 2009.9 2408.4 2003.0 C2403.0 1996.1 2398.0 1980.9 2393.6 1973.5 C2389.2 1966.1 2383.3 1962.2 2381.8 1958.7 C2380.3 1955.2 2382.3 1954.8 2384.8 1952.8 C2387.3 1950.8 2394.1 1954.3 2396.6 1946.9 C2399.1 1939.5 2398.1 1919.8 2399.6 1908.5 C2401.1 1897.2 2401.1 1886.8 2405.5 1878.9 C2409.9 1871.0 2421.3 1866.1 2426.2 1861.2 C2431.1 1856.3 2432.1 1853.4 2435.0 1849.4 C2437.9 1845.5 2441.9 1843.4 2443.9 1837.5 C2445.9 1831.6 2444.6 1818.8 2446.8 1813.9 C2449.0 1809.0 2457.2 1811.0 2457.2 1808.0 C2457.2 1805.0 2450.5 1802.6 2446.8 1796.2 C2443.1 1789.8 2431.6 1774.3 2435.0 1769.6Z" fill="none" stroke="#000" stroke-width="2.1" stroke-linejoin="round"/>
<ellipse cx="2406.5" cy="1790.0" rx="8.0" ry="6.5" transform="rotate(-15.0 2406.5 1790.0)" fill="#95b35a" stroke="#000" stroke-width="2.0"/>
<ellipse cx="2757.8" cy="2193.5" rx="5.0" ry="7.5" transform="rotate(15.0 2757.8 2193.5)" fill="#95b35a" stroke="#000" stroke-width="2.0"/>
<ellipse cx="2939.0" cy="2204.0" rx="5.0" ry="6.0" transform="rotate(0.0 2939.0 2204.0)" fill="#95b35a" stroke="#000" stroke-width="2.0"/>
<clipPath id="c13"><path d="M3070.9 2242.0 C3075.1 2240.7 3079.0 2244.2 3082.7 2245.7 C3086.4 2247.2 3089.3 2248.9 3093.0 2250.9 C3096.7 2252.9 3100.7 2256.3 3104.9 2257.5 C3109.1 2258.7 3115.5 2256.7 3118.2 2258.3 C3120.9 2259.9 3119.6 2263.9 3121.1 2267.1 C3122.6 2270.3 3126.8 2274.1 3127.0 2277.5 C3127.2 2280.9 3123.3 2284.4 3122.6 2287.8 C3121.9 2291.2 3124.6 2295.0 3122.6 2298.2 C3120.6 2301.4 3113.5 2303.8 3110.8 2307.0 C3108.1 2310.2 3108.8 2314.4 3106.3 2317.4 C3103.8 2320.4 3098.9 2321.6 3096.0 2324.8 C3093.1 2328.0 3090.8 2332.9 3088.6 2336.6 C3086.4 2340.3 3085.2 2344.8 3082.7 2347.0 C3080.2 2349.2 3078.0 2348.2 3073.8 2349.9 C3069.6 2351.6 3062.3 2355.3 3057.6 2357.3 C3052.9 2359.3 3049.6 2361.2 3045.7 2361.7 C3041.8 2362.2 3037.8 2361.0 3033.9 2360.3 C3030.0 2359.6 3024.6 2360.8 3022.1 2357.3 C3019.6 2353.9 3019.6 2348.7 3019.1 2339.6 C3018.6 2330.5 3018.1 2313.9 3019.1 2302.6 C3020.1 2291.3 3023.0 2277.4 3025.0 2271.6 C3027.0 2265.8 3026.6 2269.0 3031.0 2267.9 C3035.4 2266.8 3047.2 2267.2 3051.6 2264.9 C3056.0 2262.6 3054.4 2257.6 3057.6 2253.8 C3060.8 2250.0 3066.7 2243.3 3070.9 2242.0Z"/></clipPath>
<path d="M3070.9 2242.0 C3075.1 2240.7 3079.0 2244.2 3082.7 2245.7 C3086.4 2247.2 3089.3 2248.9 3093.0 2250.9 C3096.7 2252.9 3100.7 2256.3 3104.9 2257.5 C3109.1 2258.7 3115.5 2256.7 3118.2 2258.3 C3120.9 2259.9 3119.6 2263.9 3121.1 2267.1 C3122.6 2270.3 3126.8 2274.1 3127.0 2277.5 C3127.2 2280.9 3123.3 2284.4 3122.6 2287.8 C3121.9 2291.2 3124.6 2295.0 3122.6 2298.2 C3120.6 2301.4 3113.5 2303.8 3110.8 2307.0 C3108.1 2310.2 3108.8 2314.4 3106.3 2317.4 C3103.8 2320.4 3098.9 2321.6 3096.0 2324.8 C3093.1 2328.0 3090.8 2332.9 3088.6 2336.6 C3086.4 2340.3 3085.2 2344.8 3082.7 2347.0 C3080.2 2349.2 3078.0 2348.2 3073.8 2349.9 C3069.6 2351.6 3062.3 2355.3 3057.6 2357.3 C3052.9 2359.3 3049.6 2361.2 3045.7 2361.7 C3041.8 2362.2 3037.8 2361.0 3033.9 2360.3 C3030.0 2359.6 3024.6 2360.8 3022.1 2357.3 C3019.6 2353.9 3019.6 2348.7 3019.1 2339.6 C3018.6 2330.5 3018.1 2313.9 3019.1 2302.6 C3020.1 2291.3 3023.0 2277.4 3025.0 2271.6 C3027.0 2265.8 3026.6 2269.0 3031.0 2267.9 C3035.4 2266.8 3047.2 2267.2 3051.6 2264.9 C3056.0 2262.6 3054.4 2257.6 3057.6 2253.8 C3060.8 2250.0 3066.7 2243.3 3070.9 2242.0Z" fill="#95b35a"/>
<g clip-path="url(#c13)">
<path d="M3060.5 2259.0 C3062.0 2254.0 3066.8 2254.5 3070.0 2255.0 C3073.2 2255.5 3076.3 2259.8 3080.0 2262.0 C3083.7 2264.2 3089.0 2264.7 3092.0 2268.0 C3095.0 2271.3 3096.6 2278.7 3098.0 2282.0 C3099.4 2285.3 3101.1 2285.0 3100.4 2288.0 C3099.7 2291.0 3096.6 2297.8 3094.0 2300.0 C3091.4 2302.2 3089.0 2302.2 3085.0 2301.0 C3081.0 2299.8 3074.0 2295.7 3070.0 2293.0 C3066.0 2290.3 3062.6 2290.7 3061.0 2285.0 C3059.4 2279.3 3059.0 2264.0 3060.5 2259.0Z" fill="#5fa072"/>
<path d="M3048.0 2302.0 C3050.5 2301.0 3052.7 2302.7 3055.0 2304.0 C3057.3 2305.3 3058.7 2305.7 3062.0 2310.0 C3065.3 2314.3 3071.6 2324.2 3075.0 2330.0 C3078.4 2335.8 3083.2 2341.7 3082.7 2345.0 C3082.2 2348.3 3077.4 2348.9 3072.0 2350.0 C3066.6 2351.1 3056.7 2351.2 3050.0 2351.4 C3043.3 2351.6 3035.4 2353.7 3032.0 2351.0 C3028.6 2348.3 3029.0 2341.0 3029.5 2335.0 C3030.0 2329.0 3033.2 2319.2 3035.0 2315.0 C3036.8 2310.8 3037.8 2312.2 3040.0 2310.0 C3042.2 2307.8 3045.5 2303.0 3048.0 2302.0Z" fill="#5fa072"/>
<ellipse cx="3114.0" cy="2295.0" rx="5.0" ry="7.0" transform="rotate(20.0 3114.0 2295.0)" fill="#5fa072"/>
</g>
<path d="M3070.9 2242.0 C3075.1 2240.7 3079.0 2244.2 3082.7 2245.7 C3086.4 2247.2 3089.3 2248.9 3093.0 2250.9 C3096.7 2252.9 3100.7 2256.3 3104.9 2257.5 C3109.1 2258.7 3115.5 2256.7 3118.2 2258.3 C3120.9 2259.9 3119.6 2263.9 3121.1 2267.1 C3122.6 2270.3 3126.8 2274.1 3127.0 2277.5 C3127.2 2280.9 3123.3 2284.4 3122.6 2287.8 C3121.9 2291.2 3124.6 2295.0 3122.6 2298.2 C3120.6 2301.4 3113.5 2303.8 3110.8 2307.0 C3108.1 2310.2 3108.8 2314.4 3106.3 2317.4 C3103.8 2320.4 3098.9 2321.6 3096.0 2324.8 C3093.1 2328.0 3090.8 2332.9 3088.6 2336.6 C3086.4 2340.3 3085.2 2344.8 3082.7 2347.0 C3080.2 2349.2 3078.0 2348.2 3073.8 2349.9 C3069.6 2351.6 3062.3 2355.3 3057.6 2357.3 C3052.9 2359.3 3049.6 2361.2 3045.7 2361.7 C3041.8 2362.2 3037.8 2361.0 3033.9 2360.3 C3030.0 2359.6 3024.6 2360.8 3022.1 2357.3 C3019.6 2353.9 3019.6 2348.7 3019.1 2339.6 C3018.6 2330.5 3018.1 2313.9 3019.1 2302.6 C3020.1 2291.3 3023.0 2277.4 3025.0 2271.6 C3027.0 2265.8 3026.6 2269.0 3031.0 2267.9 C3035.4 2266.8 3047.2 2267.2 3051.6 2264.9 C3056.0 2262.6 3054.4 2257.6 3057.6 2253.8 C3060.8 2250.0 3066.7 2243.3 3070.9 2242.0Z" fill="none" stroke="#000" stroke-width="2.1" stroke-linejoin="round"/>
<ellipse cx="3047.0" cy="2166.0" rx="4.5" ry="2.8" transform="rotate(-20.0 3047.0 2166.0)" fill="#95b35a" stroke="#000" stroke-width="2.0"/>
<ellipse cx="3069.0" cy="2185.0" rx="5.0" ry="7.0" transform="rotate(0.0 3069.0 2185.0)" fill="#95b35a" stroke="#000" stroke-width="2.0"/>
</g>
<g clip-path="url(#frame)" stroke="#808080" stroke-opacity="0.5" stroke-width="2.1" stroke-dasharray="7.7 3.3" fill="none">
<line x1="262.6" y1="186.9" x2="3346.1" y2="186.9"/>
<line x1="262.6" y1="512.4" x2="3346.1" y2="512.4"/>
<line x1="262.6" y1="837.9" x2="3346.1" y2="837.9"/>
<line x1="262.6" y1="1163.4" x2="3346.1" y2="1163.4"/>
<line x1="262.6" y1="1488.9" x2="3346.1" y2="1488.9"/>
<line x1="262.6" y1="1814.4" x2="3346.1" y2="1814.4"/>
<line x1="262.6" y1="2139.9" x2="3346.1" y2="2139.9"/>
<line x1="641.8" y1="108.9" x2="641.8" y2="2375.9"/>
<line x1="1030.8" y1="108.9" x2="1030.8" y2="2375.9"/>
<line x1="1419.9" y1="108.9" x2="1419.9" y2="2375.9"/>
<line x1="1808.9" y1="108.9" x2="1808.9" y2="2375.9"/>
<line x1="2197.9" y1="108.9" x2="2197.9" y2="2375.9"/>
<line x1="2586.9" y1="108.9" x2="2586.9" y2="2375.9"/>
<line x1="2976.0" y1="108.9" x2="2976.0" y2="2375.9"/>
</g>
<rect x="345" y="392" width="372" height="1344" fill="#fff" fill-opacity="0.6"/>
<rect x="262.6" y="108.9" width="3083.5" height="2267.0" fill="none" stroke="#000" stroke-width="2"/>
<text class="k_title" x="1243.73" y="85.30" font-size="53.00" textLength="1117.49" lengthAdjust="spacingAndGlyphs">Malampa: Mean El Niño August Temperature</text>
<text class="k_lat0" x="103.38" y="199.10" font-size="44.00" textLength="138.19" lengthAdjust="spacingAndGlyphs">15.6°S</text>
<text class="k_lat1" x="103.38" y="524.60" font-size="44.00" textLength="138.19" lengthAdjust="spacingAndGlyphs">15.8°S</text>
<text class="k_lat2" x="143.39" y="850.10" font-size="44.00" textLength="98.87" lengthAdjust="spacingAndGlyphs">16°S</text>
<text class="k_lat3" x="103.38" y="1175.60" font-size="44.00" textLength="138.19" lengthAdjust="spacingAndGlyphs">16.2°S</text>
<text class="k_lat4" x="103.38" y="1501.10" font-size="44.00" textLength="138.19" lengthAdjust="spacingAndGlyphs">16.4°S</text>
<text class="k_lat5" x="103.38" y="1826.60" font-size="44.00" textLength="138.19" lengthAdjust="spacingAndGlyphs">16.6°S</text>
<text class="k_lat6" x="103.38" y="2152.10" font-size="44.00" textLength="138.19" lengthAdjust="spacingAndGlyphs">16.8°S</text>
<text class="k_lon0" x="576.81" y="2428.30" font-size="44.00" textLength="127.69" lengthAdjust="spacingAndGlyphs">167°E</text>
<text class="k_lon1" x="932.38" y="2428.30" font-size="44.00" textLength="194.94" lengthAdjust="spacingAndGlyphs">167.25°E</text>
<text class="k_lon2" x="1335.09" y="2428.30" font-size="44.00" textLength="167.40" lengthAdjust="spacingAndGlyphs">167.5°E</text>
<text class="k_lon3" x="1710.68" y="2428.30" font-size="44.00" textLength="194.94" lengthAdjust="spacingAndGlyphs">167.75°E</text>
<text class="k_lon4" x="2132.36" y="2428.30" font-size="44.00" textLength="129.71" lengthAdjust="spacingAndGlyphs">168°E</text>
<text class="k_lon5" x="2489.01" y="2428.30" font-size="44.00" textLength="193.91" lengthAdjust="spacingAndGlyphs">168.25°E</text>
<text class="k_lon6" x="2891.70" y="2428.30" font-size="44.00" textLength="167.40" lengthAdjust="spacingAndGlyphs">168.5°E</text>
<polygon points="370.0,619.0 397.8,482.5 425.5,619.0" fill="#700000"/>
<rect x="370.0" y="619.0" width="55.5" height="136.5" fill="#ff5a00"/>
<rect x="370.0" y="755.0" width="55.5" height="136.5" fill="#fdbf1c"/>
<rect x="370.0" y="891.0" width="55.5" height="136.5" fill="#e2f24d"/>
<rect x="370.0" y="1027.0" width="55.5" height="136.5" fill="#77ae05"/>
<rect x="370.0" y="1163.0" width="55.5" height="136.5" fill="#007f27"/>
<rect x="370.0" y="1299.0" width="55.5" height="136.5" fill="#49bba6"/>
<polygon points="370.0,1435.0 397.8,1571.0 425.5,1435.0" fill="#98cdee"/>
<polygon points="370.0,619.0 397.8,482.5 425.5,619.0 425.5,1435.0 397.8,1571.0 370.0,1435.0" fill="none" stroke="#000" stroke-width="4.2" stroke-linejoin="round"/>
<text class="k_tick0" x="441.46" y="634.00" font-size="44.00" textLength="49.63" lengthAdjust="spacingAndGlyphs">30</text>
<text class="k_tick1" x="440.42" y="770.00" font-size="44.00" textLength="50.71" lengthAdjust="spacingAndGlyphs">28</text>
<text class="k_tick2" x="440.42" y="906.00" font-size="44.00" textLength="50.71" lengthAdjust="spacingAndGlyphs">26</text>
<text class="k_tick3" x="440.47" y="1042.00" font-size="44.00" textLength="49.60" lengthAdjust="spacingAndGlyphs">24</text>
<text class="k_tick4" x="440.42" y="1178.00" font-size="44.00" textLength="50.70" lengthAdjust="spacingAndGlyphs">22</text>
<text class="k_tick5" x="440.42" y="1314.00" font-size="44.00" textLength="50.71" lengthAdjust="spacingAndGlyphs">20</text>
<text class="k_tick6" x="439.39" y="1450.00" font-size="44.00" textLength="50.51" lengthAdjust="spacingAndGlyphs">18</text>
<text class="k_degc" x="369.50" y="458.30" font-size="53.00" textLength="59.50" lengthAdjust="spacingAndGlyphs">°C</text>
<circle cx="398.4" cy="1659.4" r="18" fill="none" stroke="#000" stroke-width="4.2"/>
<text class="k_stations" x="472.87" y="1674.00" font-size="44.00" textLength="170.41" lengthAdjust="spacingAndGlyphs">Stations</text>
<path d="M356.9 1835.2 L1150.1 1835.2 Q1192.6 1835.2 1192.6 1877.7 L1192.6 2288.9 Q1192.6 2331.4 1150.1 2331.4 L356.9 2331.4 Q314.4 2331.4 314.4 2288.9 L314.4 1877.7 Q314.4 1835.2 356.9 1835.2Z" fill="#fff" stroke="#000" stroke-width="1.8"/>
<text class="k_b1" x="355.24" y="1903.60" font-size="35.30" textLength="745.66" lengthAdjust="spacingAndGlyphs">Based on all currently available temperature</text>
<text class="k_b2" x="355.36" y="1941.20" font-size="35.30" textLength="644.37" lengthAdjust="spacingAndGlyphs">station data for the period 1951-2022.</text>
<text class="k_n1" x="353.88" y="2003.70" font-size="24.30" textLength="680.13" lengthAdjust="spacingAndGlyphs">Note: Climate station markers are coloured using the same</text>
<text class="k_n2" x="354.41" y="2030.90" font-size="24.30" textLength="735.18" lengthAdjust="spacingAndGlyphs">classification and colour scheme as the underlying climate grid.</text>
<text class="k_n3" x="354.41" y="2057.10" font-size="24.30" textLength="733.09" lengthAdjust="spacingAndGlyphs">Stations with shorter climate records have less influence on the</text>
<text class="k_n4" x="354.40" y="2083.70" font-size="24.30" textLength="585.32" lengthAdjust="spacingAndGlyphs">climate surface and may display a different colour.</text>
<text class="k_c1" x="354.43" y="2133.70" font-size="24.30" textLength="796.87" lengthAdjust="spacingAndGlyphs">Copyright Vanuatu Meteorology and Geo-Hazards Department, 2023.</text>
<text class="k_t1" x="354.47" y="2202.00" font-size="24.30" textLength="339.26" lengthAdjust="spacingAndGlyphs">Technical production by NIWA</text>
<text class="k_i1" x="354.85" y="2263.20" font-size="19.90" textLength="723.06" lengthAdjust="spacingAndGlyphs">Implemented by Secretariat of the Pacific Regional Environment Programme.</text>
<text class="k_f1" x="354.94" y="2284.90" font-size="19.90" textLength="334.52" lengthAdjust="spacingAndGlyphs">Funded by the Green Climate Fund.</text>
<defs><radialGradient id="niwag" cx="0.42" cy="0.4" r="0.62"><stop offset="0" stop-color="#2196de"/><stop offset="0.45" stop-color="#1258a8"/><stop offset="1" stop-color="#0c2d6c"/></radialGradient></defs>
<circle cx="775.8" cy="2195.5" r="30.3" fill="url(#niwag)"/>
<g fill="none" stroke="#fff" stroke-linecap="round">
<path d="M764.5 2225 C766 2213 774 2205 786 2199 C795 2194 801 2190 806.5 2188.5" stroke-width="4.2"/>
<path d="M778 2182 C773 2175 762 2177 761 2187 C760 2196 770 2199 777 2196" stroke-width="4.5"/>
<path d="M757 2168 C766 2164 775 2170 777 2178" stroke-width="2.6"/>
<path d="M772 2164 C781 2168 787 2178 788 2190" stroke-width="2.6"/>
<path d="M783 2165 C793 2170 800 2178 805 2185" stroke-width="2.6"/>
<path d="M802 2194 C807 2202 806 2210 799 2215" stroke-width="2.6"/>
</g>
<text x="818.2" y="2200.9" font-size="35" font-weight="bold" fill="#0f2d6b" textLength="93.5" lengthAdjust="spacingAndGlyphs">NIWA</text>
<text x="818.6" y="2215" font-size="10" fill="#0f2d6b" textLength="67.8" lengthAdjust="spacingAndGlyphs">Taihoro Nukurangi</text>
<rect x="2874" y="144" width="418" height="380" fill="#fff"/>
<circle cx="3083.5" cy="317.5" r="115" fill="#e8921e" stroke="#5a3000" stroke-width="1.5"/>
<circle cx="3083.5" cy="317.5" r="108" fill="none" stroke="#a85a10" stroke-width="1.5"/>
<circle cx="3083.5" cy="317.5" r="101" fill="#4a2200"/>
<circle cx="3083.5" cy="317.5" r="96.5" fill="#1eaee8"/>
<g stroke="#7fd4f4" stroke-width="1.2">
<line x1="3083.5" y1="317.5" x2="3179.5" y2="317.5"/>
<line x1="3083.5" y1="317.5" x2="3151.4" y2="385.4"/>
<line x1="3083.5" y1="317.5" x2="3083.5" y2="413.5"/>
<line x1="3083.5" y1="317.5" x2="3015.6" y2="385.4"/>
<line x1="3083.5" y1="317.5" x2="2987.5" y2="317.5"/>
<line x1="3083.5" y1="317.5" x2="3015.6" y2="249.6"/>
<line x1="3083.5" y1="317.5" x2="3083.5" y2="221.5"/>
<line x1="3083.5" y1="317.5" x2="3151.4" y2="249.6"/>
</g>
<ellipse cx="3092" cy="308" rx="79" ry="48" fill="#fff200" stroke="#333" stroke-width="1"/>
<path d="M3001.1 368.1 L3005.2 358.9 L3015.3 348.8 L3028.5 344.7 L3040.7 342.7 L3051.9 335.6 L3066.1 331.5 L3061.0 316.3 L3064.1 306.1 L3074.2 296.0 L3076.3 285.8 L3075.3 270.6 L3082.4 255.3 L3096.6 246.2 L3116.9 243.1 L3135.2 246.2 L3145.3 257.3 L3146.4 270.6 L3157.5 282.7 L3162.6 298.0 L3161.6 316.3 L3153.5 328.5 L3141.3 333.5 L3143.3 342.7 L3139.3 351.8 L3129.1 354.9 L3130.1 367.1 L3111.8 385.3 L3107.8 391.4 L3084.4 369.1 L3001.1 369.1Z" fill="#231f20" stroke="#231f20" stroke-width="1.5" stroke-linejoin="round"/>
<path d="M3006.2 366.0 L3010.2 356.9 L3019.4 351.8 L3030.6 347.8 L3042.7 345.7 L3052.9 339.6 L3070.2 335.6 L3065.1 316.3 L3068.1 308.1 L3078.3 299.0 L3080.3 285.8 L3079.3 270.6 L3086.4 258.4 L3098.6 250.2 L3116.9 247.2 L3133.2 250.2 L3141.3 259.4 L3142.3 273.6 L3153.5 284.8 L3157.5 298.0 L3156.5 315.3 L3149.4 324.4 L3137.2 329.5 L3138.2 341.7 L3135.2 348.8 L3125.0 350.8 L3125.0 366.5 L3006.2 366.5Z" fill="#fff"/>
<path d="M3012.3 364.0 L3017.3 356.9 L3033.6 352.8 L3047.8 348.8 L3056.0 344.7 L3075.3 340.6 L3070.2 326.4 L3069.2 314.2 L3076.3 305.1 L3086.4 301.0 L3101.7 302.0 L3106.7 298.0 L3099.6 291.9 L3100.6 282.7 L3108.8 275.6 L3123.0 274.6 L3131.1 279.7 L3123.0 282.7 L3121.0 289.9 L3132.1 293.9 L3143.3 301.0 L3146.4 314.2 L3140.3 323.4 L3130.1 328.5 L3132.1 336.6 L3119.9 338.6 L3111.8 337.6 L3096.6 339.6 L3091.5 344.7 L3091.5 346.7 L3124.0 349.8 L3124.0 364.3Z" fill="#231f20"/>
<path d="M3084.4 291.9 L3081.3 275.6 L3086.4 261.4 L3098.6 254.3 L3121.0 251.8 L3114.9 258.4 L3111.8 268.5 L3103.7 275.6 L3098.6 283.8 L3097.6 291.9 L3092.5 293.9Z" fill="#231f20"/>
<line x1="3012" y1="365.3" x2="3125" y2="366.2" stroke="#fff" stroke-width="1.6"/>
<path d="M3070.0 373.5 L3071.6 377.8 L3076.2 378.0 L3072.6 380.8 L3073.8 385.3 L3070.0 382.7 L3066.2 385.3 L3067.4 380.8 L3063.8 378.0 L3068.4 377.8Z" fill="#fff"/>
<path d="M3090.8 383.9 L3092.2 387.5 L3096.0 387.7 L3093.0 390.1 L3094.0 393.8 L3090.8 391.7 L3087.6 393.8 L3088.6 390.1 L3085.6 387.7 L3089.4 387.5Z" fill="#fff"/>
<path d="M3053.9 391.9 L3055.8 396.9 L3061.0 397.1 L3056.9 400.4 L3058.3 405.5 L3053.9 402.5 L3049.5 405.5 L3050.9 400.4 L3046.8 397.1 L3052.0 396.9Z" fill="#fff"/>
<path d="M3109.3 393.1 L3110.7 396.7 L3114.5 396.9 L3111.5 399.3 L3112.5 403.0 L3109.3 400.9 L3106.1 403.0 L3107.1 399.3 L3104.1 396.9 L3107.9 396.7Z" fill="#fff"/>
<path d="M3120.1 374.4 L3121.7 378.7 L3126.3 378.9 L3122.7 381.7 L3123.9 386.2 L3120.1 383.6 L3116.3 386.2 L3117.5 381.7 L3113.9 378.9 L3118.5 378.7Z" fill="#fff"/>
<path d="M3130.1 384.9 L3132.0 389.9 L3137.2 390.1 L3133.1 393.4 L3134.5 398.5 L3130.1 395.5 L3125.7 398.5 L3127.1 393.4 L3123.0 390.1 L3128.2 389.9Z" fill="#fff"/>
<path id="tp" d="M 2972.82 381.40 A 127.8 127.8 0 0 1 3194.18 253.60 A 127.8 127.8 0 0 1 2972.82 381.40 A 127.8 127.8 0 0 1 3194.18 253.60" fill="none"/>
<text font-size="34" font-weight="bold" fill="#231f20" letter-spacing="-0.86"><textPath href="#tp" xlink:href="#tp" startOffset="19.0">Department Vanuatu Meteorology and Geo-Hazards</textPath></text>
<path d="M3115.6 505.7 L3107.8 506.9 L3099.8 507.8 L3091.9 508.3 L3083.9 508.5 L3076.0 508.3 L3068.0 507.9 L3060.1 507.0 L3052.2 505.8 L3044.4 504.3 L3036.7 502.5 L3029.0 500.3 L3021.4 497.8 L3014.0 494.9 L3006.7 491.8 L2999.5 488.3 L2992.5 484.6 L2985.6 480.5 L2979.0 476.1 L2972.5 471.5 L2966.2 466.6 L2960.2 461.4 L2954.4 456.0 L2948.8 450.3 L2943.5 444.4 L2938.4 438.2 L2933.6 431.9 L2929.1 425.3 L2924.8 418.6 L2920.9 411.7 L2917.2 404.6 L2913.9 397.4 L2910.9 390.0 L2908.2 382.5 L2905.7 374.9 L2903.5 367.3 L2901.5 359.5 L2899.9 351.7 L2898.5 343.8 L2897.4 335.9 L2896.7 327.8 L2896.3 319.8 L2896.2 311.7 L2896.4 303.6 L2896.9 295.5 L2897.8 287.4 L2899.0 279.3 L2900.6 271.3 L2902.5 263.3 L2904.7 255.3 L2907.2 247.5 L2910.1 239.7 L2913.3 232.0 L2916.8 224.4 L2920.7 216.9 L2924.8 209.6 L2929.3 202.5 L2934.1 195.5 L2939.2 188.7 L2944.6 182.0 L2950.3 175.6" fill="none" stroke="#1d8c4a" stroke-width="3"/>
<ellipse cx="3030.1" cy="508.8" rx="10" ry="3" transform="rotate(136.3 3030.1 508.8)" fill="#1d8c4a"/>
<ellipse cx="3033.6" cy="493.9" rx="10" ry="3" transform="rotate(-109.5 3033.6 493.9)" fill="#1d8c4a"/>
<ellipse cx="3014.3" cy="503.5" rx="10" ry="3" transform="rotate(141.3 3014.3 503.5)" fill="#1d8c4a"/>
<ellipse cx="3019.2" cy="489.0" rx="10" ry="3" transform="rotate(-104.5 3019.2 489.0)" fill="#1d8c4a"/>
<ellipse cx="2999.1" cy="496.9" rx="10" ry="3" transform="rotate(146.2 2999.1 496.9)" fill="#1d8c4a"/>
<ellipse cx="3005.2" cy="482.8" rx="10" ry="3" transform="rotate(-99.6 3005.2 482.8)" fill="#1d8c4a"/>
<ellipse cx="2984.5" cy="489.0" rx="10" ry="3" transform="rotate(151.1 2984.5 489.0)" fill="#1d8c4a"/>
<ellipse cx="2991.8" cy="475.5" rx="10" ry="3" transform="rotate(-94.7 2991.8 475.5)" fill="#1d8c4a"/>
<ellipse cx="2970.7" cy="479.8" rx="10" ry="3" transform="rotate(156.1 2970.7 479.8)" fill="#1d8c4a"/>
<ellipse cx="2979.0" cy="467.0" rx="10" ry="3" transform="rotate(-89.7 2979.0 467.0)" fill="#1d8c4a"/>
<ellipse cx="2957.6" cy="469.6" rx="10" ry="3" transform="rotate(161.0 2957.6 469.6)" fill="#1d8c4a"/>
<ellipse cx="2967.1" cy="457.5" rx="10" ry="3" transform="rotate(-84.8 2967.1 457.5)" fill="#1d8c4a"/>
<ellipse cx="2945.5" cy="458.2" rx="10" ry="3" transform="rotate(165.9 2945.5 458.2)" fill="#1d8c4a"/>
<ellipse cx="2956.0" cy="447.0" rx="10" ry="3" transform="rotate(-79.9 2956.0 447.0)" fill="#1d8c4a"/>
<ellipse cx="2934.5" cy="445.8" rx="10" ry="3" transform="rotate(170.9 2934.5 445.8)" fill="#1d8c4a"/>
<ellipse cx="2945.8" cy="435.6" rx="10" ry="3" transform="rotate(-74.9 2945.8 435.6)" fill="#1d8c4a"/>
<ellipse cx="2924.5" cy="432.6" rx="10" ry="3" transform="rotate(175.8 2924.5 432.6)" fill="#1d8c4a"/>
<ellipse cx="2936.7" cy="423.3" rx="10" ry="3" transform="rotate(-70.0 2936.7 423.3)" fill="#1d8c4a"/>
<ellipse cx="2915.7" cy="418.5" rx="10" ry="3" transform="rotate(-179.3 2915.7 418.5)" fill="#1d8c4a"/>
<ellipse cx="2928.7" cy="410.3" rx="10" ry="3" transform="rotate(-65.1 2928.7 410.3)" fill="#1d8c4a"/>
<ellipse cx="2908.2" cy="403.7" rx="10" ry="3" transform="rotate(-174.3 2908.2 403.7)" fill="#1d8c4a"/>
<ellipse cx="2921.8" cy="396.7" rx="10" ry="3" transform="rotate(-60.1 2921.8 396.7)" fill="#1d8c4a"/>
<ellipse cx="2901.9" cy="388.3" rx="10" ry="3" transform="rotate(-169.4 2901.9 388.3)" fill="#1d8c4a"/>
<ellipse cx="2916.1" cy="382.5" rx="10" ry="3" transform="rotate(-55.2 2916.1 382.5)" fill="#1d8c4a"/>
<ellipse cx="2896.9" cy="372.6" rx="10" ry="3" transform="rotate(-165.2 2896.9 372.6)" fill="#1d8c4a"/>
<ellipse cx="2911.4" cy="367.9" rx="10" ry="3" transform="rotate(-51.0 2911.4 367.9)" fill="#1d8c4a"/>
<ellipse cx="2892.9" cy="356.6" rx="10" ry="3" transform="rotate(-161.2 2892.9 356.6)" fill="#1d8c4a"/>
<ellipse cx="2907.7" cy="352.9" rx="10" ry="3" transform="rotate(-47.0 2907.7 352.9)" fill="#1d8c4a"/>
<ellipse cx="2890.1" cy="340.2" rx="10" ry="3" transform="rotate(-156.9 2890.1 340.2)" fill="#1d8c4a"/>
<ellipse cx="2905.2" cy="337.6" rx="10" ry="3" transform="rotate(-42.7 2905.2 337.6)" fill="#1d8c4a"/>
<ellipse cx="2888.6" cy="323.6" rx="10" ry="3" transform="rotate(-152.4 2888.6 323.6)" fill="#1d8c4a"/>
<ellipse cx="2903.9" cy="322.2" rx="10" ry="3" transform="rotate(-38.2 2903.9 322.2)" fill="#1d8c4a"/>
<ellipse cx="2888.5" cy="306.9" rx="10" ry="3" transform="rotate(-147.8 2888.5 306.9)" fill="#1d8c4a"/>
<ellipse cx="2903.8" cy="306.7" rx="10" ry="3" transform="rotate(-33.6 2903.8 306.7)" fill="#1d8c4a"/>
<ellipse cx="2889.7" cy="290.1" rx="10" ry="3" transform="rotate(-143.2 2889.7 290.1)" fill="#1d8c4a"/>
<ellipse cx="2904.9" cy="291.1" rx="10" ry="3" transform="rotate(-29.0 2904.9 291.1)" fill="#1d8c4a"/>
<ellipse cx="2892.2" cy="273.3" rx="10" ry="3" transform="rotate(-138.6 2892.2 273.3)" fill="#1d8c4a"/>
<ellipse cx="2907.3" cy="275.6" rx="10" ry="3" transform="rotate(-24.4 2907.3 275.6)" fill="#1d8c4a"/>
<ellipse cx="2896.1" cy="256.7" rx="10" ry="3" transform="rotate(-133.9 2896.1 256.7)" fill="#1d8c4a"/>
<ellipse cx="2911.0" cy="260.2" rx="10" ry="3" transform="rotate(-19.7 2911.0 260.2)" fill="#1d8c4a"/>
<ellipse cx="2901.4" cy="240.4" rx="10" ry="3" transform="rotate(-129.2 2901.4 240.4)" fill="#1d8c4a"/>
<ellipse cx="2916.0" cy="245.1" rx="10" ry="3" transform="rotate(-15.0 2916.0 245.1)" fill="#1d8c4a"/>
<ellipse cx="2908.1" cy="224.5" rx="10" ry="3" transform="rotate(-124.5 2908.1 224.5)" fill="#1d8c4a"/>
<ellipse cx="2922.2" cy="230.3" rx="10" ry="3" transform="rotate(-10.3 2922.2 230.3)" fill="#1d8c4a"/>
<ellipse cx="2916.1" cy="209.0" rx="10" ry="3" transform="rotate(-119.8 2916.1 209.0)" fill="#1d8c4a"/>
<ellipse cx="2929.7" cy="216.1" rx="10" ry="3" transform="rotate(-5.6 2929.7 216.1)" fill="#1d8c4a"/>
<ellipse cx="2925.5" cy="194.2" rx="10" ry="3" transform="rotate(-115.0 2925.5 194.2)" fill="#1d8c4a"/>
<ellipse cx="2938.4" cy="202.3" rx="10" ry="3" transform="rotate(-0.8 2938.4 202.3)" fill="#1d8c4a"/>
<ellipse cx="2936.1" cy="180.1" rx="10" ry="3" transform="rotate(-110.3 2936.1 180.1)" fill="#1d8c4a"/>
<ellipse cx="2948.3" cy="189.3" rx="10" ry="3" transform="rotate(3.9 2948.3 189.3)" fill="#1d8c4a"/>
<ellipse cx="2947.9" cy="166.8" rx="10" ry="3" transform="rotate(-105.5 2947.9 166.8)" fill="#1d8c4a"/>
<ellipse cx="2959.3" cy="177.0" rx="10" ry="3" transform="rotate(8.7 2959.3 177.0)" fill="#1d8c4a"/>
<path d="M3051.4 505.7 L3059.2 506.9 L3067.2 507.8 L3075.1 508.3 L3083.1 508.5 L3091.0 508.3 L3099.0 507.9 L3106.9 507.0 L3114.8 505.8 L3122.6 504.3 L3130.3 502.5 L3138.0 500.3 L3145.6 497.8 L3153.0 494.9 L3160.3 491.8 L3167.5 488.3 L3174.5 484.6 L3181.4 480.5 L3188.0 476.1 L3194.5 471.5 L3200.8 466.6 L3206.8 461.4 L3212.6 456.0 L3218.2 450.3 L3223.5 444.4 L3228.6 438.2 L3233.4 431.9 L3237.9 425.3 L3242.2 418.6 L3246.1 411.7 L3249.8 404.6 L3253.1 397.4 L3256.1 390.0 L3258.8 382.5 L3261.3 374.9 L3263.5 367.3 L3265.5 359.5 L3267.1 351.7 L3268.5 343.8 L3269.6 335.9 L3270.3 327.8 L3270.7 319.8 L3270.8 311.7 L3270.6 303.6 L3270.1 295.5 L3269.2 287.4 L3268.0 279.3 L3266.4 271.3 L3264.5 263.3 L3262.3 255.3 L3259.8 247.5 L3256.9 239.7 L3253.7 232.0 L3250.2 224.4 L3246.3 216.9 L3242.2 209.6 L3237.7 202.5 L3232.9 195.5 L3227.8 188.7 L3222.4 182.0 L3216.7 175.6" fill="none" stroke="#1d8c4a" stroke-width="3"/>
<ellipse cx="3133.4" cy="493.9" rx="10" ry="3" transform="rotate(-70.5 3133.4 493.9)" fill="#1d8c4a"/>
<ellipse cx="3136.9" cy="508.8" rx="10" ry="3" transform="rotate(43.7 3136.9 508.8)" fill="#1d8c4a"/>
<ellipse cx="3147.8" cy="489.0" rx="10" ry="3" transform="rotate(-75.5 3147.8 489.0)" fill="#1d8c4a"/>
<ellipse cx="3152.7" cy="503.5" rx="10" ry="3" transform="rotate(38.7 3152.7 503.5)" fill="#1d8c4a"/>
<ellipse cx="3161.8" cy="482.8" rx="10" ry="3" transform="rotate(-80.4 3161.8 482.8)" fill="#1d8c4a"/>
<ellipse cx="3167.9" cy="496.9" rx="10" ry="3" transform="rotate(33.8 3167.9 496.9)" fill="#1d8c4a"/>
<ellipse cx="3175.2" cy="475.5" rx="10" ry="3" transform="rotate(-85.3 3175.2 475.5)" fill="#1d8c4a"/>
<ellipse cx="3182.5" cy="489.0" rx="10" ry="3" transform="rotate(28.9 3182.5 489.0)" fill="#1d8c4a"/>
<ellipse cx="3188.0" cy="467.0" rx="10" ry="3" transform="rotate(-90.3 3188.0 467.0)" fill="#1d8c4a"/>
<ellipse cx="3196.3" cy="479.8" rx="10" ry="3" transform="rotate(23.9 3196.3 479.8)" fill="#1d8c4a"/>
<ellipse cx="3199.9" cy="457.5" rx="10" ry="3" transform="rotate(-95.2 3199.9 457.5)" fill="#1d8c4a"/>
<ellipse cx="3209.4" cy="469.6" rx="10" ry="3" transform="rotate(19.0 3209.4 469.6)" fill="#1d8c4a"/>
<ellipse cx="3211.0" cy="447.0" rx="10" ry="3" transform="rotate(-100.1 3211.0 447.0)" fill="#1d8c4a"/>
<ellipse cx="3221.5" cy="458.2" rx="10" ry="3" transform="rotate(14.1 3221.5 458.2)" fill="#1d8c4a"/>
<ellipse cx="3221.2" cy="435.6" rx="10" ry="3" transform="rotate(-105.1 3221.2 435.6)" fill="#1d8c4a"/>
<ellipse cx="3232.5" cy="445.8" rx="10" ry="3" transform="rotate(9.1 3232.5 445.8)" fill="#1d8c4a"/>
<ellipse cx="3230.3" cy="423.3" rx="10" ry="3" transform="rotate(-110.0 3230.3 423.3)" fill="#1d8c4a"/>
<ellipse cx="3242.5" cy="432.6" rx="10" ry="3" transform="rotate(4.2 3242.5 432.6)" fill="#1d8c4a"/>
<ellipse cx="3238.3" cy="410.3" rx="10" ry="3" transform="rotate(-114.9 3238.3 410.3)" fill="#1d8c4a"/>
<ellipse cx="3251.3" cy="418.5" rx="10" ry="3" transform="rotate(-0.7 3251.3 418.5)" fill="#1d8c4a"/>
<ellipse cx="3245.2" cy="396.7" rx="10" ry="3" transform="rotate(-119.9 3245.2 396.7)" fill="#1d8c4a"/>
<ellipse cx="3258.8" cy="403.7" rx="10" ry="3" transform="rotate(-5.7 3258.8 403.7)" fill="#1d8c4a"/>
<ellipse cx="3250.9" cy="382.5" rx="10" ry="3" transform="rotate(-124.8 3250.9 382.5)" fill="#1d8c4a"/>
<ellipse cx="3265.1" cy="388.3" rx="10" ry="3" transform="rotate(-10.6 3265.1 388.3)" fill="#1d8c4a"/>
<ellipse cx="3255.6" cy="367.9" rx="10" ry="3" transform="rotate(-129.0 3255.6 367.9)" fill="#1d8c4a"/>
<ellipse cx="3270.1" cy="372.6" rx="10" ry="3" transform="rotate(-14.8 3270.1 372.6)" fill="#1d8c4a"/>
<ellipse cx="3259.3" cy="352.9" rx="10" ry="3" transform="rotate(-133.0 3259.3 352.9)" fill="#1d8c4a"/>
<ellipse cx="3274.1" cy="356.6" rx="10" ry="3" transform="rotate(-18.8 3274.1 356.6)" fill="#1d8c4a"/>
<ellipse cx="3261.8" cy="337.6" rx="10" ry="3" transform="rotate(-137.3 3261.8 337.6)" fill="#1d8c4a"/>
<ellipse cx="3276.9" cy="340.2" rx="10" ry="3" transform="rotate(-23.1 3276.9 340.2)" fill="#1d8c4a"/>
<ellipse cx="3263.1" cy="322.2" rx="10" ry="3" transform="rotate(-141.8 3263.1 322.2)" fill="#1d8c4a"/>
<ellipse cx="3278.4" cy="323.6" rx="10" ry="3" transform="rotate(-27.6 3278.4 323.6)" fill="#1d8c4a"/>
<ellipse cx="3263.2" cy="306.7" rx="10" ry="3" transform="rotate(-146.4 3263.2 306.7)" fill="#1d8c4a"/>
<ellipse cx="3278.5" cy="306.9" rx="10" ry="3" transform="rotate(-32.2 3278.5 306.9)" fill="#1d8c4a"/>
<ellipse cx="3262.1" cy="291.1" rx="10" ry="3" transform="rotate(-151.0 3262.1 291.1)" fill="#1d8c4a"/>
<ellipse cx="3277.3" cy="290.1" rx="10" ry="3" transform="rotate(-36.8 3277.3 290.1)" fill="#1d8c4a"/>
<ellipse cx="3259.7" cy="275.6" rx="10" ry="3" transform="rotate(-155.6 3259.7 275.6)" fill="#1d8c4a"/>
<ellipse cx="3274.8" cy="273.3" rx="10" ry="3" transform="rotate(-41.4 3274.8 273.3)" fill="#1d8c4a"/>
<ellipse cx="3256.0" cy="260.2" rx="10" ry="3" transform="rotate(-160.3 3256.0 260.2)" fill="#1d8c4a"/>
<ellipse cx="3270.9" cy="256.7" rx="10" ry="3" transform="rotate(-46.1 3270.9 256.7)" fill="#1d8c4a"/>
<ellipse cx="3251.0" cy="245.1" rx="10" ry="3" transform="rotate(-165.0 3251.0 245.1)" fill="#1d8c4a"/>
<ellipse cx="3265.6" cy="240.4" rx="10" ry="3" transform="rotate(-50.8 3265.6 240.4)" fill="#1d8c4a"/>
<ellipse cx="3244.8" cy="230.3" rx="10" ry="3" transform="rotate(-169.7 3244.8 230.3)" fill="#1d8c4a"/>
<ellipse cx="3258.9" cy="224.5" rx="10" ry="3" transform="rotate(-55.5 3258.9 224.5)" fill="#1d8c4a"/>
<ellipse cx="3237.3" cy="216.1" rx="10" ry="3" transform="rotate(-174.4 3237.3 216.1)" fill="#1d8c4a"/>
<ellipse cx="3250.9" cy="209.0" rx="10" ry="3" transform="rotate(-60.2 3250.9 209.0)" fill="#1d8c4a"/>
<ellipse cx="3228.6" cy="202.3" rx="10" ry="3" transform="rotate(-179.2 3228.6 202.3)" fill="#1d8c4a"/>
<ellipse cx="3241.5" cy="194.2" rx="10" ry="3" transform="rotate(-65.0 3241.5 194.2)" fill="#1d8c4a"/>
<ellipse cx="3218.7" cy="189.3" rx="10" ry="3" transform="rotate(176.1 3218.7 189.3)" fill="#1d8c4a"/>
<ellipse cx="3230.9" cy="180.1" rx="10" ry="3" transform="rotate(-69.7 3230.9 180.1)" fill="#1d8c4a"/>
<ellipse cx="3207.7" cy="177.0" rx="10" ry="3" transform="rotate(171.3 3207.7 177.0)" fill="#1d8c4a"/>
<ellipse cx="3219.1" cy="166.8" rx="10" ry="3" transform="rotate(-74.5 3219.1 166.8)" fill="#1d8c4a"/>
</svg></body></html>
